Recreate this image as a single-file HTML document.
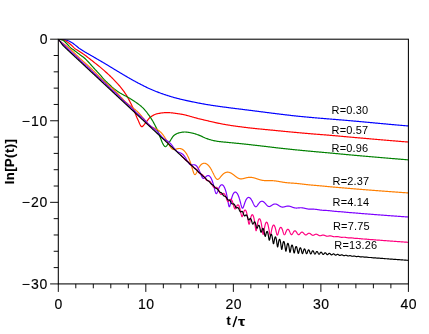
<!DOCTYPE html><html><head><meta charset="utf-8"><title>ln P(t)</title><style>
html,body{margin:0;padding:0;background:#fff;}
body{width:429px;height:334px;position:relative;overflow:hidden;font-family:"Liberation Sans",sans-serif;color:#000;}
#txt{position:absolute;left:0;top:0;width:429px;height:334px;filter:grayscale(1);will-change:transform;}
.t{position:absolute;font-size:14px;line-height:1;white-space:nowrap;-webkit-text-stroke:0.15px #000;}
.l{position:absolute;font-size:11px;line-height:1;white-space:nowrap;}
.b{font-weight:bold;}
</style></head><body>
<svg width="429" height="334" viewBox="0 0 429 334" style="position:absolute;left:0;top:0">
<defs><clipPath id="c"><rect x="58.3" y="39.2" width="350.10" height="244.71"/></clipPath></defs>
<g clip-path="url(#c)" fill="none" stroke-linejoin="round" stroke-linecap="round">
<path d="M58.30,39.20 L58.89,39.21 L59.47,39.22 L60.06,39.25 L60.64,39.29 L61.23,39.34 L61.81,39.39 L62.40,39.44 L62.98,39.50 L63.57,39.57 L64.15,39.66 L64.74,39.77 L65.33,39.90 L65.91,40.04 L66.50,40.20 L67.08,40.37 L67.67,40.55 L68.25,40.77 L68.84,41.01 L69.42,41.29 L70.01,41.58 L70.59,41.90 L71.18,42.22 L71.77,42.56 L72.35,42.92 L72.94,43.31 L73.52,43.74 L74.11,44.20 L74.69,44.66 L75.28,45.13 L75.86,45.59 L76.45,46.07 L77.04,46.57 L77.62,47.07 L78.21,47.54 L78.79,47.99 L79.38,48.42 L79.96,48.82 L80.55,49.22 L81.13,49.60 L81.72,49.98 L82.30,50.35 L82.89,50.71 L83.48,51.08 L84.06,51.44 L84.65,51.80 L85.23,52.15 L85.82,52.49 L86.40,52.84 L86.99,53.18 L87.57,53.51 L88.16,53.85 L88.74,54.18 L89.33,54.51 L89.92,54.84 L90.50,55.17 L91.09,55.50 L91.67,55.84 L92.26,56.17 L92.84,56.51 L93.43,56.85 L94.01,57.19 L94.60,57.53 L95.18,57.87 L95.77,58.21 L96.36,58.55 L96.94,58.89 L97.53,59.24 L98.11,59.58 L98.70,59.92 L99.28,60.26 L99.87,60.60 L100.45,60.95 L101.04,61.29 L101.63,61.63 L102.21,61.98 L102.80,62.32 L103.38,62.67 L103.97,63.01 L104.55,63.36 L105.14,63.71 L105.72,64.06 L106.31,64.41 L106.89,64.76 L107.48,65.11 L108.07,65.46 L108.65,65.81 L109.24,66.17 L109.82,66.52 L110.41,66.88 L110.99,67.24 L111.58,67.60 L112.16,67.95 L112.75,68.31 L113.33,68.67 L113.92,69.03 L114.51,69.39 L115.09,69.74 L115.68,70.10 L116.26,70.45 L116.85,70.81 L117.43,71.16 L118.02,71.51 L118.60,71.86 L119.19,72.21 L119.77,72.56 L120.36,72.91 L120.95,73.26 L121.53,73.61 L122.12,73.96 L122.70,74.30 L123.29,74.65 L123.87,75.00 L124.46,75.35 L125.04,75.69 L125.63,76.04 L126.22,76.38 L126.80,76.72 L127.39,77.06 L127.97,77.40 L128.56,77.74 L129.14,78.08 L129.73,78.42 L130.31,78.75 L130.90,79.08 L131.48,79.41 L132.07,79.74 L132.66,80.06 L133.24,80.39 L133.83,80.71 L134.41,81.03 L135.00,81.35 L135.58,81.67 L136.17,81.99 L136.75,82.30 L137.34,82.61 L137.92,82.92 L138.51,83.23 L139.10,83.53 L139.68,83.84 L140.27,84.14 L140.85,84.44 L141.44,84.74 L142.02,85.04 L142.61,85.34 L143.19,85.63 L143.78,85.93 L144.36,86.23 L144.95,86.52 L145.54,86.81 L146.12,87.10 L146.71,87.39 L147.29,87.67 L147.88,87.95 L148.46,88.23 L149.05,88.50 L149.63,88.77 L150.22,89.03 L150.81,89.29 L151.39,89.54 L151.98,89.79 L152.56,90.03 L153.15,90.28 L153.73,90.52 L154.32,90.76 L154.90,90.99 L155.49,91.23 L156.07,91.46 L156.66,91.69 L157.25,91.91 L157.83,92.14 L158.42,92.36 L159.00,92.58 L159.59,92.80 L160.17,93.01 L160.76,93.22 L161.34,93.43 L161.93,93.64 L162.51,93.85 L163.10,94.05 L163.69,94.25 L164.27,94.45 L164.86,94.65 L165.44,94.85 L166.03,95.04 L166.61,95.23 L167.20,95.42 L167.78,95.61 L168.37,95.80 L168.95,95.99 L169.54,96.17 L170.13,96.35 L170.71,96.53 L171.30,96.71 L171.88,96.88 L172.47,97.05 L173.05,97.22 L173.64,97.39 L174.22,97.56 L174.81,97.72 L175.40,97.88 L175.98,98.03 L176.57,98.19 L177.15,98.34 L177.74,98.49 L178.32,98.63 L178.91,98.78 L179.49,98.93 L180.08,99.07 L180.66,99.21 L181.25,99.35 L181.84,99.49 L182.42,99.63 L183.01,99.76 L183.59,99.90 L184.18,100.03 L184.76,100.17 L185.35,100.30 L185.93,100.43 L186.52,100.56 L187.10,100.69 L187.69,100.81 L188.28,100.94 L188.86,101.06 L189.45,101.19 L190.03,101.31 L190.62,101.43 L191.20,101.56 L191.79,101.68 L192.37,101.80 L192.96,101.92 L193.54,102.04 L194.13,102.15 L194.72,102.27 L195.30,102.39 L195.89,102.50 L196.47,102.62 L197.06,102.73 L197.64,102.85 L198.23,102.96 L198.81,103.07 L199.40,103.19 L199.99,103.30 L200.57,103.41 L201.16,103.52 L201.74,103.63 L202.33,103.74 L202.91,103.85 L203.50,103.95 L204.08,104.06 L204.67,104.16 L205.25,104.27 L205.84,104.37 L206.43,104.47 L207.01,104.57 L207.60,104.67 L208.18,104.76 L208.77,104.86 L209.35,104.95 L209.94,105.04 L210.52,105.13 L211.11,105.22 L211.69,105.31 L212.28,105.40 L212.87,105.49 L213.45,105.58 L214.04,105.66 L214.62,105.75 L215.21,105.84 L215.79,105.92 L216.38,106.01 L216.96,106.09 L217.55,106.17 L218.13,106.26 L218.72,106.34 L219.31,106.42 L219.89,106.50 L220.48,106.58 L221.06,106.66 L221.65,106.74 L222.23,106.82 L222.82,106.90 L223.40,106.98 L223.99,107.06 L224.58,107.14 L225.16,107.21 L225.75,107.29 L226.33,107.37 L226.92,107.44 L227.50,107.52 L228.09,107.60 L228.67,107.67 L229.26,107.75 L229.84,107.82 L230.43,107.90 L231.02,107.97 L231.60,108.05 L232.19,108.12 L232.77,108.19 L233.36,108.27 L233.94,108.34 L234.53,108.41 L235.11,108.49 L235.70,108.56 L236.28,108.63 L236.87,108.71 L237.46,108.78 L238.04,108.85 L238.63,108.92 L239.21,109.00 L239.80,109.07 L240.38,109.14 L240.97,109.21 L241.55,109.29 L242.14,109.36 L242.72,109.43 L243.31,109.50 L243.90,109.58 L244.48,109.65 L245.07,109.72 L245.65,109.79 L246.24,109.87 L246.82,109.94 L247.41,110.01 L247.99,110.09 L248.58,110.16 L249.17,110.23 L249.75,110.30 L250.34,110.38 L250.92,110.45 L251.51,110.53 L252.09,110.60 L252.68,110.67 L253.26,110.75 L253.85,110.82 L254.43,110.90 L255.02,110.97 L255.61,111.05 L256.19,111.12 L256.78,111.20 L257.36,111.27 L257.95,111.35 L258.53,111.42 L259.12,111.50 L259.70,111.57 L260.29,111.65 L260.87,111.72 L261.46,111.80 L262.05,111.87 L262.63,111.95 L263.22,112.02 L263.80,112.10 L264.39,112.17 L264.97,112.25 L265.56,112.33 L266.14,112.40 L266.73,112.48 L267.31,112.55 L267.90,112.63 L268.49,112.70 L269.07,112.78 L269.66,112.85 L270.24,112.92 L270.83,113.00 L271.41,113.07 L272.00,113.15 L272.58,113.22 L273.17,113.30 L273.76,113.37 L274.34,113.44 L274.93,113.52 L275.51,113.59 L276.10,113.66 L276.68,113.74 L277.27,113.81 L277.85,113.88 L278.44,113.95 L279.02,114.03 L279.61,114.10 L280.20,114.17 L280.78,114.24 L281.37,114.31 L281.95,114.38 L282.54,114.45 L283.12,114.52 L283.71,114.59 L284.29,114.66 L284.88,114.73 L285.46,114.80 L286.05,114.87 L286.64,114.94 L287.22,115.01 L287.81,115.08 L288.39,115.14 L288.98,115.21 L289.56,115.28 L290.15,115.34 L290.73,115.41 L291.32,115.48 L291.90,115.54 L292.49,115.61 L293.08,115.67 L293.66,115.73 L294.25,115.80 L294.83,115.86 L295.42,115.92 L296.00,115.99 L296.59,116.05 L297.17,116.11 L297.76,116.17 L298.35,116.23 L298.93,116.29 L299.52,116.35 L300.10,116.41 L300.69,116.47 L301.27,116.53 L301.86,116.58 L302.44,116.64 L303.03,116.70 L303.61,116.76 L304.20,116.81 L304.79,116.87 L305.37,116.92 L305.96,116.98 L306.54,117.03 L307.13,117.09 L307.71,117.14 L308.30,117.20 L308.88,117.25 L309.47,117.30 L310.05,117.36 L310.64,117.41 L311.23,117.46 L311.81,117.51 L312.40,117.56 L312.98,117.62 L313.57,117.67 L314.15,117.72 L314.74,117.77 L315.32,117.82 L315.91,117.87 L316.49,117.92 L317.08,117.97 L317.67,118.02 L318.25,118.07 L318.84,118.12 L319.42,118.17 L320.01,118.22 L320.59,118.26 L321.18,118.31 L321.76,118.36 L322.35,118.41 L322.94,118.46 L323.52,118.51 L324.11,118.55 L324.69,118.60 L325.28,118.65 L325.86,118.70 L326.45,118.75 L327.03,118.79 L327.62,118.84 L328.20,118.89 L328.79,118.94 L329.38,118.98 L329.96,119.03 L330.55,119.08 L331.13,119.12 L331.72,119.17 L332.30,119.22 L332.89,119.27 L333.47,119.31 L334.06,119.36 L334.64,119.41 L335.23,119.46 L335.82,119.50 L336.40,119.55 L336.99,119.60 L337.57,119.65 L338.16,119.69 L338.74,119.74 L339.33,119.79 L339.91,119.84 L340.50,119.89 L341.08,119.93 L341.67,119.98 L342.26,120.03 L342.84,120.08 L343.43,120.13 L344.01,120.18 L344.60,120.23 L345.18,120.27 L345.77,120.32 L346.35,120.37 L346.94,120.42 L347.53,120.47 L348.11,120.52 L348.70,120.57 L349.28,120.62 L349.87,120.67 L350.45,120.73 L351.04,120.78 L351.62,120.83 L352.21,120.88 L352.79,120.93 L353.38,120.98 L353.97,121.04 L354.55,121.09 L355.14,121.14 L355.72,121.19 L356.31,121.25 L356.89,121.30 L357.48,121.35 L358.06,121.41 L358.65,121.46 L359.23,121.51 L359.82,121.57 L360.41,121.62 L360.99,121.67 L361.58,121.73 L362.16,121.78 L362.75,121.83 L363.33,121.89 L363.92,121.94 L364.50,122.00 L365.09,122.05 L365.67,122.11 L366.26,122.16 L366.85,122.22 L367.43,122.27 L368.02,122.32 L368.60,122.38 L369.19,122.43 L369.77,122.49 L370.36,122.54 L370.94,122.60 L371.53,122.65 L372.12,122.71 L372.70,122.76 L373.29,122.82 L373.87,122.87 L374.46,122.93 L375.04,122.98 L375.63,123.04 L376.21,123.09 L376.80,123.15 L377.38,123.20 L377.97,123.26 L378.56,123.31 L379.14,123.37 L379.73,123.42 L380.31,123.47 L380.90,123.53 L381.48,123.58 L382.07,123.64 L382.65,123.69 L383.24,123.75 L383.82,123.80 L384.41,123.86 L385.00,123.91 L385.58,123.96 L386.17,124.02 L386.75,124.07 L387.34,124.13 L387.92,124.18 L388.51,124.23 L389.09,124.29 L389.68,124.34 L390.26,124.39 L390.85,124.45 L391.44,124.50 L392.02,124.55 L392.61,124.60 L393.19,124.66 L393.78,124.71 L394.36,124.76 L394.95,124.81 L395.53,124.87 L396.12,124.92 L396.71,124.97 L397.29,125.02 L397.88,125.07 L398.46,125.12 L399.05,125.17 L399.63,125.22 L400.22,125.27 L400.80,125.32 L401.39,125.37 L401.97,125.42 L402.56,125.47 L403.15,125.52 L403.73,125.57 L404.32,125.62 L404.90,125.67 L405.49,125.72 L406.07,125.77 L406.66,125.82 L407.24,125.86 L407.83,125.91 L408.41,125.96 L409.00,126.00" stroke="#0000ff" stroke-width="1.18"/>
<path d="M58.30,39.20 L58.89,39.21 L59.47,39.25 L60.06,39.31 L60.64,39.39 L61.23,39.47 L61.81,39.57 L62.40,39.68 L62.98,39.84 L63.57,40.04 L64.15,40.28 L64.74,40.54 L65.33,40.82 L65.91,41.11 L66.50,41.44 L67.08,41.81 L67.67,42.22 L68.25,42.64 L68.84,43.08 L69.42,43.52 L70.01,43.98 L70.59,44.46 L71.18,44.96 L71.77,45.48 L72.35,46.05 L72.94,46.69 L73.52,47.34 L74.11,47.92 L74.69,48.40 L75.28,48.83 L75.86,49.23 L76.45,49.61 L77.04,49.97 L77.62,50.33 L78.21,50.69 L78.79,51.06 L79.38,51.45 L79.96,51.83 L80.55,52.21 L81.13,52.59 L81.72,52.97 L82.30,53.35 L82.89,53.74 L83.48,54.13 L84.06,54.54 L84.65,54.96 L85.23,55.40 L85.82,55.84 L86.40,56.29 L86.99,56.74 L87.57,57.19 L88.16,57.65 L88.74,58.10 L89.33,58.55 L89.92,59.01 L90.50,59.46 L91.09,59.92 L91.67,60.38 L92.26,60.83 L92.84,61.29 L93.43,61.75 L94.01,62.22 L94.60,62.68 L95.18,63.14 L95.77,63.60 L96.36,64.06 L96.94,64.52 L97.53,64.98 L98.11,65.45 L98.70,65.92 L99.28,66.40 L99.87,66.89 L100.45,67.39 L101.04,67.88 L101.63,68.38 L102.21,68.89 L102.80,69.39 L103.38,69.90 L103.97,70.41 L104.55,70.92 L105.14,71.44 L105.72,71.96 L106.31,72.48 L106.89,73.01 L107.48,73.54 L108.07,74.08 L108.65,74.63 L109.24,75.18 L109.82,75.73 L110.41,76.29 L110.99,76.86 L111.58,77.44 L112.16,78.02 L112.75,78.61 L113.33,79.21 L113.92,79.81 L114.51,80.42 L115.09,81.04 L115.68,81.66 L116.26,82.28 L116.85,82.90 L117.43,83.54 L118.02,84.18 L118.60,84.84 L119.19,85.50 L119.77,86.18 L120.36,86.87 L120.95,87.57 L121.53,88.30 L122.12,89.04 L122.70,89.80 L123.29,90.58 L123.87,91.39 L124.46,92.21 L125.04,93.07 L125.63,93.96 L126.22,94.89 L126.80,95.86 L127.39,96.88 L127.97,97.93 L128.56,99.01 L129.14,100.12 L129.73,101.26 L130.31,102.43 L130.90,103.61 L131.48,104.82 L132.07,106.04 L132.66,107.27 L133.24,108.52 L133.83,109.87 L134.41,111.30 L135.00,112.78 L135.58,114.28 L136.17,115.77 L136.75,117.21 L137.34,118.58 L137.92,119.85 L138.51,121.10 L139.10,122.47 L139.68,123.83 L140.27,125.05 L140.85,126.02 L141.44,126.59 L142.02,126.67 L142.61,126.36 L143.19,125.78 L143.78,125.05 L144.36,124.27 L144.95,123.55 L145.54,122.88 L146.12,122.15 L146.71,121.37 L147.29,120.57 L147.88,119.79 L148.46,119.05 L149.05,118.38 L149.63,117.80 L150.22,117.34 L150.81,116.91 L151.39,116.50 L151.98,116.10 L152.56,115.73 L153.15,115.38 L153.73,115.05 L154.32,114.75 L154.90,114.48 L155.49,114.24 L156.07,114.04 L156.66,113.88 L157.25,113.75 L157.83,113.63 L158.42,113.52 L159.00,113.41 L159.59,113.30 L160.17,113.20 L160.76,113.11 L161.34,113.02 L161.93,112.94 L162.51,112.86 L163.10,112.80 L163.69,112.74 L164.27,112.69 L164.86,112.65 L165.44,112.63 L166.03,112.61 L166.61,112.60 L167.20,112.60 L167.78,112.61 L168.37,112.63 L168.95,112.66 L169.54,112.70 L170.13,112.74 L170.71,112.78 L171.30,112.84 L171.88,112.89 L172.47,112.96 L173.05,113.02 L173.64,113.10 L174.22,113.17 L174.81,113.25 L175.40,113.33 L175.98,113.41 L176.57,113.50 L177.15,113.58 L177.74,113.67 L178.32,113.75 L178.91,113.84 L179.49,113.93 L180.08,114.01 L180.66,114.10 L181.25,114.20 L181.84,114.30 L182.42,114.41 L183.01,114.53 L183.59,114.65 L184.18,114.78 L184.76,114.91 L185.35,115.05 L185.93,115.19 L186.52,115.34 L187.10,115.49 L187.69,115.64 L188.28,115.80 L188.86,115.96 L189.45,116.12 L190.03,116.28 L190.62,116.45 L191.20,116.62 L191.79,116.78 L192.37,116.95 L192.96,117.12 L193.54,117.28 L194.13,117.45 L194.72,117.62 L195.30,117.78 L195.89,117.94 L196.47,118.10 L197.06,118.26 L197.64,118.41 L198.23,118.57 L198.81,118.71 L199.40,118.86 L199.99,119.00 L200.57,119.13 L201.16,119.27 L201.74,119.41 L202.33,119.55 L202.91,119.69 L203.50,119.83 L204.08,119.97 L204.67,120.10 L205.25,120.24 L205.84,120.38 L206.43,120.52 L207.01,120.66 L207.60,120.80 L208.18,120.94 L208.77,121.08 L209.35,121.21 L209.94,121.35 L210.52,121.49 L211.11,121.62 L211.69,121.76 L212.28,121.89 L212.87,122.03 L213.45,122.16 L214.04,122.29 L214.62,122.42 L215.21,122.55 L215.79,122.68 L216.38,122.81 L216.96,122.93 L217.55,123.06 L218.13,123.18 L218.72,123.30 L219.31,123.42 L219.89,123.54 L220.48,123.66 L221.06,123.77 L221.65,123.89 L222.23,124.00 L222.82,124.11 L223.40,124.22 L223.99,124.32 L224.58,124.42 L225.16,124.53 L225.75,124.62 L226.33,124.72 L226.92,124.82 L227.50,124.91 L228.09,125.01 L228.67,125.10 L229.26,125.19 L229.84,125.28 L230.43,125.38 L231.02,125.46 L231.60,125.55 L232.19,125.64 L232.77,125.73 L233.36,125.81 L233.94,125.90 L234.53,125.98 L235.11,126.06 L235.70,126.15 L236.28,126.23 L236.87,126.31 L237.46,126.39 L238.04,126.47 L238.63,126.55 L239.21,126.62 L239.80,126.70 L240.38,126.78 L240.97,126.85 L241.55,126.93 L242.14,127.00 L242.72,127.08 L243.31,127.15 L243.90,127.22 L244.48,127.29 L245.07,127.37 L245.65,127.44 L246.24,127.51 L246.82,127.58 L247.41,127.65 L247.99,127.72 L248.58,127.79 L249.17,127.85 L249.75,127.92 L250.34,127.99 L250.92,128.06 L251.51,128.12 L252.09,128.19 L252.68,128.25 L253.26,128.32 L253.85,128.38 L254.43,128.44 L255.02,128.51 L255.61,128.57 L256.19,128.63 L256.78,128.69 L257.36,128.75 L257.95,128.80 L258.53,128.86 L259.12,128.92 L259.70,128.98 L260.29,129.03 L260.87,129.09 L261.46,129.15 L262.05,129.20 L262.63,129.26 L263.22,129.31 L263.80,129.37 L264.39,129.42 L264.97,129.48 L265.56,129.54 L266.14,129.59 L266.73,129.65 L267.31,129.70 L267.90,129.76 L268.49,129.81 L269.07,129.87 L269.66,129.93 L270.24,129.98 L270.83,130.04 L271.41,130.10 L272.00,130.16 L272.58,130.21 L273.17,130.27 L273.76,130.33 L274.34,130.39 L274.93,130.44 L275.51,130.50 L276.10,130.56 L276.68,130.62 L277.27,130.68 L277.85,130.73 L278.44,130.79 L279.02,130.85 L279.61,130.90 L280.20,130.96 L280.78,131.02 L281.37,131.08 L281.95,131.13 L282.54,131.19 L283.12,131.25 L283.71,131.30 L284.29,131.36 L284.88,131.41 L285.46,131.47 L286.05,131.53 L286.64,131.58 L287.22,131.64 L287.81,131.69 L288.39,131.75 L288.98,131.80 L289.56,131.86 L290.15,131.91 L290.73,131.97 L291.32,132.02 L291.90,132.08 L292.49,132.13 L293.08,132.19 L293.66,132.24 L294.25,132.29 L294.83,132.35 L295.42,132.40 L296.00,132.46 L296.59,132.51 L297.17,132.56 L297.76,132.62 L298.35,132.67 L298.93,132.72 L299.52,132.78 L300.10,132.83 L300.69,132.88 L301.27,132.94 L301.86,132.99 L302.44,133.04 L303.03,133.09 L303.61,133.15 L304.20,133.20 L304.79,133.25 L305.37,133.30 L305.96,133.35 L306.54,133.40 L307.13,133.45 L307.71,133.50 L308.30,133.55 L308.88,133.60 L309.47,133.65 L310.05,133.70 L310.64,133.75 L311.23,133.80 L311.81,133.85 L312.40,133.90 L312.98,133.95 L313.57,133.99 L314.15,134.04 L314.74,134.09 L315.32,134.13 L315.91,134.18 L316.49,134.23 L317.08,134.27 L317.67,134.32 L318.25,134.36 L318.84,134.41 L319.42,134.46 L320.01,134.50 L320.59,134.55 L321.18,134.59 L321.76,134.64 L322.35,134.68 L322.94,134.73 L323.52,134.78 L324.11,134.82 L324.69,134.87 L325.28,134.91 L325.86,134.96 L326.45,135.01 L327.03,135.06 L327.62,135.10 L328.20,135.15 L328.79,135.20 L329.38,135.25 L329.96,135.30 L330.55,135.35 L331.13,135.40 L331.72,135.45 L332.30,135.50 L332.89,135.55 L333.47,135.60 L334.06,135.65 L334.64,135.70 L335.23,135.75 L335.82,135.81 L336.40,135.86 L336.99,135.91 L337.57,135.96 L338.16,136.02 L338.74,136.07 L339.33,136.12 L339.91,136.17 L340.50,136.23 L341.08,136.28 L341.67,136.33 L342.26,136.39 L342.84,136.44 L343.43,136.49 L344.01,136.55 L344.60,136.60 L345.18,136.65 L345.77,136.71 L346.35,136.76 L346.94,136.81 L347.53,136.87 L348.11,136.92 L348.70,136.97 L349.28,137.02 L349.87,137.07 L350.45,137.13 L351.04,137.18 L351.62,137.23 L352.21,137.28 L352.79,137.33 L353.38,137.38 L353.97,137.43 L354.55,137.48 L355.14,137.54 L355.72,137.59 L356.31,137.64 L356.89,137.69 L357.48,137.74 L358.06,137.79 L358.65,137.84 L359.23,137.89 L359.82,137.95 L360.41,138.00 L360.99,138.05 L361.58,138.10 L362.16,138.15 L362.75,138.20 L363.33,138.25 L363.92,138.30 L364.50,138.35 L365.09,138.41 L365.67,138.46 L366.26,138.51 L366.85,138.56 L367.43,138.61 L368.02,138.66 L368.60,138.71 L369.19,138.76 L369.77,138.81 L370.36,138.87 L370.94,138.92 L371.53,138.97 L372.12,139.02 L372.70,139.07 L373.29,139.12 L373.87,139.17 L374.46,139.22 L375.04,139.27 L375.63,139.32 L376.21,139.37 L376.80,139.42 L377.38,139.47 L377.97,139.52 L378.56,139.57 L379.14,139.62 L379.73,139.68 L380.31,139.73 L380.90,139.78 L381.48,139.83 L382.07,139.88 L382.65,139.93 L383.24,139.98 L383.82,140.03 L384.41,140.08 L385.00,140.13 L385.58,140.18 L386.17,140.22 L386.75,140.27 L387.34,140.32 L387.92,140.37 L388.51,140.42 L389.09,140.47 L389.68,140.52 L390.26,140.57 L390.85,140.62 L391.44,140.67 L392.02,140.72 L392.61,140.77 L393.19,140.82 L393.78,140.87 L394.36,140.91 L394.95,140.96 L395.53,141.01 L396.12,141.06 L396.71,141.11 L397.29,141.16 L397.88,141.20 L398.46,141.25 L399.05,141.30 L399.63,141.35 L400.22,141.40 L400.80,141.44 L401.39,141.49 L401.97,141.54 L402.56,141.59 L403.15,141.63 L403.73,141.68 L404.32,141.73 L404.90,141.78 L405.49,141.82 L406.07,141.87 L406.66,141.92 L407.24,141.96 L407.83,142.01 L408.41,142.06 L409.00,142.10" stroke="#ff0000" stroke-width="1.18"/>
<path d="M58.30,39.20 L58.89,39.23 L59.47,39.30 L60.06,39.40 L60.64,39.52 L61.23,39.65 L61.81,39.83 L62.40,40.06 L62.98,40.34 L63.57,40.69 L64.15,41.15 L64.74,41.68 L65.33,42.24 L65.91,42.79 L66.50,43.40 L67.08,44.02 L67.67,44.65 L68.25,45.27 L68.84,45.90 L69.42,46.54 L70.01,47.16 L70.59,47.73 L71.18,48.23 L71.77,48.66 L72.35,49.05 L72.94,49.44 L73.52,49.84 L74.11,50.27 L74.69,50.71 L75.28,51.16 L75.86,51.60 L76.45,52.05 L77.04,52.50 L77.62,52.94 L78.21,53.39 L78.79,53.83 L79.38,54.28 L79.96,54.72 L80.55,55.16 L81.13,55.60 L81.72,56.02 L82.30,56.43 L82.89,56.85 L83.48,57.28 L84.06,57.75 L84.65,58.26 L85.23,58.80 L85.82,59.37 L86.40,59.95 L86.99,60.55 L87.57,61.16 L88.16,61.77 L88.74,62.39 L89.33,63.02 L89.92,63.67 L90.50,64.33 L91.09,65.00 L91.67,65.66 L92.26,66.33 L92.84,66.98 L93.43,67.63 L94.01,68.27 L94.60,68.90 L95.18,69.53 L95.77,70.16 L96.36,70.78 L96.94,71.40 L97.53,72.03 L98.11,72.65 L98.70,73.29 L99.28,73.92 L99.87,74.57 L100.45,75.22 L101.04,75.89 L101.63,76.59 L102.21,77.30 L102.80,78.01 L103.38,78.70 L103.97,79.36 L104.55,79.97 L105.14,80.57 L105.72,81.15 L106.31,81.71 L106.89,82.26 L107.48,82.81 L108.07,83.35 L108.65,83.89 L109.24,84.43 L109.82,84.97 L110.41,85.51 L110.99,86.06 L111.58,86.59 L112.16,87.12 L112.75,87.63 L113.33,88.13 L113.92,88.62 L114.51,89.09 L115.09,89.55 L115.68,89.99 L116.26,90.43 L116.85,90.86 L117.43,91.27 L118.02,91.68 L118.60,92.07 L119.19,92.45 L119.77,92.82 L120.36,93.17 L120.95,93.52 L121.53,93.86 L122.12,94.19 L122.70,94.51 L123.29,94.81 L123.87,95.12 L124.46,95.41 L125.04,95.72 L125.63,96.02 L126.22,96.34 L126.80,96.67 L127.39,97.00 L127.97,97.34 L128.56,97.67 L129.14,98.01 L129.73,98.36 L130.31,98.70 L130.90,99.06 L131.48,99.41 L132.07,99.78 L132.66,100.15 L133.24,100.53 L133.83,100.91 L134.41,101.30 L135.00,101.70 L135.58,102.11 L136.17,102.52 L136.75,102.93 L137.34,103.35 L137.92,103.77 L138.51,104.21 L139.10,104.65 L139.68,105.11 L140.27,105.58 L140.85,106.07 L141.44,106.57 L142.02,107.09 L142.61,107.63 L143.19,108.19 L143.78,108.78 L144.36,109.42 L144.95,110.08 L145.54,110.78 L146.12,111.50 L146.71,112.24 L147.29,113.00 L147.88,113.77 L148.46,114.56 L149.05,115.37 L149.63,116.21 L150.22,117.07 L150.81,117.96 L151.39,118.87 L151.98,119.82 L152.56,120.79 L153.15,121.80 L153.73,122.84 L154.32,123.92 L154.90,125.03 L155.49,126.18 L156.07,127.37 L156.66,128.59 L157.25,129.86 L157.83,131.17 L158.42,132.59 L159.00,134.13 L159.59,135.73 L160.17,137.31 L160.76,138.82 L161.34,140.22 L161.93,141.65 L162.51,143.01 L163.10,144.18 L163.69,145.05 L164.27,145.85 L164.86,146.47 L165.44,146.70 L166.03,146.44 L166.61,145.84 L167.20,145.06 L167.78,144.26 L168.37,143.55 L168.95,142.74 L169.54,141.85 L170.13,140.92 L170.71,139.95 L171.30,139.00 L171.88,138.07 L172.47,137.20 L173.05,136.42 L173.64,135.75 L174.22,135.23 L174.81,134.83 L175.40,134.47 L175.98,134.13 L176.57,133.82 L177.15,133.54 L177.74,133.29 L178.32,133.07 L178.91,132.87 L179.49,132.71 L180.08,132.58 L180.66,132.47 L181.25,132.36 L181.84,132.26 L182.42,132.17 L183.01,132.09 L183.59,132.04 L184.18,132.01 L184.76,132.00 L185.35,132.02 L185.93,132.05 L186.52,132.10 L187.10,132.16 L187.69,132.23 L188.28,132.32 L188.86,132.42 L189.45,132.52 L190.03,132.62 L190.62,132.73 L191.20,132.85 L191.79,132.96 L192.37,133.07 L192.96,133.21 L193.54,133.35 L194.13,133.51 L194.72,133.69 L195.30,133.87 L195.89,134.07 L196.47,134.27 L197.06,134.49 L197.64,134.70 L198.23,134.92 L198.81,135.15 L199.40,135.37 L199.99,135.59 L200.57,135.83 L201.16,136.08 L201.74,136.35 L202.33,136.63 L202.91,136.92 L203.50,137.20 L204.08,137.48 L204.67,137.75 L205.25,138.01 L205.84,138.24 L206.43,138.46 L207.01,138.66 L207.60,138.87 L208.18,139.07 L208.77,139.26 L209.35,139.45 L209.94,139.63 L210.52,139.80 L211.11,139.97 L211.69,140.13 L212.28,140.27 L212.87,140.42 L213.45,140.55 L214.04,140.68 L214.62,140.81 L215.21,140.92 L215.79,141.04 L216.38,141.14 L216.96,141.24 L217.55,141.34 L218.13,141.42 L218.72,141.50 L219.31,141.57 L219.89,141.64 L220.48,141.70 L221.06,141.76 L221.65,141.82 L222.23,141.88 L222.82,141.93 L223.40,141.99 L223.99,142.04 L224.58,142.10 L225.16,142.16 L225.75,142.21 L226.33,142.27 L226.92,142.33 L227.50,142.39 L228.09,142.45 L228.67,142.50 L229.26,142.56 L229.84,142.62 L230.43,142.67 L231.02,142.73 L231.60,142.78 L232.19,142.84 L232.77,142.89 L233.36,142.95 L233.94,143.01 L234.53,143.06 L235.11,143.12 L235.70,143.17 L236.28,143.23 L236.87,143.29 L237.46,143.34 L238.04,143.40 L238.63,143.46 L239.21,143.52 L239.80,143.58 L240.38,143.64 L240.97,143.70 L241.55,143.76 L242.14,143.82 L242.72,143.88 L243.31,143.95 L243.90,144.01 L244.48,144.07 L245.07,144.13 L245.65,144.20 L246.24,144.26 L246.82,144.32 L247.41,144.39 L247.99,144.45 L248.58,144.52 L249.17,144.58 L249.75,144.64 L250.34,144.71 L250.92,144.77 L251.51,144.84 L252.09,144.91 L252.68,144.97 L253.26,145.04 L253.85,145.10 L254.43,145.17 L255.02,145.23 L255.61,145.30 L256.19,145.37 L256.78,145.43 L257.36,145.50 L257.95,145.57 L258.53,145.63 L259.12,145.70 L259.70,145.77 L260.29,145.83 L260.87,145.90 L261.46,145.97 L262.05,146.04 L262.63,146.10 L263.22,146.17 L263.80,146.24 L264.39,146.31 L264.97,146.38 L265.56,146.45 L266.14,146.52 L266.73,146.59 L267.31,146.67 L267.90,146.74 L268.49,146.81 L269.07,146.88 L269.66,146.95 L270.24,147.02 L270.83,147.09 L271.41,147.16 L272.00,147.24 L272.58,147.31 L273.17,147.38 L273.76,147.45 L274.34,147.52 L274.93,147.59 L275.51,147.66 L276.10,147.73 L276.68,147.80 L277.27,147.86 L277.85,147.93 L278.44,148.00 L279.02,148.07 L279.61,148.13 L280.20,148.20 L280.78,148.27 L281.37,148.33 L281.95,148.39 L282.54,148.46 L283.12,148.52 L283.71,148.58 L284.29,148.65 L284.88,148.71 L285.46,148.77 L286.05,148.83 L286.64,148.90 L287.22,148.96 L287.81,149.02 L288.39,149.08 L288.98,149.14 L289.56,149.20 L290.15,149.26 L290.73,149.32 L291.32,149.38 L291.90,149.44 L292.49,149.50 L293.08,149.56 L293.66,149.62 L294.25,149.68 L294.83,149.73 L295.42,149.79 L296.00,149.85 L296.59,149.91 L297.17,149.97 L297.76,150.02 L298.35,150.08 L298.93,150.14 L299.52,150.20 L300.10,150.25 L300.69,150.31 L301.27,150.37 L301.86,150.42 L302.44,150.48 L303.03,150.54 L303.61,150.59 L304.20,150.65 L304.79,150.70 L305.37,150.76 L305.96,150.82 L306.54,150.87 L307.13,150.93 L307.71,150.98 L308.30,151.04 L308.88,151.09 L309.47,151.15 L310.05,151.21 L310.64,151.26 L311.23,151.31 L311.81,151.37 L312.40,151.42 L312.98,151.48 L313.57,151.53 L314.15,151.58 L314.74,151.64 L315.32,151.69 L315.91,151.74 L316.49,151.80 L317.08,151.85 L317.67,151.90 L318.25,151.95 L318.84,152.00 L319.42,152.06 L320.01,152.11 L320.59,152.16 L321.18,152.21 L321.76,152.26 L322.35,152.31 L322.94,152.37 L323.52,152.42 L324.11,152.47 L324.69,152.52 L325.28,152.57 L325.86,152.63 L326.45,152.68 L327.03,152.73 L327.62,152.78 L328.20,152.84 L328.79,152.89 L329.38,152.94 L329.96,153.00 L330.55,153.05 L331.13,153.10 L331.72,153.16 L332.30,153.21 L332.89,153.27 L333.47,153.32 L334.06,153.38 L334.64,153.43 L335.23,153.49 L335.82,153.54 L336.40,153.60 L336.99,153.65 L337.57,153.71 L338.16,153.77 L338.74,153.82 L339.33,153.88 L339.91,153.93 L340.50,153.99 L341.08,154.04 L341.67,154.10 L342.26,154.16 L342.84,154.21 L343.43,154.27 L344.01,154.32 L344.60,154.38 L345.18,154.43 L345.77,154.49 L346.35,154.54 L346.94,154.60 L347.53,154.65 L348.11,154.71 L348.70,154.76 L349.28,154.82 L349.87,154.87 L350.45,154.92 L351.04,154.98 L351.62,155.03 L352.21,155.08 L352.79,155.13 L353.38,155.19 L353.97,155.24 L354.55,155.29 L355.14,155.34 L355.72,155.40 L356.31,155.45 L356.89,155.50 L357.48,155.55 L358.06,155.61 L358.65,155.66 L359.23,155.71 L359.82,155.76 L360.41,155.81 L360.99,155.86 L361.58,155.91 L362.16,155.97 L362.75,156.02 L363.33,156.07 L363.92,156.12 L364.50,156.17 L365.09,156.22 L365.67,156.27 L366.26,156.32 L366.85,156.37 L367.43,156.42 L368.02,156.47 L368.60,156.53 L369.19,156.58 L369.77,156.63 L370.36,156.68 L370.94,156.73 L371.53,156.78 L372.12,156.83 L372.70,156.88 L373.29,156.93 L373.87,156.98 L374.46,157.03 L375.04,157.08 L375.63,157.13 L376.21,157.18 L376.80,157.23 L377.38,157.28 L377.97,157.33 L378.56,157.38 L379.14,157.43 L379.73,157.48 L380.31,157.53 L380.90,157.58 L381.48,157.63 L382.07,157.68 L382.65,157.73 L383.24,157.78 L383.82,157.83 L384.41,157.87 L385.00,157.92 L385.58,157.97 L386.17,158.02 L386.75,158.07 L387.34,158.12 L387.92,158.17 L388.51,158.22 L389.09,158.27 L389.68,158.32 L390.26,158.37 L390.85,158.42 L391.44,158.47 L392.02,158.52 L392.61,158.57 L393.19,158.62 L393.78,158.66 L394.36,158.71 L394.95,158.76 L395.53,158.81 L396.12,158.86 L396.71,158.91 L397.29,158.96 L397.88,159.01 L398.46,159.05 L399.05,159.10 L399.63,159.15 L400.22,159.20 L400.80,159.25 L401.39,159.29 L401.97,159.34 L402.56,159.39 L403.15,159.44 L403.73,159.48 L404.32,159.53 L404.90,159.58 L405.49,159.62 L406.07,159.67 L406.66,159.72 L407.24,159.76 L407.83,159.81 L408.41,159.86 L409.00,159.90" stroke="#008000" stroke-width="1.18"/>
<path d="M58.30,39.20 L58.74,40.19 L58.86,40.33 L58.99,40.47 L59.11,40.59 L59.24,40.71 L59.36,40.82 L59.49,40.93 L59.61,41.03 L59.74,41.13 L59.86,41.23 L59.99,41.32 L60.11,41.42 L60.24,41.51 L60.36,41.60 L60.49,41.69 L60.61,41.78 L60.74,41.87 L60.86,41.96 L60.99,42.05 L61.11,42.13 L61.24,42.22 L61.36,42.31 L61.48,42.39 L61.61,42.48 L61.73,42.56 L61.86,42.65 L61.98,42.74 L62.11,42.82 L62.23,42.91 L62.36,42.99 L62.48,43.08 L62.61,43.16 L62.73,43.25 L62.86,43.33 L62.98,43.42 L63.11,43.50 L63.23,43.59 L63.36,43.68 L63.48,43.76 L63.61,43.85 L63.73,43.94 L63.86,44.02 L63.98,44.11 L64.11,44.20 L64.23,44.29 L64.36,44.38 L64.48,44.47 L64.61,44.56 L64.73,44.65 L64.86,44.74 L64.98,44.83 L65.11,44.92 L65.23,45.01 L65.36,45.10 L65.48,45.19 L65.61,45.29 L65.73,45.38 L65.86,45.47 L65.98,45.57 L66.11,45.66 L66.23,45.76 L66.36,45.85 L66.48,45.95 L66.61,46.05 L66.73,46.14 L66.85,46.24 L66.98,46.34 L67.10,46.44 L67.23,46.54 L67.35,46.64 L67.48,46.74 L67.60,46.84 L67.73,46.94 L67.85,47.04 L67.98,47.14 L68.10,47.25 L68.23,47.35 L68.35,47.46 L68.48,47.56 L68.60,47.66 L68.73,47.77 L68.85,47.88 L68.98,47.98 L69.10,48.09 L69.23,48.20 L69.35,48.31 L69.48,48.41 L69.60,48.52 L69.73,48.63 L69.85,48.74 L69.98,48.85 L70.10,48.96 L70.23,49.08 L70.35,49.19 L70.48,49.30 L70.60,49.41 L70.73,49.53 L70.85,49.64 L70.98,49.75 L71.10,49.87 L71.23,49.98 L71.35,50.10 L71.48,50.21 L71.60,50.33 L71.73,50.44 L71.85,50.56 L71.97,50.68 L72.10,50.79 L72.22,50.91 L72.35,51.03 L72.47,51.15 L72.60,51.27 L72.72,51.38 L72.85,51.50 L72.97,51.62 L73.10,51.74 L73.22,51.86 L73.35,51.98 L73.47,52.10 L73.60,52.22 L73.72,52.34 L73.85,52.46 L73.97,52.58 L74.10,52.70 L74.22,52.82 L74.35,52.95 L74.47,53.07 L74.60,53.19 L74.72,53.31 L74.85,53.43 L74.97,53.55 L75.10,53.67 L75.22,53.79 L75.35,53.92 L75.47,54.04 L75.60,54.16 L75.72,54.28 L75.85,54.40 L75.97,54.52 L76.10,54.64 L76.22,54.77 L76.35,54.89 L76.47,55.01 L76.60,55.13 L76.72,55.25 L76.85,55.37 L76.97,55.49 L77.09,55.61 L77.22,55.73 L77.34,55.85 L77.47,55.97 L77.59,56.09 L77.72,56.21 L77.84,56.33 L77.97,56.45 L78.09,56.57 L78.22,56.69 L78.34,56.81 L78.47,56.93 L78.59,57.05 L78.72,57.17 L78.84,57.29 L78.97,57.41 L79.09,57.52 L79.22,57.64 L79.34,57.76 L79.47,57.88 L79.59,57.99 L79.72,58.11 L79.84,58.23 L79.97,58.34 L80.09,58.46 L80.22,58.58 L80.34,58.69 L80.47,58.81 L80.59,58.92 L80.72,59.04 L80.84,59.15 L80.97,59.27 L81.09,59.38 L81.22,59.50 L81.34,59.61 L81.47,59.72 L81.59,59.84 L81.72,59.95 L81.84,60.06 L81.97,60.18 L82.09,60.29 L82.21,60.40 L82.34,60.52 L82.46,60.63 L82.59,60.74 L82.71,60.85 L82.84,60.96 L82.96,61.08 L83.09,61.19 L83.21,61.30 L83.34,61.41 L83.46,61.52 L83.59,61.63 L83.71,61.74 L83.84,61.86 L83.96,61.97 L84.09,62.08 L84.21,62.19 L84.34,62.30 L84.46,62.41 L84.59,62.52 L84.71,62.63 L84.84,62.74 L84.96,62.85 L85.09,62.96 L85.21,63.07 L85.34,63.18 L85.46,63.29 L85.59,63.40 L85.71,63.51 L85.84,63.63 L85.96,63.74 L86.09,63.85 L86.21,63.96 L86.34,64.07 L86.46,64.18 L86.59,64.29 L86.71,64.40 L86.84,64.51 L86.96,64.62 L87.09,64.73 L87.21,64.85 L87.34,64.96 L87.46,65.07 L87.58,65.18 L87.71,65.29 L87.83,65.40 L87.96,65.52 L88.08,65.63 L88.21,65.74 L88.33,65.85 L88.46,65.97 L88.58,66.08 L88.71,66.19 L88.83,66.31 L88.96,66.42 L89.08,66.54 L89.21,66.65 L89.33,66.76 L89.46,66.88 L89.58,66.99 L89.71,67.11 L89.83,67.22 L89.96,67.34 L90.08,67.46 L90.21,67.57 L90.33,67.69 L90.46,67.80 L90.58,67.92 L90.71,68.04 L90.83,68.16 L90.96,68.27 L91.08,68.39 L91.21,68.51 L91.33,68.63 L91.46,68.75 L91.58,68.87 L91.71,68.99 L91.83,69.10 L91.96,69.22 L92.08,69.34 L92.21,69.46 L92.33,69.59 L92.46,69.71 L92.58,69.83 L92.70,69.95 L92.83,70.07 L92.95,70.19 L93.08,70.31 L93.20,70.44 L93.33,70.56 L93.45,70.68 L93.58,70.80 L93.70,70.93 L93.83,71.05 L93.95,71.18 L94.08,71.30 L94.20,71.42 L94.33,71.55 L94.45,71.67 L94.58,71.80 L94.70,71.92 L94.83,72.05 L94.95,72.17 L95.08,72.30 L95.20,72.42 L95.33,72.55 L95.45,72.67 L95.58,72.80 L95.70,72.93 L95.83,73.05 L95.95,73.18 L96.08,73.31 L96.20,73.43 L96.33,73.56 L96.45,73.69 L96.58,73.81 L96.70,73.94 L96.83,74.07 L96.95,74.19 L97.08,74.32 L97.20,74.45 L97.33,74.57 L97.45,74.70 L97.58,74.83 L97.70,74.95 L97.82,75.08 L97.95,75.21 L98.07,75.33 L98.20,75.46 L98.32,75.59 L98.45,75.71 L98.57,75.84 L98.70,75.97 L98.82,76.09 L98.95,76.22 L99.07,76.34 L99.20,76.47 L99.32,76.60 L99.45,76.72 L99.57,76.85 L99.70,76.97 L99.82,77.10 L99.95,77.22 L100.07,77.35 L100.20,77.47 L100.32,77.59 L100.45,77.72 L100.57,77.84 L100.70,77.96 L100.82,78.09 L100.95,78.21 L101.07,78.33 L101.20,78.45 L101.32,78.58 L101.45,78.70 L101.57,78.82 L101.70,78.94 L101.82,79.06 L101.95,79.18 L102.07,79.30 L102.20,79.42 L102.32,79.54 L102.45,79.66 L102.57,79.78 L102.70,79.89 L102.82,80.01 L102.94,80.13 L103.07,80.25 L103.19,80.36 L103.32,80.48 L103.44,80.60 L103.57,80.71 L103.69,80.83 L103.82,80.94 L103.94,81.06 L104.07,81.17 L104.19,81.29 L104.32,81.40 L104.44,81.51 L104.57,81.63 L104.69,81.74 L104.82,81.85 L104.94,81.96 L105.07,82.08 L105.19,82.19 L105.32,82.30 L105.44,82.41 L105.57,82.52 L105.69,82.63 L105.82,82.74 L105.94,82.85 L106.07,82.96 L106.19,83.07 L106.32,83.18 L106.44,83.29 L106.57,83.40 L106.69,83.51 L106.82,83.61 L106.94,83.72 L107.07,83.83 L107.19,83.94 L107.32,84.05 L107.44,84.15 L107.57,84.26 L107.69,84.37 L107.82,84.48 L107.94,84.58 L108.06,84.69 L108.19,84.80 L108.31,84.91 L108.44,85.01 L108.56,85.12 L108.69,85.23 L108.81,85.33 L108.94,85.44 L109.06,85.55 L109.19,85.65 L109.31,85.76 L109.44,85.87 L109.56,85.98 L109.69,86.08 L109.81,86.19 L109.94,86.30 L110.06,86.41 L110.19,86.52 L110.31,86.62 L110.44,86.73 L110.56,86.84 L110.69,86.95 L110.81,87.06 L110.94,87.17 L111.06,87.28 L111.19,87.39 L111.31,87.50 L111.44,87.61 L111.56,87.72 L111.69,87.83 L111.81,87.94 L111.94,88.05 L112.06,88.16 L112.19,88.27 L112.31,88.39 L112.44,88.50 L112.56,88.61 L112.69,88.73 L112.81,88.84 L112.94,88.95 L113.06,89.07 L113.19,89.18 L113.31,89.30 L113.43,89.41 L113.56,89.53 L113.68,89.65 L113.81,89.76 L113.93,89.88 L114.06,90.00 L114.18,90.12 L114.31,90.24 L114.43,90.36 L114.56,90.48 L114.68,90.60 L114.81,90.72 L114.93,90.84 L115.06,90.96 L115.18,91.08 L115.31,91.20 L115.43,91.32 L115.56,91.45 L115.68,91.57 L115.81,91.70 L115.93,91.82 L116.06,91.95 L116.18,92.07 L116.31,92.20 L116.43,92.32 L116.56,92.45 L116.68,92.58 L116.81,92.70 L116.93,92.83 L117.06,92.96 L117.18,93.09 L117.31,93.22 L117.43,93.35 L117.56,93.48 L117.68,93.61 L117.81,93.74 L117.93,93.87 L118.06,94.00 L118.18,94.13 L118.31,94.26 L118.43,94.39 L118.55,94.53 L118.68,94.66 L118.80,94.79 L118.93,94.93 L119.05,95.06 L119.18,95.19 L119.30,95.33 L119.43,95.46 L119.55,95.59 L119.68,95.73 L119.80,95.86 L119.93,96.00 L120.05,96.13 L120.18,96.27 L120.30,96.40 L120.43,96.53 L120.55,96.67 L120.68,96.80 L120.80,96.94 L120.93,97.07 L121.05,97.21 L121.18,97.34 L121.30,97.48 L121.43,97.61 L121.55,97.75 L121.68,97.88 L121.80,98.01 L121.93,98.15 L122.05,98.28 L122.18,98.41 L122.30,98.55 L122.43,98.68 L122.55,98.81 L122.68,98.94 L122.80,99.07 L122.93,99.20 L123.05,99.34 L123.18,99.47 L123.30,99.60 L123.43,99.73 L123.55,99.85 L123.67,99.98 L123.80,100.11 L123.92,100.24 L124.05,100.36 L124.17,100.49 L124.30,100.62 L124.42,100.74 L124.55,100.87 L124.67,100.99 L124.80,101.11 L124.92,101.24 L125.05,101.36 L125.17,101.48 L125.30,101.60 L125.42,101.72 L125.55,101.84 L125.67,101.96 L125.80,102.07 L125.92,102.19 L126.05,102.31 L126.17,102.42 L126.30,102.54 L126.42,102.65 L126.55,102.76 L126.67,102.88 L126.80,102.99 L126.92,103.10 L127.05,103.21 L127.17,103.32 L127.30,103.43 L127.42,103.54 L127.55,103.64 L127.67,103.75 L127.80,103.86 L127.92,103.96 L128.05,104.07 L128.17,104.17 L128.30,104.27 L128.42,104.38 L128.55,104.48 L128.67,104.58 L128.79,104.68 L128.92,104.78 L129.04,104.88 L129.17,104.98 L129.29,105.08 L129.42,105.18 L129.54,105.28 L129.67,105.37 L129.79,105.47 L129.92,105.57 L130.04,105.66 L130.17,105.76 L130.29,105.85 L130.42,105.95 L130.54,106.04 L130.67,106.14 L130.79,106.23 L130.92,106.33 L131.04,106.42 L131.17,106.52 L131.29,106.61 L131.42,106.70 L131.54,106.80 L131.67,106.89 L131.79,106.99 L131.92,107.08 L132.04,107.17 L132.17,107.27 L132.29,107.36 L132.42,107.46 L132.54,107.55 L132.67,107.65 L132.79,107.74 L132.92,107.84 L133.04,107.93 L133.17,108.03 L133.29,108.12 L133.42,108.22 L133.54,108.32 L133.67,108.41 L133.79,108.51 L133.92,108.61 L134.04,108.71 L134.16,108.81 L134.29,108.90 L134.41,109.00 L134.54,109.11 L134.66,109.21 L134.79,109.31 L134.91,109.41 L135.04,109.51 L135.16,109.62 L135.29,109.72 L135.41,109.83 L135.54,109.93 L135.66,110.04 L135.79,110.15 L135.91,110.25 L136.04,110.36 L136.16,110.47 L136.29,110.58 L136.41,110.69 L136.54,110.81 L136.66,110.92 L136.79,111.03 L136.91,111.15 L137.04,111.26 L137.16,111.38 L137.29,111.50 L137.41,111.62 L137.54,111.74 L137.66,111.86 L137.79,111.98 L137.91,112.10 L138.04,112.22 L138.16,112.35 L138.29,112.47 L138.41,112.60 L138.54,112.72 L138.66,112.85 L138.79,112.98 L138.91,113.11 L139.04,113.24 L139.16,113.37 L139.28,113.51 L139.41,113.64 L139.53,113.77 L139.66,113.91 L139.78,114.05 L139.91,114.18 L140.03,114.32 L140.16,114.46 L140.28,114.60 L140.41,114.74 L140.53,114.88 L140.66,115.03 L140.78,115.17 L140.91,115.32 L141.03,115.46 L141.16,115.61 L141.28,115.75 L141.41,115.90 L141.53,116.05 L141.66,116.20 L141.78,116.35 L141.91,116.50 L142.03,116.65 L142.16,116.80 L142.28,116.96 L142.41,117.11 L142.53,117.26 L142.66,117.42 L142.78,117.57 L142.91,117.73 L143.03,117.88 L143.16,118.04 L143.28,118.19 L143.41,118.35 L143.53,118.50 L143.66,118.66 L143.78,118.82 L143.91,118.98 L144.03,119.13 L144.16,119.29 L144.28,119.45 L144.40,119.60 L144.53,119.76 L144.65,119.92 L144.78,120.07 L144.90,120.23 L145.03,120.38 L145.15,120.54 L145.28,120.69 L145.40,120.85 L145.53,121.00 L145.65,121.15 L145.78,121.30 L145.90,121.46 L146.03,121.61 L146.15,121.76 L146.28,121.90 L146.40,122.05 L146.53,122.20 L146.65,122.34 L146.78,122.49 L146.90,122.63 L147.03,122.77 L147.15,122.91 L147.28,123.05 L147.40,123.19 L147.53,123.32 L147.65,123.45 L147.78,123.59 L147.90,123.72 L148.03,123.85 L148.15,123.97 L148.28,124.10 L148.40,124.22 L148.53,124.34 L148.65,124.46 L148.78,124.58 L148.90,124.70 L149.03,124.81 L149.15,124.92 L149.28,125.03 L149.40,125.14 L149.52,125.25 L149.65,125.35 L149.77,125.45 L149.90,125.55 L150.02,125.65 L150.15,125.75 L150.27,125.84 L150.40,125.94 L150.52,126.03 L150.65,126.11 L150.77,126.20 L150.90,126.29 L151.02,126.37 L151.15,126.45 L151.27,126.53 L151.40,126.61 L151.52,126.69 L151.65,126.76 L151.77,126.84 L151.90,126.91 L152.02,126.98 L152.15,127.05 L152.27,127.12 L152.40,127.18 L152.52,127.25 L152.65,127.32 L152.77,127.38 L152.90,127.44 L153.02,127.51 L153.15,127.57 L153.27,127.63 L153.40,127.69 L153.52,127.75 L153.65,127.81 L153.77,127.87 L153.90,127.93 L154.02,127.98 L154.15,128.04 L154.27,128.10 L154.40,128.16 L154.52,128.22 L154.65,128.28 L154.77,128.33 L154.89,128.39 L155.02,128.45 L155.14,128.51 L155.27,128.57 L155.39,128.63 L155.52,128.69 L155.64,128.75 L155.77,128.81 L155.89,128.87 L156.02,128.94 L156.14,129.00 L156.27,129.07 L156.39,129.13 L156.52,129.20 L156.64,129.27 L156.77,129.33 L156.89,129.40 L157.02,129.47 L157.14,129.55 L157.27,129.62 L157.39,129.69 L157.52,129.77 L157.64,129.85 L157.77,129.92 L157.89,130.00 L158.02,130.08 L158.14,130.17 L158.27,130.25 L158.39,130.34 L158.52,130.42 L158.64,130.51 L158.77,130.60 L158.89,130.70 L159.02,130.79 L159.14,130.88 L159.27,130.98 L159.39,131.08 L159.52,131.18 L159.64,131.28 L159.77,131.39 L159.89,131.50 L160.01,131.60 L160.14,131.71 L160.26,131.83 L160.39,131.94 L160.51,132.06 L160.64,132.18 L160.76,132.30 L160.89,132.42 L161.01,132.54 L161.14,132.67 L161.26,132.80 L161.39,132.93 L161.51,133.06 L161.64,133.20 L161.76,133.33 L161.89,133.47 L162.01,133.61 L162.14,133.76 L162.26,133.90 L162.39,134.05 L162.51,134.20 L162.64,134.35 L162.76,134.51 L162.89,134.67 L163.01,134.82 L163.14,134.99 L163.26,135.15 L163.39,135.32 L163.51,135.48 L163.64,135.65 L163.76,135.83 L163.89,136.00 L164.01,136.18 L164.14,136.36 L164.26,136.54 L164.39,136.72 L164.51,136.91 L164.64,137.10 L164.76,137.29 L164.89,137.48 L165.01,137.67 L165.13,137.87 L165.26,138.07 L165.38,138.27 L165.51,138.47 L165.63,138.67 L165.76,138.88 L165.88,139.09 L166.01,139.30 L166.13,139.51 L166.26,139.72 L166.38,139.94 L166.51,140.15 L166.63,140.37 L166.76,140.59 L166.88,140.81 L167.01,141.03 L167.13,141.25 L167.26,141.47 L167.38,141.70 L167.51,141.92 L167.63,142.15 L167.76,142.37 L167.88,142.60 L168.01,142.82 L168.13,143.05 L168.26,143.27 L168.38,143.50 L168.51,143.72 L168.63,143.95 L168.76,144.17 L168.88,144.39 L169.01,144.61 L169.13,144.83 L169.26,145.04 L169.38,145.26 L169.51,145.47 L169.63,145.67 L169.76,145.88 L169.88,146.08 L170.01,146.28 L170.13,146.47 L170.25,146.66 L170.38,146.85 L170.50,147.03 L170.63,147.20 L170.75,147.37 L170.88,147.54 L171.00,147.70 L171.13,147.85 L171.25,148.00 L171.38,148.14 L171.50,148.27 L171.63,148.40 L171.75,148.52 L171.88,148.63 L172.00,148.74 L172.13,148.84 L172.25,148.93 L172.38,149.02 L172.50,149.10 L172.63,149.17 L172.75,149.24 L172.88,149.30 L173.00,149.35 L173.13,149.39 L173.25,149.43 L173.38,149.46 L173.50,149.49 L173.63,149.51 L173.75,149.53 L173.88,149.54 L174.00,149.54 L174.13,149.54 L174.25,149.54 L174.38,149.53 L174.50,149.52 L174.63,149.50 L174.75,149.49 L174.88,149.46 L175.00,149.44 L175.13,149.41 L175.25,149.38 L175.38,149.35 L175.50,149.32 L175.62,149.28 L175.75,149.25 L175.87,149.21 L176.00,149.17 L176.12,149.13 L176.25,149.10 L176.37,149.06 L176.50,149.02 L176.62,148.98 L176.75,148.94 L176.87,148.91 L177.00,148.87 L177.12,148.84 L177.25,148.80 L177.37,148.77 L177.50,148.74 L177.62,148.71 L177.75,148.68 L177.87,148.65 L178.00,148.63 L178.12,148.60 L178.25,148.58 L178.37,148.56 L178.50,148.55 L178.62,148.53 L178.75,148.52 L178.87,148.51 L179.00,148.50 L179.12,148.49 L179.25,148.49 L179.37,148.49 L179.50,148.49 L179.62,148.50 L179.75,148.51 L179.87,148.52 L180.00,148.53 L180.12,148.54 L180.25,148.56 L180.37,148.59 L180.50,148.61 L180.62,148.64 L180.74,148.67 L180.87,148.70 L180.99,148.74 L181.12,148.78 L181.24,148.82 L181.37,148.87 L181.49,148.92 L181.62,148.97 L181.74,149.02 L181.87,149.08 L181.99,149.14 L182.12,149.21 L182.24,149.28 L182.37,149.35 L182.49,149.42 L182.62,149.50 L182.74,149.58 L182.87,149.67 L182.99,149.76 L183.12,149.85 L183.24,149.95 L183.37,150.04 L183.49,150.15 L183.62,150.25 L183.74,150.36 L183.87,150.48 L183.99,150.59 L184.12,150.71 L184.24,150.84 L184.37,150.96 L184.49,151.10 L184.62,151.23 L184.74,151.37 L184.87,151.51 L184.99,151.66 L185.12,151.81 L185.24,151.97 L185.37,152.12 L185.49,152.29 L185.62,152.45 L185.74,152.62 L185.86,152.80 L185.99,152.98 L186.11,153.16 L186.24,153.35 L186.36,153.54 L186.49,153.74 L186.61,153.94 L186.74,154.14 L186.86,154.35 L186.99,154.57 L187.11,154.79 L187.24,155.01 L187.36,155.24 L187.49,155.47 L187.61,155.71 L187.74,155.95 L187.86,156.20 L187.99,156.45 L188.11,156.71 L188.24,156.98 L188.36,157.24 L188.49,157.52 L188.61,157.80 L188.74,158.08 L188.86,158.37 L188.99,158.67 L189.11,158.97 L189.24,159.28 L189.36,159.59 L189.49,159.91 L189.61,160.24 L189.74,160.57 L189.86,160.90 L189.99,161.25 L190.11,161.59 L190.24,161.95 L190.36,162.31 L190.49,162.68 L190.61,163.05 L190.74,163.43 L190.86,163.81 L190.98,164.20 L191.11,164.59 L191.23,164.99 L191.36,165.40 L191.48,165.81 L191.61,166.22 L191.73,166.64 L191.86,167.06 L191.98,167.48 L192.11,167.90 L192.23,168.33 L192.36,168.75 L192.48,169.18 L192.61,169.60 L192.73,170.02 L192.86,170.43 L192.98,170.83 L193.11,171.23 L193.23,171.61 L193.36,171.98 L193.48,172.34 L193.61,172.67 L193.73,172.99 L193.86,173.28 L193.98,173.55 L194.11,173.79 L194.23,174.00 L194.36,174.18 L194.48,174.33 L194.61,174.44 L194.73,174.52 L194.86,174.57 L194.98,174.58 L195.11,174.56 L195.23,174.50 L195.36,174.42 L195.48,174.31 L195.61,174.17 L195.73,174.01 L195.86,173.83 L195.98,173.62 L196.10,173.41 L196.23,173.17 L196.35,172.93 L196.48,172.68 L196.60,172.41 L196.73,172.15 L196.85,171.87 L196.98,171.60 L197.10,171.32 L197.23,171.04 L197.35,170.77 L197.48,170.49 L197.60,170.22 L197.73,169.95 L197.85,169.68 L197.98,169.42 L198.10,169.16 L198.23,168.90 L198.35,168.66 L198.48,168.41 L198.60,168.17 L198.73,167.94 L198.85,167.72 L198.98,167.50 L199.10,167.28 L199.23,167.07 L199.35,166.87 L199.48,166.67 L199.60,166.48 L199.73,166.30 L199.85,166.12 L199.98,165.95 L200.10,165.78 L200.23,165.62 L200.35,165.47 L200.48,165.32 L200.60,165.17 L200.73,165.04 L200.85,164.90 L200.98,164.78 L201.10,164.66 L201.23,164.54 L201.35,164.43 L201.47,164.33 L201.60,164.23 L201.72,164.13 L201.85,164.04 L201.97,163.96 L202.10,163.88 L202.22,163.80 L202.35,163.73 L202.47,163.67 L202.60,163.61 L202.72,163.55 L202.85,163.50 L202.97,163.46 L203.10,163.42 L203.22,163.38 L203.35,163.35 L203.47,163.32 L203.60,163.29 L203.72,163.27 L203.85,163.26 L203.97,163.25 L204.10,163.24 L204.22,163.24 L204.35,163.24 L204.47,163.25 L204.60,163.26 L204.72,163.27 L204.85,163.29 L204.97,163.31 L205.10,163.34 L205.22,163.37 L205.35,163.41 L205.47,163.44 L205.60,163.49 L205.72,163.53 L205.85,163.58 L205.97,163.64 L206.10,163.70 L206.22,163.76 L206.35,163.83 L206.47,163.90 L206.59,163.97 L206.72,164.05 L206.84,164.13 L206.97,164.21 L207.09,164.30 L207.22,164.40 L207.34,164.49 L207.47,164.59 L207.59,164.70 L207.72,164.81 L207.84,164.92 L207.97,165.03 L208.09,165.15 L208.22,165.28 L208.34,165.40 L208.47,165.54 L208.59,165.67 L208.72,165.81 L208.84,165.95 L208.97,166.10 L209.09,166.25 L209.22,166.40 L209.34,166.56 L209.47,166.72 L209.59,166.89 L209.72,167.05 L209.84,167.23 L209.97,167.40 L210.09,167.58 L210.22,167.77 L210.34,167.95 L210.47,168.14 L210.59,168.34 L210.72,168.54 L210.84,168.74 L210.97,168.95 L211.09,169.15 L211.22,169.37 L211.34,169.58 L211.47,169.80 L211.59,170.02 L211.71,170.25 L211.84,170.48 L211.96,170.71 L212.09,170.94 L212.21,171.18 L212.34,171.42 L212.46,171.66 L212.59,171.91 L212.71,172.16 L212.84,172.41 L212.96,172.66 L213.09,172.91 L213.21,173.16 L213.34,173.42 L213.46,173.67 L213.59,173.93 L213.71,174.19 L213.84,174.44 L213.96,174.70 L214.09,174.95 L214.21,175.21 L214.34,175.46 L214.46,175.71 L214.59,175.95 L214.71,176.19 L214.84,176.43 L214.96,176.66 L215.09,176.89 L215.21,177.11 L215.34,177.33 L215.46,177.53 L215.59,177.73 L215.71,177.92 L215.84,178.10 L215.96,178.27 L216.09,178.44 L216.21,178.58 L216.34,178.72 L216.46,178.85 L216.59,178.96 L216.71,179.06 L216.83,179.15 L216.96,179.22 L217.08,179.28 L217.21,179.32 L217.33,179.35 L217.46,179.37 L217.58,179.38 L217.71,179.37 L217.83,179.35 L217.96,179.32 L218.08,179.27 L218.21,179.22 L218.33,179.15 L218.46,179.08 L218.58,178.99 L218.71,178.90 L218.83,178.80 L218.96,178.69 L219.08,178.57 L219.21,178.45 L219.33,178.32 L219.46,178.19 L219.58,178.05 L219.71,177.91 L219.83,177.77 L219.96,177.62 L220.08,177.47 L220.21,177.32 L220.33,177.17 L220.46,177.02 L220.58,176.87 L220.71,176.71 L220.83,176.56 L220.96,176.41 L221.08,176.26 L221.21,176.11 L221.33,175.96 L221.46,175.82 L221.58,175.67 L221.71,175.53 L221.83,175.39 L221.96,175.25 L222.08,175.11 L222.20,174.98 L222.33,174.85 L222.45,174.72 L222.58,174.60 L222.70,174.48 L222.83,174.36 L222.95,174.24 L223.08,174.13 L223.20,174.02 L223.33,173.91 L223.45,173.81 L223.58,173.71 L223.70,173.61 L223.83,173.52 L223.95,173.42 L224.08,173.34 L224.20,173.25 L224.33,173.17 L224.45,173.09 L224.58,173.02 L224.70,172.95 L224.83,172.88 L224.95,172.81 L225.08,172.75 L225.20,172.69 L225.33,172.64 L225.45,172.59 L225.58,172.54 L225.70,172.49 L225.83,172.45 L225.95,172.41 L226.08,172.37 L226.20,172.34 L226.33,172.31 L226.45,172.28 L226.58,172.25 L226.70,172.23 L226.83,172.21 L226.95,172.20 L227.08,172.18 L227.20,172.17 L227.32,172.17 L227.45,172.16 L227.57,172.16 L227.70,172.16 L227.82,172.17 L227.95,172.17 L228.07,172.18 L228.20,172.19 L228.32,172.21 L228.45,172.23 L228.57,172.25 L228.70,172.27 L228.82,172.29 L228.95,172.32 L229.07,172.35 L229.20,172.38 L229.32,172.42 L229.45,172.46 L229.57,172.50 L229.70,172.54 L229.82,172.58 L229.95,172.63 L230.07,172.68 L230.20,172.73 L230.32,172.78 L230.45,172.84 L230.57,172.89 L230.70,172.95 L230.82,173.02 L230.95,173.08 L231.07,173.14 L231.20,173.21 L231.32,173.28 L231.45,173.35 L231.57,173.43 L231.70,173.50 L231.82,173.58 L231.95,173.66 L232.07,173.73 L232.20,173.82 L232.32,173.90 L232.44,173.98 L232.57,174.07 L232.69,174.16 L232.82,174.24 L232.94,174.33 L233.07,174.42 L233.19,174.52 L233.32,174.61 L233.44,174.70 L233.57,174.80 L233.69,174.89 L233.82,174.99 L233.94,175.09 L234.07,175.18 L234.19,175.28 L234.32,175.38 L234.44,175.48 L234.57,175.58 L234.69,175.68 L234.82,175.78 L234.94,175.88 L235.07,175.98 L235.19,176.07 L235.32,176.17 L235.44,176.27 L235.57,176.37 L235.69,176.47 L235.82,176.56 L235.94,176.66 L236.07,176.75 L236.19,176.85 L236.32,176.94 L236.44,177.03 L236.57,177.12 L236.69,177.21 L236.82,177.30 L236.94,177.39 L237.07,177.47 L237.19,177.55 L237.32,177.64 L237.44,177.71 L237.56,177.79 L237.69,177.87 L237.81,177.94 L237.94,178.01 L238.06,178.08 L238.19,178.14 L238.31,178.20 L238.44,178.26 L238.56,178.32 L238.69,178.38 L238.81,178.43 L238.94,178.48 L239.06,178.53 L239.19,178.57 L239.31,178.61 L239.44,178.65 L239.56,178.68 L239.69,178.72 L239.81,178.75 L239.94,178.77 L240.06,178.80 L240.19,178.82 L240.31,178.84 L240.44,178.85 L240.56,178.86 L240.69,178.87 L240.81,178.88 L240.94,178.89 L241.06,178.89 L241.19,178.89 L241.31,178.89 L241.44,178.88 L241.56,178.88 L241.69,178.87 L241.81,178.86 L241.94,178.84 L242.06,178.83 L242.19,178.81 L242.31,178.79 L242.44,178.77 L242.56,178.75 L242.69,178.73 L242.81,178.70 L242.93,178.68 L243.06,178.65 L243.18,178.62 L243.31,178.59 L243.43,178.56 L243.56,178.53 L243.68,178.50 L243.81,178.47 L243.93,178.43 L244.06,178.40 L244.18,178.36 L244.31,178.33 L244.43,178.30 L244.56,178.26 L244.68,178.23 L244.81,178.19 L244.93,178.16 L245.06,178.12 L245.18,178.09 L245.31,178.05 L245.43,178.02 L245.56,177.98 L245.68,177.95 L245.81,177.92 L245.93,177.89 L246.06,177.85 L246.18,177.82 L246.31,177.79 L246.43,177.76 L246.56,177.73 L246.68,177.70 L246.81,177.68 L246.93,177.65 L247.06,177.62 L247.18,177.60 L247.31,177.57 L247.43,177.55 L247.56,177.53 L247.68,177.51 L247.81,177.49 L247.93,177.47 L248.05,177.45 L248.18,177.43 L248.30,177.41 L248.43,177.40 L248.55,177.39 L248.68,177.37 L248.80,177.36 L248.93,177.35 L249.05,177.34 L249.18,177.33 L249.30,177.33 L249.43,177.32 L249.55,177.31 L249.68,177.31 L249.80,177.31 L249.93,177.31 L250.05,177.31 L250.18,177.31 L250.30,177.31 L250.43,177.31 L250.55,177.32 L250.68,177.32 L250.80,177.33 L250.93,177.34 L251.05,177.35 L251.18,177.36 L251.30,177.37 L251.43,177.38 L251.55,177.40 L251.68,177.41 L251.80,177.43 L251.93,177.45 L252.05,177.46 L252.18,177.48 L252.30,177.50 L252.43,177.52 L252.55,177.55 L252.68,177.57 L252.80,177.59 L252.93,177.62 L253.05,177.64 L253.17,177.67 L253.30,177.70 L253.42,177.73 L253.55,177.76 L253.67,177.79 L253.80,177.82 L253.92,177.85 L254.05,177.88 L254.17,177.92 L254.30,177.95 L254.42,177.98 L254.55,178.02 L254.67,178.06 L254.80,178.09 L254.92,178.13 L255.05,178.17 L255.17,178.20 L255.30,178.24 L255.42,178.28 L255.55,178.32 L255.67,178.36 L255.80,178.40 L255.92,178.44 L256.05,178.48 L256.17,178.53 L256.30,178.57 L256.42,178.61 L256.55,178.65 L256.67,178.69 L256.80,178.74 L256.92,178.78 L257.05,178.82 L257.17,178.86 L257.30,178.91 L257.42,178.95 L257.55,178.99 L257.67,179.03 L257.80,179.08 L257.92,179.12 L258.05,179.16 L258.17,179.20 L258.29,179.24 L258.42,179.28 L258.54,179.33 L258.67,179.37 L258.79,179.41 L258.92,179.45 L259.04,179.49 L259.17,179.53 L259.29,179.56 L259.42,179.60 L259.54,179.64 L259.67,179.68 L259.79,179.71 L259.92,179.75 L260.04,179.79 L260.17,179.82 L260.29,179.85 L260.42,179.89 L260.54,179.92 L260.67,179.95 L260.79,179.98 L260.92,180.02 L261.04,180.05 L261.17,180.07 L261.29,180.10 L261.42,180.13 L261.54,180.16 L261.67,180.18 L261.79,180.21 L261.92,180.23 L262.04,180.26 L262.17,180.28 L262.29,180.30 L262.42,180.32 L262.54,180.35 L262.67,180.37 L262.79,180.38 L262.92,180.40 L263.04,180.42 L263.17,180.44 L263.29,180.45 L263.41,180.47 L263.54,180.48 L263.66,180.50 L263.79,180.51 L263.91,180.52 L264.04,180.53 L264.16,180.54 L264.29,180.55 L264.41,180.56 L264.54,180.57 L264.66,180.58 L264.79,180.59 L264.91,180.60 L265.04,180.60 L265.16,180.61 L265.29,180.61 L265.41,180.62 L265.54,180.62 L265.66,180.63 L265.79,180.63 L265.91,180.63 L266.04,180.63 L266.16,180.64 L266.29,180.64 L266.41,180.64 L266.54,180.64 L266.66,180.64 L266.79,180.64 L266.91,180.64 L267.04,180.64 L267.16,180.64 L267.29,180.64 L267.41,180.64 L267.54,180.64 L267.66,180.64 L267.79,180.64 L267.91,180.64 L268.04,180.64 L268.16,180.63 L268.29,180.63 L268.41,180.63 L268.54,180.63 L268.66,180.63 L268.78,180.63 L268.91,180.63 L269.03,180.63 L269.16,180.63 L269.28,180.62 L269.41,180.62 L269.53,180.62 L269.66,180.62 L269.78,180.62 L269.91,180.62 L270.03,180.62 L270.16,180.62 L270.28,180.62 L270.41,180.62 L270.53,180.63 L270.66,180.63 L270.78,180.63 L270.91,180.63 L271.03,180.63 L271.16,180.64 L271.28,180.64 L271.41,180.64 L271.53,180.64 L271.66,180.65 L271.78,180.65 L271.91,180.66 L272.03,180.66 L272.16,180.67 L272.28,180.67 L272.41,180.68 L272.53,180.69 L272.66,180.69 L272.78,180.70 L272.91,180.71 L273.03,180.72 L273.16,180.72 L273.28,180.73 L273.41,180.74 L273.53,180.75 L273.66,180.76 L273.78,180.77 L273.90,180.78 L274.03,180.79 L274.15,180.81 L274.28,180.82 L274.40,180.83 L274.53,180.84 L274.65,180.86 L274.78,180.87 L274.90,180.88 L275.03,180.90 L275.15,180.91 L275.28,180.93 L275.40,180.94 L275.53,180.96 L275.65,180.97 L275.78,180.99 L275.90,181.01 L276.03,181.02 L276.15,181.04 L276.28,181.06 L276.40,181.07 L276.53,181.09 L276.65,181.11 L276.78,181.13 L276.90,181.15 L277.03,181.17 L277.15,181.19 L277.28,181.21 L277.40,181.23 L277.53,181.25 L277.65,181.27 L277.78,181.29 L277.90,181.31 L278.03,181.33 L278.15,181.35 L278.28,181.37 L278.40,181.39 L278.53,181.42 L278.65,181.44 L278.78,181.46 L278.90,181.48 L279.02,181.50 L279.15,181.52 L279.27,181.55 L279.40,181.57 L279.52,181.59 L279.65,181.61 L279.77,181.64 L279.90,181.66 L280.02,181.68 L280.15,181.70 L280.27,181.73 L280.40,181.75 L280.52,181.77 L280.65,181.79 L280.77,181.82 L280.90,181.84 L281.02,181.86 L281.15,181.88 L281.27,181.90 L281.40,181.93 L281.52,181.95 L281.65,181.97 L281.77,181.99 L281.90,182.01 L282.02,182.03 L282.15,182.05 L282.27,182.08 L282.40,182.10 L282.52,182.12 L282.65,182.14 L282.77,182.16 L282.90,182.18 L283.02,182.20 L283.15,182.22 L283.27,182.24 L283.40,182.26 L283.52,182.28 L283.65,182.30 L283.77,182.31 L283.90,182.33 L284.02,182.35 L284.14,182.37 L284.27,182.39 L284.39,182.40 L284.52,182.42 L284.64,182.44 L284.77,182.46 L284.89,182.47 L285.02,182.49 L285.14,182.51 L285.27,182.52 L285.39,182.54 L285.52,182.55 L285.64,182.57 L285.77,182.58 L285.89,182.60 L286.02,182.61 L286.14,182.63 L286.27,182.64 L286.39,182.65 L286.52,182.67 L286.64,182.68 L286.77,182.69 L286.89,182.71 L287.02,182.72 L287.14,182.73 L287.27,182.74 L287.39,182.76 L287.52,182.77 L287.64,182.78 L287.77,182.79 L287.89,182.80 L288.02,182.81 L288.14,182.82 L288.27,182.83 L288.39,182.85 L288.52,182.86 L288.64,182.87 L288.77,182.88 L288.89,182.89 L289.02,182.90 L289.14,182.91 L289.27,182.91 L289.39,182.92 L289.51,182.93 L289.64,182.94 L289.76,182.95 L289.89,182.96 L290.01,182.97 L290.14,182.98 L290.26,182.99 L290.39,183.00 L290.51,183.00 L290.64,183.01 L290.76,183.02 L290.89,183.03 L291.01,183.04 L291.14,183.05 L291.26,183.05 L291.39,183.06 L291.51,183.07 L291.64,183.08 L291.76,183.09 L291.89,183.09 L292.01,183.10 L292.14,183.11 L292.26,183.12 L292.39,183.13 L292.51,183.14 L292.64,183.14 L292.76,183.15 L292.89,183.16 L293.01,183.17 L293.14,183.18 L293.26,183.19 L293.39,183.19 L293.51,183.20 L293.64,183.21 L293.76,183.22 L293.89,183.23 L294.01,183.24 L294.14,183.25 L294.26,183.26 L294.39,183.27 L294.51,183.28 L294.63,183.29 L294.76,183.29 L294.88,183.30 L295.01,183.31 L295.13,183.32 L295.26,183.33 L295.38,183.34 L295.51,183.35 L295.63,183.36 L295.76,183.37 L295.88,183.39 L296.01,183.40 L296.13,183.41 L296.26,183.42 L296.38,183.43 L296.51,183.44 L296.63,183.45 L296.76,183.46 L296.88,183.47 L297.01,183.49 L297.13,183.50 L297.26,183.51 L297.38,183.52 L297.51,183.53 L297.63,183.55 L297.76,183.56 L297.88,183.57 L298.01,183.58 L298.13,183.60 L298.26,183.61 L298.38,183.62 L298.51,183.63 L298.63,183.65 L298.76,183.66 L298.88,183.67 L299.01,183.69 L299.13,183.70 L299.26,183.71 L299.38,183.73 L299.51,183.74 L299.63,183.76 L299.75,183.77 L299.88,183.78 L300.00,183.80 L300.13,183.81 L300.25,183.83 L300.38,183.84 L300.50,183.85 L300.63,183.87 L300.75,183.88 L300.88,183.90 L301.00,183.91 L301.13,183.93 L301.25,183.94 L301.38,183.96 L301.50,183.97 L301.63,183.99 L301.75,184.00 L301.88,184.02 L302.00,184.03 L302.13,184.05 L302.25,184.06 L302.38,184.08 L302.50,184.09 L302.63,184.11 L302.75,184.12 L302.88,184.14 L303.00,184.15 L303.13,184.17 L303.25,184.18 L303.38,184.20 L303.50,184.21 L303.63,184.23 L303.75,184.24 L303.88,184.26 L304.00,184.27 L304.13,184.29 L304.25,184.30 L304.38,184.32 L304.50,184.33 L304.63,184.35 L304.75,184.36 L304.87,184.38 L305.00,184.39 L305.12,184.41 L305.25,184.42 L305.37,184.44 L305.50,184.45 L305.62,184.47 L305.75,184.48 L305.87,184.50 L306.00,184.51 L306.12,184.52 L306.25,184.54 L306.37,184.55 L306.50,184.57 L306.62,184.58 L306.75,184.60 L306.87,184.61 L307.00,184.62 L307.12,184.64 L307.25,184.65 L307.37,184.66 L307.50,184.68 L307.62,184.69 L307.75,184.70 L307.87,184.72 L308.00,184.73 L308.12,184.74 L308.25,184.76 L308.37,184.77 L308.50,184.78 L308.62,184.80 L308.75,184.81 L308.87,184.82 L309.00,184.83 L309.12,184.85 L309.25,184.86 L309.37,184.87 L309.50,184.88 L309.62,184.90 L309.75,184.91 L309.87,184.92 L310.00,184.93 L310.12,184.94 L310.24,184.96 L310.37,184.97 L310.49,184.98 L310.62,184.99 L310.74,185.00 L310.87,185.01 L310.99,185.03 L311.12,185.04 L311.24,185.05 L311.37,185.06 L311.49,185.07 L311.62,185.08 L311.74,185.09 L311.87,185.10 L311.99,185.12 L312.12,185.13 L312.24,185.14 L312.37,185.15 L312.49,185.16 L312.62,185.17 L312.74,185.18 L312.87,185.19 L312.99,185.20 L313.12,185.21 L313.24,185.22 L313.37,185.23 L313.49,185.24 L313.62,185.26 L313.74,185.27 L313.87,185.28 L313.99,185.29 L314.12,185.30 L314.24,185.31 L314.37,185.32 L314.49,185.33 L314.62,185.34 L314.74,185.35 L314.87,185.36 L314.99,185.37 L315.12,185.38 L315.24,185.39 L315.36,185.40 L315.49,185.41 L315.61,185.42 L315.74,185.43 L315.86,185.44 L315.99,185.45 L316.11,185.46 L316.24,185.47 L316.36,185.48 L316.49,185.50 L316.61,185.51 L316.74,185.52 L316.86,185.53 L316.99,185.54 L317.11,185.55 L317.24,185.56 L317.36,185.57 L317.49,185.58 L317.61,185.59 L317.74,185.60 L317.86,185.61 L317.99,185.62 L318.11,185.63 L318.24,185.64 L318.36,185.65 L318.49,185.67 L318.61,185.68 L318.74,185.69 L318.86,185.70 L318.99,185.71 L319.11,185.72 L319.24,185.73 L319.36,185.74 L319.49,185.75 L319.61,185.76 L319.74,185.78 L319.86,185.79 L319.99,185.80 L320.11,185.81 L320.24,185.82 L320.36,185.83 L320.48,185.84 L320.61,185.85 L320.73,185.87 L320.86,185.88 L320.98,185.89 L321.11,185.90 L321.23,185.91 L321.36,185.92 L321.48,185.94 L321.61,185.95 L321.73,185.96 L321.86,185.97 L321.98,185.98 L322.11,185.99 L322.23,186.01 L322.36,186.02 L322.48,186.03 L322.61,186.04 L322.73,186.05 L322.86,186.07 L322.98,186.08 L323.11,186.09 L323.23,186.10 L323.36,186.11 L323.48,186.13 L323.61,186.14 L323.73,186.15 L323.86,186.16 L323.98,186.17 L324.11,186.19 L324.23,186.20 L324.36,186.21 L324.48,186.22 L324.61,186.23 L324.73,186.25 L324.86,186.26 L324.98,186.27 L325.11,186.28 L325.23,186.30 L325.36,186.31 L325.48,186.32 L325.60,186.33 L325.73,186.34 L325.85,186.36 L325.98,186.37 L326.10,186.38 L326.23,186.39 L326.35,186.41 L326.48,186.42 L326.60,186.43 L326.73,186.44 L326.85,186.45 L326.98,186.47 L327.10,186.48 L327.23,186.49 L327.35,186.50 L327.48,186.51 L327.60,186.53 L327.73,186.54 L327.85,186.55 L327.98,186.56 L328.10,186.58 L328.23,186.59 L328.35,186.60 L328.48,186.61 L328.60,186.62 L328.73,186.64 L328.85,186.65 L328.98,186.66 L329.10,186.67 L329.23,186.68 L329.35,186.69 L329.48,186.71 L329.60,186.72 L329.73,186.73 L329.85,186.74 L329.98,186.75 L330.10,186.77 L330.23,186.78 L330.35,186.79 L330.48,186.80 L330.60,186.81 L330.73,186.82 L330.85,186.84 L330.97,186.85 L331.10,186.86 L331.22,186.87 L331.35,186.88 L331.47,186.89 L331.60,186.90 L331.72,186.92 L331.85,186.93 L331.97,186.94 L332.10,186.95 L332.22,186.96 L332.35,186.97 L332.47,186.98 L332.60,186.99 L332.72,187.01 L332.85,187.02 L332.97,187.03 L333.10,187.04 L333.22,187.05 L333.35,187.06 L333.47,187.07 L333.60,187.08 L333.72,187.09 L333.85,187.10 L333.97,187.12 L334.10,187.13 L334.22,187.14 L334.35,187.15 L334.47,187.16 L334.60,187.17 L334.72,187.18 L334.85,187.19 L334.97,187.20 L335.10,187.21 L335.22,187.22 L335.35,187.23 L335.47,187.25 L335.60,187.26 L335.72,187.27 L335.85,187.28 L335.97,187.29 L336.09,187.30 L336.22,187.31 L336.34,187.32 L336.47,187.33 L336.59,187.34 L336.72,187.35 L336.84,187.36 L336.97,187.37 L337.09,187.38 L337.22,187.39 L337.34,187.40 L337.47,187.41 L337.59,187.42 L337.72,187.44 L337.84,187.45 L337.97,187.46 L338.09,187.47 L338.22,187.48 L338.34,187.49 L338.47,187.50 L338.59,187.51 L338.72,187.52 L338.84,187.53 L338.97,187.54 L339.09,187.55 L339.22,187.56 L339.34,187.57 L339.47,187.58 L339.59,187.59 L339.72,187.60 L339.84,187.61 L339.97,187.62 L340.09,187.63 L340.22,187.64 L340.34,187.65 L340.47,187.66 L340.59,187.68 L340.72,187.69 L340.84,187.70 L340.97,187.71 L341.09,187.72 L341.21,187.73 L341.34,187.74 L341.46,187.75 L341.59,187.76 L341.71,187.77 L341.84,187.78 L341.96,187.79 L342.09,187.80 L342.21,187.81 L342.34,187.82 L342.46,187.83 L342.59,187.84 L342.71,187.85 L342.84,187.86 L342.96,187.88 L343.09,187.89 L343.21,187.90 L343.34,187.91 L343.46,187.92 L343.59,187.93 L343.71,187.94 L343.84,187.95 L343.96,187.96 L344.09,187.97 L344.21,187.98 L344.34,187.99 L344.46,188.00 L344.59,188.01 L344.71,188.02 L344.84,188.03 L344.96,188.05 L345.09,188.06 L345.21,188.07 L345.34,188.08 L345.46,188.09 L345.59,188.10 L345.71,188.11 L345.84,188.12 L345.96,188.13 L346.09,188.14 L346.21,188.15 L346.33,188.16 L346.46,188.17 L346.58,188.18 L346.71,188.20 L346.83,188.21 L346.96,188.22 L347.08,188.23 L347.21,188.24 L347.33,188.25 L347.46,188.26 L347.58,188.27 L347.71,188.28 L347.83,188.29 L347.96,188.30 L348.08,188.31 L348.21,188.32 L348.33,188.34 L348.46,188.35 L348.58,188.36 L348.71,188.37 L348.83,188.38 L348.96,188.39 L349.08,188.40 L349.21,188.41 L349.33,188.42 L349.46,188.43 L349.58,188.44 L349.71,188.45 L349.83,188.46 L349.96,188.47 L350.08,188.49 L350.21,188.50 L350.33,188.51 L350.46,188.52 L350.58,188.53 L350.71,188.54 L350.83,188.55 L350.96,188.56 L351.08,188.57 L351.21,188.58 L351.33,188.59 L351.45,188.60 L351.58,188.61 L351.70,188.62 L351.83,188.63 L351.95,188.65 L352.08,188.66 L352.20,188.67 L352.33,188.68 L352.45,188.69 L352.58,188.70 L352.70,188.71 L352.83,188.72 L352.95,188.73 L353.08,188.74 L353.20,188.75 L353.33,188.76 L353.45,188.77 L353.58,188.78 L353.70,188.79 L353.83,188.80 L353.95,188.81 L354.08,188.82 L354.20,188.83 L354.33,188.84 L354.45,188.86 L354.58,188.87 L354.70,188.88 L354.83,188.89 L354.95,188.90 L355.08,188.91 L355.20,188.92 L355.33,188.93 L355.45,188.94 L355.58,188.95 L355.70,188.96 L355.83,188.97 L355.95,188.98 L356.08,188.99 L356.20,189.00 L356.33,189.01 L356.45,189.02 L356.58,189.03 L356.70,189.04 L356.82,189.05 L356.95,189.06 L357.07,189.07 L357.20,189.08 L357.32,189.09 L357.45,189.10 L357.57,189.11 L357.70,189.12 L357.82,189.13 L357.95,189.14 L358.07,189.15 L358.20,189.16 L358.32,189.17 L358.45,189.18 L358.57,189.19 L358.70,189.20 L358.82,189.21 L358.95,189.22 L359.07,189.23 L359.20,189.24 L359.32,189.25 L359.45,189.26 L359.57,189.27 L359.70,189.28 L359.82,189.29 L359.95,189.30 L360.07,189.31 L360.20,189.32 L360.32,189.33 L360.45,189.34 L360.57,189.35 L360.70,189.36 L360.82,189.37 L360.95,189.38 L361.07,189.39 L361.20,189.40 L361.32,189.41 L361.45,189.42 L361.57,189.43 L361.70,189.44 L361.82,189.45 L361.94,189.46 L362.07,189.47 L362.19,189.48 L362.32,189.49 L362.44,189.50 L362.57,189.51 L362.69,189.52 L362.82,189.53 L362.94,189.54 L363.07,189.55 L363.19,189.56 L363.32,189.57 L363.44,189.58 L363.57,189.59 L363.69,189.60 L363.82,189.61 L363.94,189.62 L364.07,189.63 L364.19,189.64 L364.32,189.65 L364.44,189.66 L364.57,189.67 L364.69,189.68 L364.82,189.69 L364.94,189.70 L365.07,189.71 L365.19,189.72 L365.32,189.73 L365.44,189.74 L365.57,189.75 L365.69,189.76 L365.82,189.77 L365.94,189.78 L366.07,189.79 L366.19,189.80 L366.32,189.81 L366.44,189.82 L366.57,189.83 L366.69,189.84 L366.82,189.85 L366.94,189.86 L367.06,189.87 L367.19,189.88 L367.31,189.89 L367.44,189.90 L367.56,189.91 L367.69,189.92 L367.81,189.93 L367.94,189.94 L368.06,189.95 L368.19,189.96 L368.31,189.97 L368.44,189.98 L368.56,189.99 L368.69,190.00 L368.81,190.01 L368.94,190.02 L369.06,190.03 L369.19,190.03 L369.31,190.04 L369.44,190.05 L369.56,190.06 L369.69,190.07 L369.81,190.08 L369.94,190.09 L370.06,190.10 L370.19,190.11 L370.31,190.12 L370.44,190.13 L370.56,190.14 L370.69,190.15 L370.81,190.16 L370.94,190.17 L371.06,190.18 L371.19,190.19 L371.31,190.20 L371.44,190.21 L371.56,190.22 L371.69,190.23 L371.81,190.24 L371.94,190.25 L372.06,190.26 L372.18,190.27 L372.31,190.28 L372.43,190.29 L372.56,190.30 L372.68,190.31 L372.81,190.32 L372.93,190.33 L373.06,190.34 L373.18,190.35 L373.31,190.36 L373.43,190.37 L373.56,190.38 L373.68,190.39 L373.81,190.40 L373.93,190.41 L374.06,190.42 L374.18,190.43 L374.31,190.44 L374.43,190.45 L374.56,190.46 L374.68,190.47 L374.81,190.48 L374.93,190.49 L375.06,190.50 L375.18,190.50 L375.31,190.51 L375.43,190.52 L375.56,190.53 L375.68,190.54 L375.81,190.55 L375.93,190.56 L376.06,190.57 L376.18,190.58 L376.31,190.59 L376.43,190.60 L376.56,190.61 L376.68,190.62 L376.81,190.63 L376.93,190.64 L377.06,190.65 L377.18,190.66 L377.31,190.67 L377.43,190.68 L377.55,190.69 L377.68,190.70 L377.80,190.71 L377.93,190.72 L378.05,190.73 L378.18,190.74 L378.30,190.75 L378.43,190.75 L378.55,190.76 L378.68,190.77 L378.80,190.78 L378.93,190.79 L379.05,190.80 L379.18,190.81 L379.30,190.82 L379.43,190.83 L379.55,190.84 L379.68,190.85 L379.80,190.86 L379.93,190.87 L380.05,190.88 L380.18,190.89 L380.30,190.90 L380.43,190.91 L380.55,190.92 L380.68,190.93 L380.80,190.94 L380.93,190.94 L381.05,190.95 L381.18,190.96 L381.30,190.97 L381.43,190.98 L381.55,190.99 L381.68,191.00 L381.80,191.01 L381.93,191.02 L382.05,191.03 L382.18,191.04 L382.30,191.05 L382.43,191.06 L382.55,191.07 L382.67,191.08 L382.80,191.09 L382.92,191.10 L383.05,191.10 L383.17,191.11 L383.30,191.12 L383.42,191.13 L383.55,191.14 L383.67,191.15 L383.80,191.16 L383.92,191.17 L384.05,191.18 L384.17,191.19 L384.30,191.20 L384.42,191.21 L384.55,191.22 L384.67,191.23 L384.80,191.24 L384.92,191.24 L385.05,191.25 L385.17,191.26 L385.30,191.27 L385.42,191.28 L385.55,191.29 L385.67,191.30 L385.80,191.31 L385.92,191.32 L386.05,191.33 L386.17,191.34 L386.30,191.35 L386.42,191.36 L386.55,191.37 L386.67,191.37 L386.80,191.38 L386.92,191.39 L387.05,191.40 L387.17,191.41 L387.30,191.42 L387.42,191.43 L387.55,191.44 L387.67,191.45 L387.79,191.46 L387.92,191.47 L388.04,191.48 L388.17,191.49 L388.29,191.49 L388.42,191.50 L388.54,191.51 L388.67,191.52 L388.79,191.53 L388.92,191.54 L389.04,191.55 L389.17,191.56 L389.29,191.57 L389.42,191.58 L389.54,191.59 L389.67,191.60 L389.79,191.61 L389.92,191.61 L390.04,191.62 L390.17,191.63 L390.29,191.64 L390.42,191.65 L390.54,191.66 L390.67,191.67 L390.79,191.68 L390.92,191.69 L391.04,191.70 L391.17,191.71 L391.29,191.72 L391.42,191.72 L391.54,191.73 L391.67,191.74 L391.79,191.75 L391.92,191.76 L392.04,191.77 L392.17,191.78 L392.29,191.79 L392.42,191.80 L392.54,191.81 L392.67,191.82 L392.79,191.83 L392.91,191.83 L393.04,191.84 L393.16,191.85 L393.29,191.86 L393.41,191.87 L393.54,191.88 L393.66,191.89 L393.79,191.90 L393.91,191.91 L394.04,191.92 L394.16,191.93 L394.29,191.94 L394.41,191.94 L394.54,191.95 L394.66,191.96 L394.79,191.97 L394.91,191.98 L395.04,191.99 L395.16,192.00 L395.29,192.01 L395.41,192.02 L395.54,192.03 L395.66,192.04 L395.79,192.04 L395.91,192.05 L396.04,192.06 L396.16,192.07 L396.29,192.08 L396.41,192.09 L396.54,192.10 L396.66,192.11 L396.79,192.12 L396.91,192.13 L397.04,192.13 L397.16,192.14 L397.29,192.15 L397.41,192.16 L397.54,192.17 L397.66,192.18 L397.79,192.19 L397.91,192.20 L398.04,192.21 L398.16,192.22 L398.28,192.22 L398.41,192.23 L398.53,192.24 L398.66,192.25 L398.78,192.26 L398.91,192.27 L399.03,192.28 L399.16,192.29 L399.28,192.30 L399.41,192.31 L399.53,192.31 L399.66,192.32 L399.78,192.33 L399.91,192.34 L400.03,192.35 L400.16,192.36 L400.28,192.37 L400.41,192.38 L400.53,192.39 L400.66,192.40 L400.78,192.40 L400.91,192.41 L401.03,192.42 L401.16,192.43 L401.28,192.44 L401.41,192.45 L401.53,192.46 L401.66,192.47 L401.78,192.48 L401.91,192.48 L402.03,192.49 L402.16,192.50 L402.28,192.51 L402.41,192.52 L402.53,192.53 L402.66,192.54 L402.78,192.55 L402.91,192.56 L403.03,192.56 L403.16,192.57 L403.28,192.58 L403.40,192.59 L403.53,192.60 L403.65,192.61 L403.78,192.62 L403.90,192.63 L404.03,192.63 L404.15,192.64 L404.28,192.65 L404.40,192.66 L404.53,192.67 L404.65,192.68 L404.78,192.69 L404.90,192.70 L405.03,192.71 L405.15,192.71 L405.28,192.72 L405.40,192.73 L405.53,192.74 L405.65,192.75 L405.78,192.76 L405.90,192.77 L406.03,192.78 L406.15,192.78 L406.28,192.79 L406.40,192.80 L406.53,192.81 L406.65,192.82 L406.78,192.83 L406.90,192.84 L407.03,192.85 L407.15,192.85 L407.28,192.86 L407.40,192.87 L407.53,192.88 L407.65,192.89 L407.78,192.90 L407.90,192.91 L408.03,192.92 L408.15,192.92 L408.28,192.93 L408.40,192.94" stroke="#ff7f00" stroke-width="1.18"/>
<path d="M58.30,39.20 L58.74,39.96 L58.86,40.09 L58.99,40.21 L59.11,40.33 L59.24,40.44 L59.36,40.56 L59.49,40.67 L59.61,40.79 L59.74,40.90 L59.86,41.02 L59.99,41.13 L60.11,41.25 L60.24,41.36 L60.36,41.48 L60.49,41.60 L60.61,41.72 L60.74,41.84 L60.86,41.96 L60.99,42.07 L61.11,42.19 L61.24,42.31 L61.36,42.43 L61.48,42.55 L61.61,42.67 L61.73,42.79 L61.86,42.91 L61.98,43.02 L62.11,43.14 L62.23,43.26 L62.36,43.38 L62.48,43.50 L62.61,43.62 L62.73,43.73 L62.86,43.85 L62.98,43.97 L63.11,44.09 L63.23,44.20 L63.36,44.32 L63.48,44.44 L63.61,44.56 L63.73,44.67 L63.86,44.79 L63.98,44.91 L64.11,45.03 L64.23,45.15 L64.36,45.27 L64.48,45.39 L64.61,45.51 L64.73,45.62 L64.86,45.74 L64.98,45.86 L65.11,45.98 L65.23,46.10 L65.36,46.22 L65.48,46.35 L65.61,46.47 L65.73,46.59 L65.86,46.71 L65.98,46.83 L66.11,46.95 L66.23,47.07 L66.36,47.19 L66.48,47.32 L66.61,47.44 L66.73,47.56 L66.85,47.68 L66.98,47.80 L67.10,47.93 L67.23,48.05 L67.35,48.17 L67.48,48.29 L67.60,48.41 L67.73,48.53 L67.85,48.66 L67.98,48.78 L68.10,48.90 L68.23,49.02 L68.35,49.14 L68.48,49.26 L68.60,49.38 L68.73,49.50 L68.85,49.62 L68.98,49.74 L69.10,49.86 L69.23,49.98 L69.35,50.10 L69.48,50.22 L69.60,50.33 L69.73,50.45 L69.85,50.57 L69.98,50.69 L70.10,50.81 L70.23,50.92 L70.35,51.04 L70.48,51.16 L70.60,51.27 L70.73,51.39 L70.85,51.50 L70.98,51.62 L71.10,51.74 L71.23,51.85 L71.35,51.97 L71.48,52.08 L71.60,52.19 L71.73,52.31 L71.85,52.42 L71.97,52.54 L72.10,52.65 L72.22,52.76 L72.35,52.88 L72.47,52.99 L72.60,53.10 L72.72,53.22 L72.85,53.33 L72.97,53.44 L73.10,53.56 L73.22,53.67 L73.35,53.78 L73.47,53.89 L73.60,54.01 L73.72,54.12 L73.85,54.23 L73.97,54.35 L74.10,54.46 L74.22,54.57 L74.35,54.68 L74.47,54.80 L74.60,54.91 L74.72,55.02 L74.85,55.14 L74.97,55.25 L75.10,55.36 L75.22,55.48 L75.35,55.59 L75.47,55.70 L75.60,55.82 L75.72,55.93 L75.85,56.05 L75.97,56.16 L76.10,56.28 L76.22,56.39 L76.35,56.51 L76.47,56.62 L76.60,56.74 L76.72,56.85 L76.85,56.97 L76.97,57.09 L77.09,57.20 L77.22,57.32 L77.34,57.44 L77.47,57.55 L77.59,57.67 L77.72,57.79 L77.84,57.91 L77.97,58.02 L78.09,58.14 L78.22,58.26 L78.34,58.38 L78.47,58.50 L78.59,58.61 L78.72,58.73 L78.84,58.85 L78.97,58.97 L79.09,59.09 L79.22,59.21 L79.34,59.33 L79.47,59.45 L79.59,59.57 L79.72,59.69 L79.84,59.81 L79.97,59.93 L80.09,60.04 L80.22,60.16 L80.34,60.28 L80.47,60.40 L80.59,60.52 L80.72,60.64 L80.84,60.76 L80.97,60.88 L81.09,61.00 L81.22,61.12 L81.34,61.24 L81.47,61.36 L81.59,61.48 L81.72,61.60 L81.84,61.72 L81.97,61.83 L82.09,61.95 L82.21,62.07 L82.34,62.19 L82.46,62.31 L82.59,62.42 L82.71,62.54 L82.84,62.66 L82.96,62.78 L83.09,62.89 L83.21,63.01 L83.34,63.13 L83.46,63.25 L83.59,63.36 L83.71,63.48 L83.84,63.59 L83.96,63.71 L84.09,63.83 L84.21,63.94 L84.34,64.06 L84.46,64.17 L84.59,64.29 L84.71,64.40 L84.84,64.52 L84.96,64.63 L85.09,64.75 L85.21,64.86 L85.34,64.97 L85.46,65.09 L85.59,65.20 L85.71,65.32 L85.84,65.43 L85.96,65.54 L86.09,65.66 L86.21,65.77 L86.34,65.88 L86.46,66.00 L86.59,66.11 L86.71,66.22 L86.84,66.34 L86.96,66.45 L87.09,66.56 L87.21,66.68 L87.34,66.79 L87.46,66.90 L87.58,67.02 L87.71,67.13 L87.83,67.24 L87.96,67.36 L88.08,67.47 L88.21,67.58 L88.33,67.70 L88.46,67.81 L88.58,67.93 L88.71,68.04 L88.83,68.15 L88.96,68.27 L89.08,68.38 L89.21,68.50 L89.33,68.61 L89.46,68.73 L89.58,68.84 L89.71,68.96 L89.83,69.07 L89.96,69.19 L90.08,69.31 L90.21,69.42 L90.33,69.54 L90.46,69.66 L90.58,69.77 L90.71,69.89 L90.83,70.01 L90.96,70.13 L91.08,70.24 L91.21,70.36 L91.33,70.48 L91.46,70.60 L91.58,70.72 L91.71,70.83 L91.83,70.95 L91.96,71.07 L92.08,71.19 L92.21,71.31 L92.33,71.43 L92.46,71.55 L92.58,71.67 L92.70,71.79 L92.83,71.91 L92.95,72.03 L93.08,72.15 L93.20,72.27 L93.33,72.39 L93.45,72.50 L93.58,72.62 L93.70,72.74 L93.83,72.86 L93.95,72.98 L94.08,73.10 L94.20,73.22 L94.33,73.34 L94.45,73.46 L94.58,73.58 L94.70,73.70 L94.83,73.82 L94.95,73.94 L95.08,74.06 L95.20,74.18 L95.33,74.30 L95.45,74.41 L95.58,74.53 L95.70,74.65 L95.83,74.77 L95.95,74.89 L96.08,75.00 L96.20,75.12 L96.33,75.24 L96.45,75.36 L96.58,75.47 L96.70,75.59 L96.83,75.71 L96.95,75.82 L97.08,75.94 L97.20,76.05 L97.33,76.17 L97.45,76.29 L97.58,76.40 L97.70,76.52 L97.82,76.63 L97.95,76.74 L98.07,76.86 L98.20,76.97 L98.32,77.09 L98.45,77.20 L98.57,77.31 L98.70,77.43 L98.82,77.54 L98.95,77.65 L99.07,77.77 L99.20,77.88 L99.32,77.99 L99.45,78.11 L99.57,78.22 L99.70,78.33 L99.82,78.44 L99.95,78.56 L100.07,78.67 L100.20,78.78 L100.32,78.89 L100.45,79.01 L100.57,79.12 L100.70,79.23 L100.82,79.34 L100.95,79.46 L101.07,79.57 L101.20,79.68 L101.32,79.80 L101.45,79.91 L101.57,80.02 L101.70,80.14 L101.82,80.25 L101.95,80.36 L102.07,80.48 L102.20,80.59 L102.32,80.71 L102.45,80.82 L102.57,80.94 L102.70,81.05 L102.82,81.17 L102.94,81.28 L103.07,81.40 L103.19,81.51 L103.32,81.63 L103.44,81.74 L103.57,81.86 L103.69,81.98 L103.82,82.10 L103.94,82.21 L104.07,82.33 L104.19,82.45 L104.32,82.57 L104.44,82.68 L104.57,82.80 L104.69,82.92 L104.82,83.04 L104.94,83.16 L105.07,83.28 L105.19,83.40 L105.32,83.52 L105.44,83.64 L105.57,83.76 L105.69,83.88 L105.82,84.00 L105.94,84.12 L106.07,84.24 L106.19,84.36 L106.32,84.48 L106.44,84.60 L106.57,84.72 L106.69,84.84 L106.82,84.96 L106.94,85.09 L107.07,85.21 L107.19,85.33 L107.32,85.45 L107.44,85.57 L107.57,85.69 L107.69,85.81 L107.82,85.93 L107.94,86.05 L108.06,86.17 L108.19,86.29 L108.31,86.41 L108.44,86.53 L108.56,86.65 L108.69,86.77 L108.81,86.89 L108.94,87.01 L109.06,87.13 L109.19,87.24 L109.31,87.36 L109.44,87.48 L109.56,87.60 L109.69,87.72 L109.81,87.83 L109.94,87.95 L110.06,88.07 L110.19,88.18 L110.31,88.30 L110.44,88.41 L110.56,88.53 L110.69,88.64 L110.81,88.76 L110.94,88.87 L111.06,88.99 L111.19,89.10 L111.31,89.21 L111.44,89.33 L111.56,89.44 L111.69,89.55 L111.81,89.67 L111.94,89.78 L112.06,89.89 L112.19,90.00 L112.31,90.11 L112.44,90.23 L112.56,90.34 L112.69,90.45 L112.81,90.56 L112.94,90.67 L113.06,90.78 L113.19,90.89 L113.31,91.00 L113.43,91.11 L113.56,91.23 L113.68,91.34 L113.81,91.45 L113.93,91.56 L114.06,91.67 L114.18,91.78 L114.31,91.89 L114.43,92.00 L114.56,92.12 L114.68,92.23 L114.81,92.34 L114.93,92.45 L115.06,92.56 L115.18,92.68 L115.31,92.79 L115.43,92.90 L115.56,93.02 L115.68,93.13 L115.81,93.24 L115.93,93.36 L116.06,93.47 L116.18,93.59 L116.31,93.70 L116.43,93.82 L116.56,93.93 L116.68,94.05 L116.81,94.17 L116.93,94.28 L117.06,94.40 L117.18,94.52 L117.31,94.64 L117.43,94.75 L117.56,94.87 L117.68,94.99 L117.81,95.11 L117.93,95.23 L118.06,95.35 L118.18,95.47 L118.31,95.59 L118.43,95.71 L118.55,95.84 L118.68,95.96 L118.80,96.08 L118.93,96.20 L119.05,96.32 L119.18,96.45 L119.30,96.57 L119.43,96.69 L119.55,96.81 L119.68,96.94 L119.80,97.06 L119.93,97.18 L120.05,97.31 L120.18,97.43 L120.30,97.55 L120.43,97.67 L120.55,97.80 L120.68,97.92 L120.80,98.04 L120.93,98.17 L121.05,98.29 L121.18,98.41 L121.30,98.53 L121.43,98.66 L121.55,98.78 L121.68,98.90 L121.80,99.02 L121.93,99.14 L122.05,99.26 L122.18,99.38 L122.30,99.50 L122.43,99.62 L122.55,99.74 L122.68,99.86 L122.80,99.98 L122.93,100.09 L123.05,100.21 L123.18,100.33 L123.30,100.45 L123.43,100.56 L123.55,100.68 L123.67,100.79 L123.80,100.91 L123.92,101.02 L124.05,101.14 L124.17,101.25 L124.30,101.36 L124.42,101.47 L124.55,101.59 L124.67,101.70 L124.80,101.81 L124.92,101.92 L125.05,102.03 L125.17,102.14 L125.30,102.25 L125.42,102.36 L125.55,102.47 L125.67,102.58 L125.80,102.69 L125.92,102.80 L126.05,102.90 L126.17,103.01 L126.30,103.12 L126.42,103.23 L126.55,103.34 L126.67,103.45 L126.80,103.55 L126.92,103.66 L127.05,103.77 L127.17,103.88 L127.30,103.99 L127.42,104.09 L127.55,104.20 L127.67,104.31 L127.80,104.42 L127.92,104.53 L128.05,104.64 L128.17,104.75 L128.30,104.86 L128.42,104.97 L128.55,105.08 L128.67,105.19 L128.79,105.30 L128.92,105.41 L129.04,105.53 L129.17,105.64 L129.29,105.75 L129.42,105.87 L129.54,105.98 L129.67,106.10 L129.79,106.21 L129.92,106.33 L130.04,106.44 L130.17,106.56 L130.29,106.68 L130.42,106.80 L130.54,106.92 L130.67,107.04 L130.79,107.16 L130.92,107.28 L131.04,107.40 L131.17,107.52 L131.29,107.64 L131.42,107.76 L131.54,107.89 L131.67,108.01 L131.79,108.14 L131.92,108.26 L132.04,108.38 L132.17,108.51 L132.29,108.63 L132.42,108.76 L132.54,108.89 L132.67,109.01 L132.79,109.14 L132.92,109.27 L133.04,109.39 L133.17,109.52 L133.29,109.65 L133.42,109.77 L133.54,109.90 L133.67,110.03 L133.79,110.16 L133.92,110.28 L134.04,110.41 L134.16,110.54 L134.29,110.66 L134.41,110.79 L134.54,110.91 L134.66,111.04 L134.79,111.17 L134.91,111.29 L135.04,111.41 L135.16,111.54 L135.29,111.66 L135.41,111.78 L135.54,111.91 L135.66,112.03 L135.79,112.15 L135.91,112.27 L136.04,112.39 L136.16,112.51 L136.29,112.63 L136.41,112.74 L136.54,112.86 L136.66,112.98 L136.79,113.09 L136.91,113.21 L137.04,113.32 L137.16,113.43 L137.29,113.55 L137.41,113.66 L137.54,113.77 L137.66,113.88 L137.79,113.99 L137.91,114.10 L138.04,114.21 L138.16,114.31 L138.29,114.42 L138.41,114.53 L138.54,114.63 L138.66,114.74 L138.79,114.84 L138.91,114.95 L139.04,115.05 L139.16,115.15 L139.28,115.26 L139.41,115.36 L139.53,115.46 L139.66,115.57 L139.78,115.67 L139.91,115.77 L140.03,115.87 L140.16,115.98 L140.28,116.08 L140.41,116.18 L140.53,116.29 L140.66,116.39 L140.78,116.49 L140.91,116.60 L141.03,116.70 L141.16,116.80 L141.28,116.91 L141.41,117.01 L141.53,117.12 L141.66,117.23 L141.78,117.33 L141.91,117.44 L142.03,117.55 L142.16,117.66 L142.28,117.77 L142.41,117.88 L142.53,117.99 L142.66,118.10 L142.78,118.22 L142.91,118.33 L143.03,118.45 L143.16,118.56 L143.28,118.68 L143.41,118.79 L143.53,118.91 L143.66,119.03 L143.78,119.15 L143.91,119.27 L144.03,119.40 L144.16,119.52 L144.28,119.64 L144.40,119.77 L144.53,119.89 L144.65,120.02 L144.78,120.15 L144.90,120.27 L145.03,120.40 L145.15,120.53 L145.28,120.66 L145.40,120.79 L145.53,120.92 L145.65,121.06 L145.78,121.19 L145.90,121.32 L146.03,121.46 L146.15,121.59 L146.28,121.72 L146.40,121.86 L146.53,121.99 L146.65,122.13 L146.78,122.26 L146.90,122.39 L147.03,122.53 L147.15,122.66 L147.28,122.80 L147.40,122.93 L147.53,123.06 L147.65,123.20 L147.78,123.33 L147.90,123.46 L148.03,123.59 L148.15,123.72 L148.28,123.85 L148.40,123.98 L148.53,124.11 L148.65,124.24 L148.78,124.37 L148.90,124.49 L149.03,124.62 L149.15,124.74 L149.28,124.86 L149.40,124.98 L149.52,125.10 L149.65,125.22 L149.77,125.34 L149.90,125.46 L150.02,125.57 L150.15,125.68 L150.27,125.80 L150.40,125.91 L150.52,126.02 L150.65,126.13 L150.77,126.23 L150.90,126.34 L151.02,126.44 L151.15,126.55 L151.27,126.65 L151.40,126.75 L151.52,126.85 L151.65,126.95 L151.77,127.05 L151.90,127.15 L152.02,127.24 L152.15,127.34 L152.27,127.44 L152.40,127.53 L152.52,127.63 L152.65,127.72 L152.77,127.81 L152.90,127.91 L153.02,128.00 L153.15,128.09 L153.27,128.18 L153.40,128.28 L153.52,128.37 L153.65,128.46 L153.77,128.56 L153.90,128.65 L154.02,128.75 L154.15,128.84 L154.27,128.94 L154.40,129.03 L154.52,129.13 L154.65,129.23 L154.77,129.32 L154.89,129.42 L155.02,129.52 L155.14,129.63 L155.27,129.73 L155.39,129.83 L155.52,129.94 L155.64,130.04 L155.77,130.15 L155.89,130.26 L156.02,130.37 L156.14,130.48 L156.27,130.60 L156.39,130.71 L156.52,130.83 L156.64,130.94 L156.77,131.06 L156.89,131.18 L157.02,131.31 L157.14,131.43 L157.27,131.56 L157.39,131.68 L157.52,131.81 L157.64,131.94 L157.77,132.07 L157.89,132.21 L158.02,132.34 L158.14,132.48 L158.27,132.61 L158.39,132.75 L158.52,132.89 L158.64,133.03 L158.77,133.17 L158.89,133.31 L159.02,133.46 L159.14,133.60 L159.27,133.75 L159.39,133.89 L159.52,134.04 L159.64,134.19 L159.77,134.33 L159.89,134.48 L160.01,134.63 L160.14,134.78 L160.26,134.92 L160.39,135.07 L160.51,135.22 L160.64,135.37 L160.76,135.51 L160.89,135.66 L161.01,135.80 L161.14,135.95 L161.26,136.09 L161.39,136.23 L161.51,136.37 L161.64,136.51 L161.76,136.65 L161.89,136.79 L162.01,136.92 L162.14,137.06 L162.26,137.19 L162.39,137.32 L162.51,137.45 L162.64,137.57 L162.76,137.69 L162.89,137.82 L163.01,137.93 L163.14,138.05 L163.26,138.17 L163.39,138.28 L163.51,138.39 L163.64,138.49 L163.76,138.60 L163.89,138.70 L164.01,138.80 L164.14,138.90 L164.26,139.00 L164.39,139.09 L164.51,139.18 L164.64,139.27 L164.76,139.36 L164.89,139.45 L165.01,139.53 L165.13,139.62 L165.26,139.70 L165.38,139.78 L165.51,139.86 L165.63,139.94 L165.76,140.02 L165.88,140.09 L166.01,140.17 L166.13,140.25 L166.26,140.32 L166.38,140.40 L166.51,140.47 L166.63,140.55 L166.76,140.62 L166.88,140.70 L167.01,140.77 L167.13,140.85 L167.26,140.93 L167.38,141.01 L167.51,141.09 L167.63,141.17 L167.76,141.25 L167.88,141.33 L168.01,141.42 L168.13,141.51 L168.26,141.59 L168.38,141.69 L168.51,141.78 L168.63,141.87 L168.76,141.97 L168.88,142.07 L169.01,142.17 L169.13,142.27 L169.26,142.38 L169.38,142.48 L169.51,142.59 L169.63,142.71 L169.76,142.82 L169.88,142.94 L170.01,143.06 L170.13,143.18 L170.25,143.31 L170.38,143.44 L170.50,143.57 L170.63,143.70 L170.75,143.84 L170.88,143.97 L171.00,144.12 L171.13,144.26 L171.25,144.41 L171.38,144.55 L171.50,144.70 L171.63,144.86 L171.75,145.01 L171.88,145.17 L172.00,145.33 L172.13,145.49 L172.25,145.65 L172.38,145.82 L172.50,145.98 L172.63,146.15 L172.75,146.32 L172.88,146.49 L173.00,146.66 L173.13,146.83 L173.25,147.01 L173.38,147.18 L173.50,147.35 L173.63,147.52 L173.75,147.70 L173.88,147.87 L174.00,148.04 L174.13,148.21 L174.25,148.38 L174.38,148.55 L174.50,148.71 L174.63,148.88 L174.75,149.04 L174.88,149.20 L175.00,149.36 L175.13,149.51 L175.25,149.66 L175.38,149.81 L175.50,149.96 L175.62,150.10 L175.75,150.24 L175.87,150.37 L176.00,150.50 L176.12,150.63 L176.25,150.75 L176.37,150.87 L176.50,150.98 L176.62,151.09 L176.75,151.20 L176.87,151.30 L177.00,151.39 L177.12,151.48 L177.25,151.57 L177.37,151.66 L177.50,151.74 L177.62,151.81 L177.75,151.88 L177.87,151.95 L178.00,152.02 L178.12,152.08 L178.25,152.14 L178.37,152.19 L178.50,152.25 L178.62,152.30 L178.75,152.35 L178.87,152.39 L179.00,152.44 L179.12,152.49 L179.25,152.53 L179.37,152.57 L179.50,152.62 L179.62,152.66 L179.75,152.70 L179.87,152.75 L180.00,152.79 L180.12,152.83 L180.25,152.88 L180.37,152.93 L180.50,152.98 L180.62,153.03 L180.74,153.08 L180.87,153.13 L180.99,153.19 L181.12,153.25 L181.24,153.31 L181.37,153.38 L181.49,153.44 L181.62,153.51 L181.74,153.59 L181.87,153.67 L181.99,153.75 L182.12,153.83 L182.24,153.92 L182.37,154.01 L182.49,154.11 L182.62,154.21 L182.74,154.31 L182.87,154.42 L182.99,154.53 L183.12,154.65 L183.24,154.77 L183.37,154.90 L183.49,155.03 L183.62,155.16 L183.74,155.30 L183.87,155.44 L183.99,155.59 L184.12,155.74 L184.24,155.90 L184.37,156.06 L184.49,156.23 L184.62,156.39 L184.74,156.57 L184.87,156.75 L184.99,156.93 L185.12,157.11 L185.24,157.30 L185.37,157.49 L185.49,157.69 L185.62,157.89 L185.74,158.09 L185.86,158.30 L185.99,158.51 L186.11,158.72 L186.24,158.93 L186.36,159.14 L186.49,159.36 L186.61,159.58 L186.74,159.80 L186.86,160.02 L186.99,160.24 L187.11,160.46 L187.24,160.68 L187.36,160.89 L187.49,161.11 L187.61,161.33 L187.74,161.54 L187.86,161.75 L187.99,161.95 L188.11,162.16 L188.24,162.36 L188.36,162.55 L188.49,162.74 L188.61,162.92 L188.74,163.09 L188.86,163.26 L188.99,163.42 L189.11,163.58 L189.24,163.73 L189.36,163.86 L189.49,163.99 L189.61,164.11 L189.74,164.23 L189.86,164.33 L189.99,164.42 L190.11,164.51 L190.24,164.59 L190.36,164.65 L190.49,164.71 L190.61,164.76 L190.74,164.81 L190.86,164.85 L190.98,164.87 L191.11,164.90 L191.23,164.91 L191.36,164.92 L191.48,164.93 L191.61,164.93 L191.73,164.93 L191.86,164.92 L191.98,164.91 L192.11,164.90 L192.23,164.89 L192.36,164.87 L192.48,164.85 L192.61,164.84 L192.73,164.82 L192.86,164.81 L192.98,164.79 L193.11,164.78 L193.23,164.76 L193.36,164.75 L193.48,164.75 L193.61,164.74 L193.73,164.74 L193.86,164.74 L193.98,164.75 L194.11,164.76 L194.23,164.77 L194.36,164.79 L194.48,164.82 L194.61,164.84 L194.73,164.88 L194.86,164.92 L194.98,164.96 L195.11,165.01 L195.23,165.07 L195.36,165.13 L195.48,165.20 L195.61,165.27 L195.73,165.35 L195.86,165.44 L195.98,165.53 L196.10,165.63 L196.23,165.74 L196.35,165.85 L196.48,165.97 L196.60,166.10 L196.73,166.24 L196.85,166.38 L196.98,166.53 L197.10,166.68 L197.23,166.84 L197.35,167.01 L197.48,167.19 L197.60,167.38 L197.73,167.57 L197.85,167.77 L197.98,167.97 L198.10,168.18 L198.23,168.40 L198.35,168.63 L198.48,168.86 L198.60,169.11 L198.73,169.35 L198.85,169.61 L198.98,169.87 L199.10,170.13 L199.23,170.41 L199.35,170.69 L199.48,170.97 L199.60,171.26 L199.73,171.55 L199.85,171.85 L199.98,172.16 L200.10,172.46 L200.23,172.77 L200.35,173.08 L200.48,173.39 L200.60,173.71 L200.73,174.02 L200.85,174.33 L200.98,174.64 L201.10,174.94 L201.23,175.25 L201.35,175.54 L201.47,175.83 L201.60,176.11 L201.72,176.38 L201.85,176.64 L201.97,176.89 L202.10,177.12 L202.22,177.34 L202.35,177.54 L202.47,177.73 L202.60,177.89 L202.72,178.04 L202.85,178.17 L202.97,178.28 L203.10,178.36 L203.22,178.43 L203.35,178.48 L203.47,178.51 L203.60,178.52 L203.72,178.51 L203.85,178.48 L203.97,178.44 L204.10,178.38 L204.22,178.32 L204.35,178.23 L204.47,178.14 L204.60,178.04 L204.72,177.93 L204.85,177.82 L204.97,177.70 L205.10,177.58 L205.22,177.45 L205.35,177.32 L205.47,177.19 L205.60,177.07 L205.72,176.94 L205.85,176.82 L205.97,176.69 L206.10,176.58 L206.22,176.46 L206.35,176.35 L206.47,176.25 L206.59,176.15 L206.72,176.06 L206.84,175.98 L206.97,175.90 L207.09,175.83 L207.22,175.76 L207.34,175.71 L207.47,175.66 L207.59,175.62 L207.72,175.59 L207.84,175.56 L207.97,175.55 L208.09,175.54 L208.22,175.54 L208.34,175.56 L208.47,175.58 L208.59,175.60 L208.72,175.64 L208.84,175.69 L208.97,175.75 L209.09,175.82 L209.22,175.89 L209.34,175.98 L209.47,176.07 L209.59,176.18 L209.72,176.29 L209.84,176.42 L209.97,176.55 L210.09,176.70 L210.22,176.85 L210.34,177.02 L210.47,177.20 L210.59,177.38 L210.72,177.58 L210.84,177.79 L210.97,178.01 L211.09,178.24 L211.22,178.48 L211.34,178.73 L211.47,179.00 L211.59,179.27 L211.71,179.56 L211.84,179.86 L211.96,180.17 L212.09,180.49 L212.21,180.82 L212.34,181.17 L212.46,181.53 L212.59,181.90 L212.71,182.28 L212.84,182.68 L212.96,183.08 L213.09,183.50 L213.21,183.93 L213.34,184.37 L213.46,184.82 L213.59,185.28 L213.71,185.75 L213.84,186.23 L213.96,186.72 L214.09,187.21 L214.21,187.71 L214.34,188.21 L214.46,188.71 L214.59,189.21 L214.71,189.70 L214.84,190.18 L214.96,190.65 L215.09,191.10 L215.21,191.53 L215.34,191.93 L215.46,192.29 L215.59,192.62 L215.71,192.91 L215.84,193.15 L215.96,193.34 L216.09,193.48 L216.21,193.56 L216.34,193.59 L216.46,193.57 L216.59,193.50 L216.71,193.37 L216.83,193.21 L216.96,193.01 L217.08,192.77 L217.21,192.51 L217.33,192.22 L217.46,191.91 L217.58,191.59 L217.71,191.26 L217.83,190.93 L217.96,190.59 L218.08,190.25 L218.21,189.92 L218.33,189.58 L218.46,189.26 L218.58,188.94 L218.71,188.63 L218.83,188.33 L218.96,188.04 L219.08,187.76 L219.21,187.49 L219.33,187.24 L219.46,186.99 L219.58,186.76 L219.71,186.54 L219.83,186.34 L219.96,186.15 L220.08,185.96 L220.21,185.80 L220.33,185.64 L220.46,185.50 L220.58,185.37 L220.71,185.25 L220.83,185.15 L220.96,185.06 L221.08,184.98 L221.21,184.91 L221.33,184.85 L221.46,184.81 L221.58,184.78 L221.71,184.76 L221.83,184.75 L221.96,184.76 L222.08,184.78 L222.20,184.80 L222.33,184.85 L222.45,184.90 L222.58,184.96 L222.70,185.04 L222.83,185.13 L222.95,185.23 L223.08,185.35 L223.20,185.47 L223.33,185.61 L223.45,185.76 L223.58,185.93 L223.70,186.10 L223.83,186.29 L223.95,186.49 L224.08,186.71 L224.20,186.94 L224.33,187.18 L224.45,187.44 L224.58,187.71 L224.70,187.99 L224.83,188.29 L224.95,188.61 L225.08,188.93 L225.20,189.28 L225.33,189.64 L225.45,190.02 L225.58,190.41 L225.70,190.82 L225.83,191.25 L225.95,191.70 L226.08,192.16 L226.20,192.64 L226.33,193.14 L226.45,193.66 L226.58,194.20 L226.70,194.76 L226.83,195.34 L226.95,195.94 L227.08,196.56 L227.20,197.20 L227.32,197.86 L227.45,198.53 L227.57,199.22 L227.70,199.92 L227.82,200.63 L227.95,201.34 L228.07,202.06 L228.20,202.76 L228.32,203.45 L228.45,204.10 L228.57,204.72 L228.70,205.28 L228.82,205.77 L228.95,206.18 L229.07,206.49 L229.20,206.69 L229.32,206.77 L229.45,206.74 L229.57,206.61 L229.70,206.37 L229.82,206.04 L229.95,205.63 L230.07,205.17 L230.20,204.66 L230.32,204.12 L230.45,203.55 L230.57,202.98 L230.70,202.40 L230.82,201.82 L230.95,201.25 L231.07,200.69 L231.20,200.15 L231.32,199.62 L231.45,199.11 L231.57,198.62 L231.70,198.15 L231.82,197.70 L231.95,197.27 L232.07,196.86 L232.20,196.47 L232.32,196.10 L232.44,195.74 L232.57,195.41 L232.69,195.09 L232.82,194.79 L232.94,194.51 L233.07,194.25 L233.19,194.00 L233.32,193.77 L233.44,193.56 L233.57,193.36 L233.69,193.17 L233.82,193.01 L233.94,192.85 L234.07,192.71 L234.19,192.59 L234.32,192.48 L234.44,192.38 L234.57,192.29 L234.69,192.22 L234.82,192.17 L234.94,192.12 L235.07,192.09 L235.19,192.07 L235.32,192.06 L235.44,192.07 L235.57,192.09 L235.69,192.12 L235.82,192.16 L235.94,192.22 L236.07,192.29 L236.19,192.36 L236.32,192.46 L236.44,192.56 L236.57,192.68 L236.69,192.80 L236.82,192.94 L236.94,193.10 L237.07,193.26 L237.19,193.44 L237.32,193.63 L237.44,193.83 L237.56,194.04 L237.69,194.27 L237.81,194.51 L237.94,194.76 L238.06,195.03 L238.19,195.31 L238.31,195.60 L238.44,195.90 L238.56,196.22 L238.69,196.55 L238.81,196.89 L238.94,197.25 L239.06,197.62 L239.19,198.00 L239.31,198.40 L239.44,198.80 L239.56,199.22 L239.69,199.66 L239.81,200.10 L239.94,200.56 L240.06,201.02 L240.19,201.49 L240.31,201.97 L240.44,202.46 L240.56,202.95 L240.69,203.44 L240.81,203.93 L240.94,204.42 L241.06,204.90 L241.19,205.36 L241.31,205.81 L241.44,206.24 L241.56,206.64 L241.69,207.00 L241.81,207.33 L241.94,207.62 L242.06,207.85 L242.19,208.03 L242.31,208.16 L242.44,208.22 L242.56,208.23 L242.69,208.18 L242.81,208.08 L242.93,207.93 L243.06,207.73 L243.18,207.49 L243.31,207.21 L243.43,206.91 L243.56,206.58 L243.68,206.23 L243.81,205.86 L243.93,205.49 L244.06,205.11 L244.18,204.72 L244.31,204.34 L244.43,203.96 L244.56,203.59 L244.68,203.22 L244.81,202.86 L244.93,202.51 L245.06,202.16 L245.18,201.83 L245.31,201.51 L245.43,201.21 L245.56,200.91 L245.68,200.63 L245.81,200.36 L245.93,200.10 L246.06,199.85 L246.18,199.62 L246.31,199.40 L246.43,199.19 L246.56,199.00 L246.68,198.81 L246.81,198.64 L246.93,198.48 L247.06,198.33 L247.18,198.20 L247.31,198.07 L247.43,197.96 L247.56,197.86 L247.68,197.77 L247.81,197.69 L247.93,197.63 L248.05,197.57 L248.18,197.52 L248.30,197.49 L248.43,197.46 L248.55,197.45 L248.68,197.44 L248.80,197.45 L248.93,197.47 L249.05,197.49 L249.18,197.53 L249.30,197.57 L249.43,197.63 L249.55,197.69 L249.68,197.77 L249.80,197.85 L249.93,197.95 L250.05,198.05 L250.18,198.16 L250.30,198.29 L250.43,198.42 L250.55,198.56 L250.68,198.70 L250.80,198.86 L250.93,199.03 L251.05,199.20 L251.18,199.38 L251.30,199.57 L251.43,199.77 L251.55,199.98 L251.68,200.19 L251.80,200.41 L251.93,200.64 L252.05,200.87 L252.18,201.11 L252.30,201.35 L252.43,201.60 L252.55,201.86 L252.68,202.11 L252.80,202.37 L252.93,202.64 L253.05,202.90 L253.17,203.17 L253.30,203.43 L253.42,203.70 L253.55,203.96 L253.67,204.22 L253.80,204.47 L253.92,204.72 L254.05,204.96 L254.17,205.19 L254.30,205.41 L254.42,205.62 L254.55,205.81 L254.67,205.99 L254.80,206.15 L254.92,206.30 L255.05,206.43 L255.17,206.54 L255.30,206.63 L255.42,206.70 L255.55,206.75 L255.67,206.78 L255.80,206.79 L255.92,206.77 L256.05,206.74 L256.17,206.69 L256.30,206.62 L256.42,206.54 L256.55,206.44 L256.67,206.32 L256.80,206.19 L256.92,206.05 L257.05,205.91 L257.17,205.75 L257.30,205.58 L257.42,205.41 L257.55,205.24 L257.67,205.06 L257.80,204.87 L257.92,204.69 L258.05,204.51 L258.17,204.33 L258.29,204.15 L258.42,203.97 L258.54,203.79 L258.67,203.62 L258.79,203.45 L258.92,203.28 L259.04,203.12 L259.17,202.97 L259.29,202.82 L259.42,202.68 L259.54,202.54 L259.67,202.41 L259.79,202.29 L259.92,202.17 L260.04,202.06 L260.17,201.95 L260.29,201.86 L260.42,201.77 L260.54,201.69 L260.67,201.61 L260.79,201.54 L260.92,201.48 L261.04,201.43 L261.17,201.38 L261.29,201.34 L261.42,201.31 L261.54,201.29 L261.67,201.27 L261.79,201.26 L261.92,201.25 L262.04,201.26 L262.17,201.27 L262.29,201.28 L262.42,201.31 L262.54,201.34 L262.67,201.37 L262.79,201.42 L262.92,201.47 L263.04,201.52 L263.17,201.59 L263.29,201.65 L263.41,201.73 L263.54,201.81 L263.66,201.89 L263.79,201.98 L263.91,202.08 L264.04,202.18 L264.16,202.29 L264.29,202.40 L264.41,202.51 L264.54,202.63 L264.66,202.76 L264.79,202.88 L264.91,203.01 L265.04,203.15 L265.16,203.28 L265.29,203.42 L265.41,203.56 L265.54,203.71 L265.66,203.85 L265.79,204.00 L265.91,204.14 L266.04,204.29 L266.16,204.43 L266.29,204.57 L266.41,204.72 L266.54,204.86 L266.66,205.00 L266.79,205.13 L266.91,205.26 L267.04,205.39 L267.16,205.51 L267.29,205.63 L267.41,205.74 L267.54,205.85 L267.66,205.95 L267.79,206.04 L267.91,206.13 L268.04,206.21 L268.16,206.28 L268.29,206.34 L268.41,206.40 L268.54,206.44 L268.66,206.48 L268.78,206.51 L268.91,206.53 L269.03,206.54 L269.16,206.54 L269.28,206.54 L269.41,206.53 L269.53,206.50 L269.66,206.48 L269.78,206.44 L269.91,206.40 L270.03,206.35 L270.16,206.30 L270.28,206.24 L270.41,206.18 L270.53,206.11 L270.66,206.04 L270.78,205.96 L270.91,205.89 L271.03,205.81 L271.16,205.73 L271.28,205.64 L271.41,205.56 L271.53,205.47 L271.66,205.39 L271.78,205.30 L271.91,205.22 L272.03,205.14 L272.16,205.06 L272.28,204.98 L272.41,204.90 L272.53,204.82 L272.66,204.75 L272.78,204.67 L272.91,204.61 L273.03,204.54 L273.16,204.48 L273.28,204.42 L273.41,204.36 L273.53,204.31 L273.66,204.26 L273.78,204.22 L273.90,204.18 L274.03,204.14 L274.15,204.11 L274.28,204.08 L274.40,204.05 L274.53,204.03 L274.65,204.02 L274.78,204.01 L274.90,204.00 L275.03,203.99 L275.15,204.00 L275.28,204.00 L275.40,204.01 L275.53,204.02 L275.65,204.04 L275.78,204.06 L275.90,204.09 L276.03,204.11 L276.15,204.15 L276.28,204.18 L276.40,204.22 L276.53,204.27 L276.65,204.31 L276.78,204.36 L276.90,204.42 L277.03,204.47 L277.15,204.53 L277.28,204.59 L277.40,204.66 L277.53,204.73 L277.65,204.80 L277.78,204.87 L277.90,204.94 L278.03,205.02 L278.15,205.09 L278.28,205.17 L278.40,205.25 L278.53,205.33 L278.65,205.41 L278.78,205.49 L278.90,205.58 L279.02,205.66 L279.15,205.74 L279.27,205.82 L279.40,205.90 L279.52,205.98 L279.65,206.06 L279.77,206.13 L279.90,206.21 L280.02,206.28 L280.15,206.35 L280.27,206.42 L280.40,206.49 L280.52,206.55 L280.65,206.61 L280.77,206.67 L280.90,206.73 L281.02,206.78 L281.15,206.83 L281.27,206.87 L281.40,206.91 L281.52,206.95 L281.65,206.98 L281.77,207.01 L281.90,207.03 L282.02,207.05 L282.15,207.07 L282.27,207.08 L282.40,207.09 L282.52,207.10 L282.65,207.10 L282.77,207.10 L282.90,207.09 L283.02,207.08 L283.15,207.07 L283.27,207.06 L283.40,207.04 L283.52,207.02 L283.65,207.00 L283.77,206.97 L283.90,206.94 L284.02,206.91 L284.14,206.88 L284.27,206.85 L284.39,206.82 L284.52,206.78 L284.64,206.75 L284.77,206.71 L284.89,206.68 L285.02,206.64 L285.14,206.60 L285.27,206.57 L285.39,206.53 L285.52,206.50 L285.64,206.46 L285.77,206.43 L285.89,206.39 L286.02,206.36 L286.14,206.33 L286.27,206.30 L286.39,206.27 L286.52,206.24 L286.64,206.22 L286.77,206.20 L286.89,206.18 L287.02,206.16 L287.14,206.14 L287.27,206.12 L287.39,206.11 L287.52,206.10 L287.64,206.09 L287.77,206.08 L287.89,206.08 L288.02,206.08 L288.14,206.08 L288.27,206.08 L288.39,206.08 L288.52,206.09 L288.64,206.10 L288.77,206.11 L288.89,206.13 L289.02,206.14 L289.14,206.16 L289.27,206.18 L289.39,206.20 L289.51,206.23 L289.64,206.25 L289.76,206.28 L289.89,206.31 L290.01,206.35 L290.14,206.38 L290.26,206.42 L290.39,206.45 L290.51,206.49 L290.64,206.53 L290.76,206.57 L290.89,206.61 L291.01,206.66 L291.14,206.70 L291.26,206.75 L291.39,206.79 L291.51,206.84 L291.64,206.89 L291.76,206.94 L291.89,206.98 L292.01,207.03 L292.14,207.08 L292.26,207.13 L292.39,207.18 L292.51,207.22 L292.64,207.27 L292.76,207.32 L292.89,207.36 L293.01,207.41 L293.14,207.45 L293.26,207.49 L293.39,207.54 L293.51,207.58 L293.64,207.62 L293.76,207.65 L293.89,207.69 L294.01,207.72 L294.14,207.76 L294.26,207.79 L294.39,207.82 L294.51,207.85 L294.63,207.87 L294.76,207.90 L294.88,207.92 L295.01,207.94 L295.13,207.96 L295.26,207.98 L295.38,207.99 L295.51,208.00 L295.63,208.02 L295.76,208.02 L295.88,208.03 L296.01,208.04 L296.13,208.04 L296.26,208.04 L296.38,208.05 L296.51,208.04 L296.63,208.04 L296.76,208.04 L296.88,208.03 L297.01,208.03 L297.13,208.02 L297.26,208.01 L297.38,208.01 L297.51,208.00 L297.63,207.99 L297.76,207.97 L297.88,207.96 L298.01,207.95 L298.13,207.94 L298.26,207.93 L298.38,207.91 L298.51,207.90 L298.63,207.89 L298.76,207.88 L298.88,207.86 L299.01,207.85 L299.13,207.84 L299.26,207.83 L299.38,207.82 L299.51,207.81 L299.63,207.80 L299.75,207.79 L299.88,207.78 L300.00,207.78 L300.13,207.77 L300.25,207.77 L300.38,207.76 L300.50,207.76 L300.63,207.76 L300.75,207.76 L300.88,207.76 L301.00,207.76 L301.13,207.76 L301.25,207.76 L301.38,207.77 L301.50,207.78 L301.63,207.78 L301.75,207.79 L301.88,207.80 L302.00,207.81 L302.13,207.83 L302.25,207.84 L302.38,207.85 L302.50,207.87 L302.63,207.89 L302.75,207.91 L302.88,207.92 L303.00,207.94 L303.13,207.97 L303.25,207.99 L303.38,208.01 L303.50,208.04 L303.63,208.06 L303.75,208.09 L303.88,208.11 L304.00,208.14 L304.13,208.17 L304.25,208.19 L304.38,208.22 L304.50,208.25 L304.63,208.28 L304.75,208.31 L304.87,208.34 L305.00,208.37 L305.12,208.40 L305.25,208.43 L305.37,208.46 L305.50,208.49 L305.62,208.52 L305.75,208.55 L305.87,208.58 L306.00,208.61 L306.12,208.64 L306.25,208.67 L306.37,208.70 L306.50,208.72 L306.62,208.75 L306.75,208.78 L306.87,208.80 L307.00,208.83 L307.12,208.85 L307.25,208.87 L307.37,208.90 L307.50,208.92 L307.62,208.94 L307.75,208.96 L307.87,208.98 L308.00,209.00 L308.12,209.01 L308.25,209.03 L308.37,209.05 L308.50,209.06 L308.62,209.07 L308.75,209.09 L308.87,209.10 L309.00,209.11 L309.12,209.12 L309.25,209.13 L309.37,209.14 L309.50,209.14 L309.62,209.15 L309.75,209.15 L309.87,209.16 L310.00,209.16 L310.12,209.17 L310.24,209.17 L310.37,209.17 L310.49,209.18 L310.62,209.18 L310.74,209.18 L310.87,209.18 L310.99,209.18 L311.12,209.18 L311.24,209.18 L311.37,209.18 L311.49,209.18 L311.62,209.18 L311.74,209.18 L311.87,209.17 L311.99,209.17 L312.12,209.17 L312.24,209.17 L312.37,209.17 L312.49,209.17 L312.62,209.17 L312.74,209.17 L312.87,209.17 L312.99,209.17 L313.12,209.18 L313.24,209.18 L313.37,209.18 L313.49,209.18 L313.62,209.19 L313.74,209.19 L313.87,209.19 L313.99,209.20 L314.12,209.20 L314.24,209.21 L314.37,209.22 L314.49,209.22 L314.62,209.23 L314.74,209.24 L314.87,209.25 L314.99,209.26 L315.12,209.27 L315.24,209.28 L315.36,209.29 L315.49,209.30 L315.61,209.32 L315.74,209.33 L315.86,209.34 L315.99,209.36 L316.11,209.37 L316.24,209.39 L316.36,209.41 L316.49,209.42 L316.61,209.44 L316.74,209.46 L316.86,209.48 L316.99,209.49 L317.11,209.51 L317.24,209.53 L317.36,209.55 L317.49,209.57 L317.61,209.59 L317.74,209.61 L317.86,209.63 L317.99,209.65 L318.11,209.67 L318.24,209.69 L318.36,209.71 L318.49,209.73 L318.61,209.76 L318.74,209.78 L318.86,209.80 L318.99,209.82 L319.11,209.84 L319.24,209.86 L319.36,209.88 L319.49,209.90 L319.61,209.92 L319.74,209.94 L319.86,209.96 L319.99,209.98 L320.11,209.99 L320.24,210.01 L320.36,210.03 L320.48,210.05 L320.61,210.06 L320.73,210.08 L320.86,210.10 L320.98,210.11 L321.11,210.13 L321.23,210.14 L321.36,210.16 L321.48,210.17 L321.61,210.18 L321.73,210.20 L321.86,210.21 L321.98,210.22 L322.11,210.23 L322.23,210.24 L322.36,210.25 L322.48,210.26 L322.61,210.27 L322.73,210.28 L322.86,210.29 L322.98,210.30 L323.11,210.31 L323.23,210.32 L323.36,210.32 L323.48,210.33 L323.61,210.34 L323.73,210.34 L323.86,210.35 L323.98,210.36 L324.11,210.36 L324.23,210.37 L324.36,210.37 L324.48,210.38 L324.61,210.38 L324.73,210.39 L324.86,210.39 L324.98,210.40 L325.11,210.40 L325.23,210.41 L325.36,210.41 L325.48,210.42 L325.60,210.42 L325.73,210.43 L325.85,210.43 L325.98,210.44 L326.10,210.44 L326.23,210.45 L326.35,210.46 L326.48,210.46 L326.60,210.47 L326.73,210.48 L326.85,210.48 L326.98,210.49 L327.10,210.50 L327.23,210.50 L327.35,210.51 L327.48,210.52 L327.60,210.53 L327.73,210.54 L327.85,210.55 L327.98,210.56 L328.10,210.57 L328.23,210.58 L328.35,210.59 L328.48,210.60 L328.60,210.61 L328.73,210.62 L328.85,210.63 L328.98,210.64 L329.10,210.66 L329.23,210.67 L329.35,210.68 L329.48,210.69 L329.60,210.71 L329.73,210.72 L329.85,210.74 L329.98,210.75 L330.10,210.76 L330.23,210.78 L330.35,210.79 L330.48,210.81 L330.60,210.82 L330.73,210.84 L330.85,210.85 L330.97,210.87 L331.10,210.88 L331.22,210.90 L331.35,210.92 L331.47,210.93 L331.60,210.95 L331.72,210.96 L331.85,210.98 L331.97,210.99 L332.10,211.01 L332.22,211.03 L332.35,211.04 L332.47,211.06 L332.60,211.07 L332.72,211.09 L332.85,211.10 L332.97,211.12 L333.10,211.13 L333.22,211.15 L333.35,211.16 L333.47,211.18 L333.60,211.19 L333.72,211.20 L333.85,211.22 L333.97,211.23 L334.10,211.25 L334.22,211.26 L334.35,211.27 L334.47,211.28 L334.60,211.30 L334.72,211.31 L334.85,211.32 L334.97,211.33 L335.10,211.34 L335.22,211.36 L335.35,211.37 L335.47,211.38 L335.60,211.39 L335.72,211.40 L335.85,211.41 L335.97,211.42 L336.09,211.43 L336.22,211.44 L336.34,211.45 L336.47,211.46 L336.59,211.46 L336.72,211.47 L336.84,211.48 L336.97,211.49 L337.09,211.50 L337.22,211.51 L337.34,211.52 L337.47,211.52 L337.59,211.53 L337.72,211.54 L337.84,211.55 L337.97,211.55 L338.09,211.56 L338.22,211.57 L338.34,211.58 L338.47,211.59 L338.59,211.59 L338.72,211.60 L338.84,211.61 L338.97,211.62 L339.09,211.62 L339.22,211.63 L339.34,211.64 L339.47,211.65 L339.59,211.66 L339.72,211.66 L339.84,211.67 L339.97,211.68 L340.09,211.69 L340.22,211.70 L340.34,211.71 L340.47,211.72 L340.59,211.72 L340.72,211.73 L340.84,211.74 L340.97,211.75 L341.09,211.76 L341.21,211.77 L341.34,211.78 L341.46,211.79 L341.59,211.80 L341.71,211.81 L341.84,211.82 L341.96,211.83 L342.09,211.84 L342.21,211.86 L342.34,211.87 L342.46,211.88 L342.59,211.89 L342.71,211.90 L342.84,211.91 L342.96,211.93 L343.09,211.94 L343.21,211.95 L343.34,211.96 L343.46,211.97 L343.59,211.99 L343.71,212.00 L343.84,212.01 L343.96,212.02 L344.09,212.04 L344.21,212.05 L344.34,212.06 L344.46,212.08 L344.59,212.09 L344.71,212.10 L344.84,212.11 L344.96,212.13 L345.09,212.14 L345.21,212.15 L345.34,212.17 L345.46,212.18 L345.59,212.19 L345.71,212.20 L345.84,212.22 L345.96,212.23 L346.09,212.24 L346.21,212.26 L346.33,212.27 L346.46,212.28 L346.58,212.29 L346.71,212.30 L346.83,212.32 L346.96,212.33 L347.08,212.34 L347.21,212.35 L347.33,212.36 L347.46,212.38 L347.58,212.39 L347.71,212.40 L347.83,212.41 L347.96,212.42 L348.08,212.43 L348.21,212.44 L348.33,212.45 L348.46,212.47 L348.58,212.48 L348.71,212.49 L348.83,212.50 L348.96,212.51 L349.08,212.52 L349.21,212.53 L349.33,212.54 L349.46,212.55 L349.58,212.56 L349.71,212.57 L349.83,212.58 L349.96,212.58 L350.08,212.59 L350.21,212.60 L350.33,212.61 L350.46,212.62 L350.58,212.63 L350.71,212.64 L350.83,212.65 L350.96,212.66 L351.08,212.67 L351.21,212.68 L351.33,212.68 L351.45,212.69 L351.58,212.70 L351.70,212.71 L351.83,212.72 L351.95,212.73 L352.08,212.74 L352.20,212.75 L352.33,212.75 L352.45,212.76 L352.58,212.77 L352.70,212.78 L352.83,212.79 L352.95,212.80 L353.08,212.81 L353.20,212.82 L353.33,212.83 L353.45,212.84 L353.58,212.84 L353.70,212.85 L353.83,212.86 L353.95,212.87 L354.08,212.88 L354.20,212.89 L354.33,212.90 L354.45,212.91 L354.58,212.92 L354.70,212.93 L354.83,212.94 L354.95,212.95 L355.08,212.96 L355.20,212.97 L355.33,212.98 L355.45,212.99 L355.58,213.00 L355.70,213.01 L355.83,213.02 L355.95,213.04 L356.08,213.05 L356.20,213.06 L356.33,213.07 L356.45,213.08 L356.58,213.09 L356.70,213.10 L356.82,213.11 L356.95,213.12 L357.07,213.13 L357.20,213.15 L357.32,213.16 L357.45,213.17 L357.57,213.18 L357.70,213.19 L357.82,213.20 L357.95,213.21 L358.07,213.22 L358.20,213.24 L358.32,213.25 L358.45,213.26 L358.57,213.27 L358.70,213.28 L358.82,213.29 L358.95,213.30 L359.07,213.31 L359.20,213.33 L359.32,213.34 L359.45,213.35 L359.57,213.36 L359.70,213.37 L359.82,213.38 L359.95,213.39 L360.07,213.40 L360.20,213.41 L360.32,213.42 L360.45,213.44 L360.57,213.45 L360.70,213.46 L360.82,213.47 L360.95,213.48 L361.07,213.49 L361.20,213.50 L361.32,213.51 L361.45,213.52 L361.57,213.53 L361.70,213.54 L361.82,213.55 L361.94,213.56 L362.07,213.57 L362.19,213.58 L362.32,213.59 L362.44,213.60 L362.57,213.61 L362.69,213.62 L362.82,213.63 L362.94,213.64 L363.07,213.65 L363.19,213.66 L363.32,213.67 L363.44,213.68 L363.57,213.69 L363.69,213.70 L363.82,213.70 L363.94,213.71 L364.07,213.72 L364.19,213.73 L364.32,213.74 L364.44,213.75 L364.57,213.76 L364.69,213.77 L364.82,213.78 L364.94,213.79 L365.07,213.80 L365.19,213.81 L365.32,213.81 L365.44,213.82 L365.57,213.83 L365.69,213.84 L365.82,213.85 L365.94,213.86 L366.07,213.87 L366.19,213.88 L366.32,213.89 L366.44,213.90 L366.57,213.91 L366.69,213.92 L366.82,213.93 L366.94,213.94 L367.06,213.94 L367.19,213.95 L367.31,213.96 L367.44,213.97 L367.56,213.98 L367.69,213.99 L367.81,214.00 L367.94,214.01 L368.06,214.02 L368.19,214.03 L368.31,214.04 L368.44,214.05 L368.56,214.06 L368.69,214.07 L368.81,214.08 L368.94,214.09 L369.06,214.10 L369.19,214.11 L369.31,214.12 L369.44,214.13 L369.56,214.14 L369.69,214.15 L369.81,214.16 L369.94,214.17 L370.06,214.18 L370.19,214.19 L370.31,214.20 L370.44,214.21 L370.56,214.22 L370.69,214.23 L370.81,214.24 L370.94,214.25 L371.06,214.26 L371.19,214.27 L371.31,214.28 L371.44,214.29 L371.56,214.30 L371.69,214.31 L371.81,214.33 L371.94,214.34 L372.06,214.35 L372.18,214.36 L372.31,214.37 L372.43,214.38 L372.56,214.39 L372.68,214.40 L372.81,214.41 L372.93,214.42 L373.06,214.43 L373.18,214.44 L373.31,214.45 L373.43,214.46 L373.56,214.47 L373.68,214.48 L373.81,214.49 L373.93,214.50 L374.06,214.51 L374.18,214.52 L374.31,214.53 L374.43,214.54 L374.56,214.55 L374.68,214.56 L374.81,214.57 L374.93,214.58 L375.06,214.59 L375.18,214.60 L375.31,214.61 L375.43,214.62 L375.56,214.62 L375.68,214.63 L375.81,214.64 L375.93,214.65 L376.06,214.66 L376.18,214.67 L376.31,214.68 L376.43,214.69 L376.56,214.70 L376.68,214.71 L376.81,214.72 L376.93,214.73 L377.06,214.74 L377.18,214.75 L377.31,214.76 L377.43,214.76 L377.55,214.77 L377.68,214.78 L377.80,214.79 L377.93,214.80 L378.05,214.81 L378.18,214.82 L378.30,214.83 L378.43,214.84 L378.55,214.85 L378.68,214.86 L378.80,214.87 L378.93,214.87 L379.05,214.88 L379.18,214.89 L379.30,214.90 L379.43,214.91 L379.55,214.92 L379.68,214.93 L379.80,214.94 L379.93,214.95 L380.05,214.96 L380.18,214.97 L380.30,214.98 L380.43,214.99 L380.55,214.99 L380.68,215.00 L380.80,215.01 L380.93,215.02 L381.05,215.03 L381.18,215.04 L381.30,215.05 L381.43,215.06 L381.55,215.07 L381.68,215.08 L381.80,215.09 L381.93,215.10 L382.05,215.11 L382.18,215.12 L382.30,215.13 L382.43,215.14 L382.55,215.14 L382.67,215.15 L382.80,215.16 L382.92,215.17 L383.05,215.18 L383.17,215.19 L383.30,215.20 L383.42,215.21 L383.55,215.22 L383.67,215.23 L383.80,215.24 L383.92,215.25 L384.05,215.26 L384.17,215.27 L384.30,215.28 L384.42,215.29 L384.55,215.30 L384.67,215.31 L384.80,215.32 L384.92,215.33 L385.05,215.34 L385.17,215.35 L385.30,215.36 L385.42,215.37 L385.55,215.38 L385.67,215.39 L385.80,215.40 L385.92,215.40 L386.05,215.41 L386.17,215.42 L386.30,215.43 L386.42,215.44 L386.55,215.45 L386.67,215.46 L386.80,215.47 L386.92,215.48 L387.05,215.49 L387.17,215.50 L387.30,215.51 L387.42,215.52 L387.55,215.53 L387.67,215.54 L387.79,215.55 L387.92,215.56 L388.04,215.57 L388.17,215.57 L388.29,215.58 L388.42,215.59 L388.54,215.60 L388.67,215.61 L388.79,215.62 L388.92,215.63 L389.04,215.64 L389.17,215.65 L389.29,215.66 L389.42,215.67 L389.54,215.68 L389.67,215.68 L389.79,215.69 L389.92,215.70 L390.04,215.71 L390.17,215.72 L390.29,215.73 L390.42,215.74 L390.54,215.75 L390.67,215.76 L390.79,215.77 L390.92,215.78 L391.04,215.78 L391.17,215.79 L391.29,215.80 L391.42,215.81 L391.54,215.82 L391.67,215.83 L391.79,215.84 L391.92,215.85 L392.04,215.86 L392.17,215.86 L392.29,215.87 L392.42,215.88 L392.54,215.89 L392.67,215.90 L392.79,215.91 L392.91,215.92 L393.04,215.93 L393.16,215.94 L393.29,215.95 L393.41,215.95 L393.54,215.96 L393.66,215.97 L393.79,215.98 L393.91,215.99 L394.04,216.00 L394.16,216.01 L394.29,216.02 L394.41,216.03 L394.54,216.04 L394.66,216.04 L394.79,216.05 L394.91,216.06 L395.04,216.07 L395.16,216.08 L395.29,216.09 L395.41,216.10 L395.54,216.11 L395.66,216.12 L395.79,216.13 L395.91,216.14 L396.04,216.14 L396.16,216.15 L396.29,216.16 L396.41,216.17 L396.54,216.18 L396.66,216.19 L396.79,216.20 L396.91,216.21 L397.04,216.22 L397.16,216.23 L397.29,216.24 L397.41,216.25 L397.54,216.25 L397.66,216.26 L397.79,216.27 L397.91,216.28 L398.04,216.29 L398.16,216.30 L398.28,216.31 L398.41,216.32 L398.53,216.33 L398.66,216.34 L398.78,216.35 L398.91,216.35 L399.03,216.36 L399.16,216.37 L399.28,216.38 L399.41,216.39 L399.53,216.40 L399.66,216.41 L399.78,216.42 L399.91,216.43 L400.03,216.44 L400.16,216.45 L400.28,216.45 L400.41,216.46 L400.53,216.47 L400.66,216.48 L400.78,216.49 L400.91,216.50 L401.03,216.51 L401.16,216.52 L401.28,216.53 L401.41,216.54 L401.53,216.54 L401.66,216.55 L401.78,216.56 L401.91,216.57 L402.03,216.58 L402.16,216.59 L402.28,216.60 L402.41,216.61 L402.53,216.61 L402.66,216.62 L402.78,216.63 L402.91,216.64 L403.03,216.65 L403.16,216.66 L403.28,216.67 L403.40,216.68 L403.53,216.69 L403.65,216.69 L403.78,216.70 L403.90,216.71 L404.03,216.72 L404.15,216.73 L404.28,216.74 L404.40,216.75 L404.53,216.76 L404.65,216.76 L404.78,216.77 L404.90,216.78 L405.03,216.79 L405.15,216.80 L405.28,216.81 L405.40,216.82 L405.53,216.82 L405.65,216.83 L405.78,216.84 L405.90,216.85 L406.03,216.86 L406.15,216.87 L406.28,216.88 L406.40,216.89 L406.53,216.89 L406.65,216.90 L406.78,216.91 L406.90,216.92 L407.03,216.93 L407.15,216.94 L407.28,216.95 L407.40,216.96 L407.53,216.96 L407.65,216.97 L407.78,216.98 L407.90,216.99 L408.03,217.00 L408.15,217.01 L408.28,217.02 L408.40,217.03" stroke="#7d00ff" stroke-width="1.18"/>
<path d="M180.87,155.16 L180.99,155.26 L181.12,155.36 L181.24,155.47 L181.37,155.58 L181.49,155.69 L181.62,155.80 L181.74,155.92 L181.87,156.04 L181.99,156.16 L182.12,156.29 L182.24,156.42 L182.37,156.55 L182.49,156.69 L182.62,156.83 L182.74,156.97 L182.87,157.11 L182.99,157.26 L183.12,157.41 L183.24,157.55 L183.37,157.70 L183.49,157.85 L183.62,158.00 L183.74,158.15 L183.87,158.30 L183.99,158.45 L184.12,158.59 L184.24,158.74 L184.37,158.88 L184.49,159.02 L184.62,159.15 L184.74,159.29 L184.87,159.41 L184.99,159.54 L185.12,159.66 L185.24,159.78 L185.37,159.89 L185.49,160.00 L185.62,160.10 L185.74,160.20 L185.86,160.30 L185.99,160.39 L186.11,160.48 L186.24,160.57 L186.36,160.65 L186.49,160.73 L186.61,160.81 L186.74,160.89 L186.86,160.97 L186.99,161.05 L187.11,161.13 L187.24,161.20 L187.36,161.28 L187.49,161.36 L187.61,161.45 L187.74,161.53 L187.86,161.62 L187.99,161.71 L188.11,161.80 L188.24,161.90 L188.36,162.00 L188.49,162.11 L188.61,162.22 L188.74,162.33 L188.86,162.45 L188.99,162.57 L189.11,162.70 L189.24,162.83 L189.36,162.97 L189.49,163.11 L189.61,163.25 L189.74,163.40 L189.86,163.55 L189.99,163.70 L190.11,163.86 L190.24,164.02 L190.36,164.18 L190.49,164.34 L190.61,164.50 L190.74,164.67 L190.86,164.83 L190.98,164.99 L191.11,165.15 L191.23,165.30 L191.36,165.46 L191.48,165.61 L191.61,165.76 L191.73,165.90 L191.86,166.04 L191.98,166.17 L192.11,166.30 L192.23,166.42 L192.36,166.53 L192.48,166.64 L192.61,166.75 L192.73,166.85 L192.86,166.94 L192.98,167.03 L193.11,167.11 L193.23,167.19 L193.36,167.26 L193.48,167.33 L193.61,167.40 L193.73,167.47 L193.86,167.53 L193.98,167.59 L194.11,167.66 L194.23,167.72 L194.36,167.78 L194.48,167.85 L194.61,167.92 L194.73,167.99 L194.86,168.06 L194.98,168.14 L195.11,168.22 L195.23,168.31 L195.36,168.40 L195.48,168.49 L195.61,168.60 L195.73,168.70 L195.86,168.82 L195.98,168.94 L196.10,169.06 L196.23,169.20 L196.35,169.34 L196.48,169.48 L196.60,169.63 L196.73,169.78 L196.85,169.94 L196.98,170.11 L197.10,170.28 L197.23,170.45 L197.35,170.63 L197.48,170.80 L197.60,170.98 L197.73,171.16 L197.85,171.34 L197.98,171.52 L198.10,171.70 L198.23,171.88 L198.35,172.05 L198.48,172.22 L198.60,172.38 L198.73,172.54 L198.85,172.69 L198.98,172.83 L199.10,172.97 L199.23,173.10 L199.35,173.22 L199.48,173.34 L199.60,173.44 L199.73,173.54 L199.85,173.63 L199.98,173.71 L200.10,173.79 L200.23,173.86 L200.35,173.92 L200.48,173.97 L200.60,174.02 L200.73,174.07 L200.85,174.12 L200.98,174.16 L201.10,174.20 L201.23,174.24 L201.35,174.29 L201.47,174.33 L201.60,174.38 L201.72,174.43 L201.85,174.48 L201.97,174.54 L202.10,174.60 L202.22,174.67 L202.35,174.75 L202.47,174.83 L202.60,174.93 L202.72,175.02 L202.85,175.13 L202.97,175.25 L203.10,175.37 L203.22,175.50 L203.35,175.64 L203.47,175.79 L203.60,175.94 L203.72,176.11 L203.85,176.28 L203.97,176.45 L204.10,176.64 L204.22,176.83 L204.35,177.02 L204.47,177.22 L204.60,177.42 L204.72,177.62 L204.85,177.83 L204.97,178.03 L205.10,178.24 L205.22,178.44 L205.35,178.64 L205.47,178.83 L205.60,179.02 L205.72,179.21 L205.85,179.38 L205.97,179.54 L206.10,179.70 L206.22,179.85 L206.35,179.98 L206.47,180.10 L206.59,180.21 L206.72,180.31 L206.84,180.40 L206.97,180.47 L207.09,180.54 L207.22,180.59 L207.34,180.64 L207.47,180.68 L207.59,180.71 L207.72,180.73 L207.84,180.75 L207.97,180.76 L208.09,180.78 L208.22,180.79 L208.34,180.80 L208.47,180.82 L208.59,180.83 L208.72,180.86 L208.84,180.88 L208.97,180.91 L209.09,180.95 L209.22,181.00 L209.34,181.05 L209.47,181.12 L209.59,181.19 L209.72,181.28 L209.84,181.37 L209.97,181.48 L210.09,181.59 L210.22,181.72 L210.34,181.86 L210.47,182.01 L210.59,182.17 L210.72,182.34 L210.84,182.52 L210.97,182.71 L211.09,182.91 L211.22,183.12 L211.34,183.34 L211.47,183.56 L211.59,183.79 L211.71,184.03 L211.84,184.26 L211.96,184.51 L212.09,184.75 L212.21,184.99 L212.34,185.22 L212.46,185.46 L212.59,185.68 L212.71,185.90 L212.84,186.11 L212.96,186.31 L213.09,186.49 L213.21,186.66 L213.34,186.82 L213.46,186.95 L213.59,187.08 L213.71,187.18 L213.84,187.27 L213.96,187.34 L214.09,187.39 L214.21,187.43 L214.34,187.45 L214.46,187.47 L214.59,187.47 L214.71,187.46 L214.84,187.44 L214.96,187.42 L215.09,187.39 L215.21,187.36 L215.34,187.33 L215.46,187.31 L215.59,187.28 L215.71,187.26 L215.84,187.25 L215.96,187.25 L216.09,187.25 L216.21,187.26 L216.34,187.29 L216.46,187.32 L216.59,187.37 L216.71,187.43 L216.83,187.51 L216.96,187.60 L217.08,187.70 L217.21,187.82 L217.33,187.95 L217.46,188.10 L217.58,188.26 L217.71,188.44 L217.83,188.63 L217.96,188.84 L218.08,189.06 L218.21,189.29 L218.33,189.53 L218.46,189.79 L218.58,190.05 L218.71,190.33 L218.83,190.61 L218.96,190.90 L219.08,191.19 L219.21,191.48 L219.33,191.77 L219.46,192.05 L219.58,192.34 L219.71,192.61 L219.83,192.87 L219.96,193.12 L220.08,193.35 L220.21,193.56 L220.33,193.75 L220.46,193.92 L220.58,194.06 L220.71,194.18 L220.83,194.28 L220.96,194.34 L221.08,194.39 L221.21,194.41 L221.33,194.40 L221.46,194.38 L221.58,194.34 L221.71,194.29 L221.83,194.22 L221.96,194.14 L222.08,194.06 L222.20,193.98 L222.33,193.89 L222.45,193.81 L222.58,193.72 L222.70,193.65 L222.83,193.58 L222.95,193.53 L223.08,193.48 L223.20,193.45 L223.33,193.43 L223.45,193.42 L223.58,193.44 L223.70,193.47 L223.83,193.51 L223.95,193.58 L224.08,193.66 L224.20,193.76 L224.33,193.88 L224.45,194.03 L224.58,194.19 L224.70,194.37 L224.83,194.57 L224.95,194.78 L225.08,195.02 L225.20,195.28 L225.33,195.55 L225.45,195.84 L225.58,196.15 L225.70,196.47 L225.83,196.80 L225.95,197.14 L226.08,197.49 L226.20,197.85 L226.33,198.21 L226.45,198.58 L226.58,198.94 L226.70,199.29 L226.83,199.63 L226.95,199.96 L227.08,200.26 L227.20,200.55 L227.32,200.80 L227.45,201.02 L227.57,201.21 L227.70,201.36 L227.82,201.47 L227.95,201.54 L228.07,201.57 L228.20,201.57 L228.32,201.53 L228.45,201.46 L228.57,201.37 L228.70,201.25 L228.82,201.11 L228.95,200.96 L229.07,200.80 L229.20,200.64 L229.32,200.47 L229.45,200.30 L229.57,200.14 L229.70,199.99 L229.82,199.85 L229.95,199.72 L230.07,199.61 L230.20,199.51 L230.32,199.44 L230.45,199.38 L230.57,199.34 L230.70,199.33 L230.82,199.33 L230.95,199.36 L231.07,199.42 L231.20,199.49 L231.32,199.60 L231.45,199.72 L231.57,199.87 L231.70,200.05 L231.82,200.25 L231.95,200.48 L232.07,200.73 L232.20,201.00 L232.32,201.31 L232.44,201.63 L232.57,201.98 L232.69,202.34 L232.82,202.73 L232.94,203.14 L233.07,203.57 L233.19,204.01 L233.32,204.46 L233.44,204.92 L233.57,205.38 L233.69,205.85 L233.82,206.30 L233.94,206.75 L234.07,207.17 L234.19,207.56 L234.32,207.92 L234.44,208.24 L234.57,208.51 L234.69,208.72 L234.82,208.87 L234.94,208.97 L235.07,209.00 L235.19,208.97 L235.32,208.89 L235.44,208.76 L235.57,208.58 L235.69,208.37 L235.82,208.13 L235.94,207.87 L236.07,207.60 L236.19,207.32 L236.32,207.04 L236.44,206.77 L236.57,206.50 L236.69,206.24 L236.82,206.01 L236.94,205.79 L237.07,205.59 L237.19,205.41 L237.32,205.26 L237.44,205.13 L237.56,205.03 L237.69,204.96 L237.81,204.91 L237.94,204.90 L238.06,204.91 L238.19,204.95 L238.31,205.02 L238.44,205.12 L238.56,205.25 L238.69,205.42 L238.81,205.61 L238.94,205.84 L239.06,206.09 L239.19,206.38 L239.31,206.70 L239.44,207.05 L239.56,207.43 L239.69,207.84 L239.81,208.28 L239.94,208.75 L240.06,209.25 L240.19,209.78 L240.31,210.33 L240.44,210.90 L240.56,211.49 L240.69,212.09 L240.81,212.69 L240.94,213.29 L241.06,213.88 L241.19,214.44 L241.31,214.97 L241.44,215.45 L241.56,215.86 L241.69,216.19 L241.81,216.44 L241.94,216.59 L242.06,216.64 L242.19,216.60 L242.31,216.46 L242.44,216.24 L242.56,215.96 L242.69,215.62 L242.81,215.23 L242.93,214.82 L243.06,214.39 L243.18,213.96 L243.31,213.53 L243.43,213.11 L243.56,212.70 L243.68,212.32 L243.81,211.96 L243.93,211.62 L244.06,211.32 L244.18,211.04 L244.31,210.80 L244.43,210.59 L244.56,210.42 L244.68,210.27 L244.81,210.17 L244.93,210.09 L245.06,210.05 L245.18,210.05 L245.31,210.08 L245.43,210.15 L245.56,210.25 L245.68,210.38 L245.81,210.56 L245.93,210.77 L246.06,211.01 L246.18,211.30 L246.31,211.62 L246.43,211.98 L246.56,212.38 L246.68,212.81 L246.81,213.29 L246.93,213.81 L247.06,214.36 L247.18,214.95 L247.31,215.58 L247.43,216.25 L247.56,216.95 L247.68,217.68 L247.81,218.44 L247.93,219.21 L248.05,219.99 L248.18,220.77 L248.30,221.51 L248.43,222.22 L248.55,222.85 L248.68,223.39 L248.80,223.81 L248.93,224.09 L249.05,224.21 L249.18,224.18 L249.30,223.99 L249.43,223.67 L249.55,223.25 L249.68,222.73 L249.80,222.16 L249.93,221.56 L250.05,220.94 L250.18,220.31 L250.30,219.70 L250.43,219.11 L250.55,218.55 L250.68,218.02 L250.80,217.52 L250.93,217.07 L251.05,216.65 L251.18,216.27 L251.30,215.94 L251.43,215.64 L251.55,215.38 L251.68,215.17 L251.80,214.99 L251.93,214.86 L252.05,214.76 L252.18,214.71 L252.30,214.69 L252.43,214.71 L252.55,214.77 L252.68,214.87 L252.80,215.01 L252.93,215.19 L253.05,215.42 L253.17,215.68 L253.30,215.98 L253.42,216.33 L253.55,216.71 L253.67,217.15 L253.80,217.62 L253.92,218.14 L254.05,218.71 L254.17,219.33 L254.30,219.99 L254.42,220.70 L254.55,221.45 L254.67,222.25 L254.80,223.10 L254.92,223.98 L255.05,224.89 L255.17,225.81 L255.30,226.74 L255.42,227.65 L255.55,228.50 L255.67,229.26 L255.80,229.90 L255.92,230.37 L256.05,230.63 L256.17,230.68 L256.30,230.51 L256.42,230.14 L256.55,229.61 L256.67,228.96 L256.80,228.24 L256.92,227.46 L257.05,226.67 L257.17,225.89 L257.30,225.12 L257.42,224.39 L257.55,223.70 L257.67,223.05 L257.80,222.44 L257.92,221.88 L258.05,221.37 L258.17,220.91 L258.29,220.49 L258.42,220.12 L258.54,219.80 L258.67,219.52 L258.79,219.29 L258.92,219.09 L259.04,218.95 L259.17,218.84 L259.29,218.77 L259.42,218.75 L259.54,218.77 L259.67,218.82 L259.79,218.92 L259.92,219.06 L260.04,219.24 L260.17,219.47 L260.29,219.73 L260.42,220.04 L260.54,220.39 L260.67,220.78 L260.79,221.22 L260.92,221.70 L261.04,222.23 L261.17,222.81 L261.29,223.43 L261.42,224.11 L261.54,224.82 L261.67,225.59 L261.79,226.40 L261.92,227.25 L262.04,228.13 L262.17,229.04 L262.29,229.97 L262.42,230.88 L262.54,231.76 L262.67,232.58 L262.79,233.29 L262.92,233.85 L263.04,234.23 L263.17,234.40 L263.29,234.35 L263.41,234.09 L263.54,233.64 L263.66,233.06 L263.79,232.36 L263.91,231.60 L264.04,230.81 L264.16,230.01 L264.29,229.23 L264.41,228.47 L264.54,227.74 L264.66,227.06 L264.79,226.41 L264.91,225.82 L265.04,225.27 L265.16,224.77 L265.29,224.32 L265.41,223.91 L265.54,223.55 L265.66,223.23 L265.79,222.96 L265.91,222.73 L266.04,222.54 L266.16,222.39 L266.29,222.29 L266.41,222.22 L266.54,222.20 L266.66,222.21 L266.79,222.27 L266.91,222.36 L267.04,222.50 L267.16,222.67 L267.29,222.88 L267.41,223.13 L267.54,223.42 L267.66,223.75 L267.79,224.13 L267.91,224.54 L268.04,224.99 L268.16,225.48 L268.29,226.02 L268.41,226.59 L268.54,227.20 L268.66,227.85 L268.78,228.53 L268.91,229.24 L269.03,229.97 L269.16,230.72 L269.28,231.48 L269.41,232.22 L269.53,232.94 L269.66,233.60 L269.78,234.19 L269.91,234.69 L270.03,235.05 L270.16,235.28 L270.28,235.34 L270.41,235.25 L270.53,235.02 L270.66,234.65 L270.78,234.19 L270.91,233.64 L271.03,233.04 L271.16,232.41 L271.28,231.76 L271.41,231.12 L271.53,230.49 L271.66,229.88 L271.78,229.30 L271.91,228.75 L272.03,228.24 L272.16,227.76 L272.28,227.32 L272.41,226.92 L272.53,226.57 L272.66,226.25 L272.78,225.96 L272.91,225.72 L273.03,225.52 L273.16,225.35 L273.28,225.22 L273.41,225.13 L273.53,225.07 L273.66,225.05 L273.78,225.07 L273.90,225.12 L274.03,225.21 L274.15,225.33 L274.28,225.48 L274.40,225.68 L274.53,225.90 L274.65,226.16 L274.78,226.45 L274.90,226.78 L275.03,227.14 L275.15,227.53 L275.28,227.95 L275.40,228.40 L275.53,228.88 L275.65,229.39 L275.78,229.91 L275.90,230.45 L276.03,231.01 L276.15,231.57 L276.28,232.13 L276.40,232.67 L276.53,233.19 L276.65,233.68 L276.78,234.11 L276.90,234.48 L277.03,234.78 L277.15,234.98 L277.28,235.10 L277.40,235.11 L277.53,235.03 L277.65,234.86 L277.78,234.61 L277.90,234.30 L278.03,233.92 L278.15,233.51 L278.28,233.06 L278.40,232.60 L278.53,232.13 L278.65,231.67 L278.78,231.21 L278.90,230.77 L279.02,230.34 L279.15,229.94 L279.27,229.57 L279.40,229.22 L279.52,228.90 L279.65,228.61 L279.77,228.35 L279.90,228.12 L280.02,227.92 L280.15,227.75 L280.27,227.62 L280.40,227.51 L280.52,227.44 L280.65,227.40 L280.77,227.38 L280.90,227.40 L281.02,227.45 L281.15,227.52 L281.27,227.63 L281.40,227.77 L281.52,227.93 L281.65,228.12 L281.77,228.34 L281.90,228.58 L282.02,228.85 L282.15,229.15 L282.27,229.47 L282.40,229.80 L282.52,230.16 L282.65,230.53 L282.77,230.92 L282.90,231.32 L283.02,231.72 L283.15,232.12 L283.27,232.52 L283.40,232.91 L283.52,233.28 L283.65,233.62 L283.77,233.93 L283.90,234.20 L284.02,234.43 L284.14,234.60 L284.27,234.72 L284.39,234.78 L284.52,234.78 L284.64,234.72 L284.77,234.60 L284.89,234.44 L285.02,234.23 L285.14,233.99 L285.27,233.71 L285.39,233.41 L285.52,233.10 L285.64,232.78 L285.77,232.45 L285.89,232.13 L286.02,231.81 L286.14,231.50 L286.27,231.21 L286.39,230.93 L286.52,230.67 L286.64,230.42 L286.77,230.20 L286.89,230.01 L287.02,229.83 L287.14,229.68 L287.27,229.55 L287.39,229.45 L287.52,229.37 L287.64,229.31 L287.77,229.28 L287.89,229.28 L288.02,229.30 L288.14,229.34 L288.27,229.41 L288.39,229.50 L288.52,229.61 L288.64,229.74 L288.77,229.90 L288.89,230.08 L289.02,230.27 L289.14,230.49 L289.27,230.72 L289.39,230.96 L289.51,231.22 L289.64,231.49 L289.76,231.77 L289.89,232.05 L290.01,232.34 L290.14,232.63 L290.26,232.91 L290.39,233.19 L290.51,233.45 L290.64,233.70 L290.76,233.92 L290.89,234.12 L291.01,234.29 L291.14,234.43 L291.26,234.54 L291.39,234.61 L291.51,234.64 L291.64,234.63 L291.76,234.59 L291.89,234.52 L292.01,234.41 L292.14,234.27 L292.26,234.11 L292.39,233.93 L292.51,233.74 L292.64,233.53 L292.76,233.31 L292.89,233.09 L293.01,232.86 L293.14,232.64 L293.26,232.42 L293.39,232.22 L293.51,232.02 L293.64,231.83 L293.76,231.65 L293.89,231.49 L294.01,231.35 L294.14,231.22 L294.26,231.11 L294.39,231.02 L294.51,230.94 L294.63,230.89 L294.76,230.85 L294.88,230.83 L295.01,230.84 L295.13,230.86 L295.26,230.89 L295.38,230.95 L295.51,231.02 L295.63,231.11 L295.76,231.22 L295.88,231.34 L296.01,231.48 L296.13,231.63 L296.26,231.80 L296.38,231.97 L296.51,232.16 L296.63,232.35 L296.76,232.55 L296.88,232.75 L297.01,232.96 L297.13,233.16 L297.26,233.37 L297.38,233.56 L297.51,233.75 L297.63,233.93 L297.76,234.10 L297.88,234.25 L298.01,234.38 L298.13,234.49 L298.26,234.58 L298.38,234.65 L298.51,234.69 L298.63,234.71 L298.76,234.70 L298.88,234.68 L299.01,234.63 L299.13,234.56 L299.26,234.47 L299.38,234.36 L299.51,234.24 L299.63,234.11 L299.75,233.97 L299.88,233.83 L300.00,233.68 L300.13,233.53 L300.25,233.38 L300.38,233.23 L300.50,233.08 L300.63,232.94 L300.75,232.81 L300.88,232.69 L301.00,232.58 L301.13,232.48 L301.25,232.39 L301.38,232.31 L301.50,232.25 L301.63,232.20 L301.75,232.16 L301.88,232.14 L302.00,232.13 L302.13,232.14 L302.25,232.16 L302.38,232.19 L302.50,232.24 L302.63,232.30 L302.75,232.37 L302.88,232.45 L303.00,232.55 L303.13,232.65 L303.25,232.77 L303.38,232.89 L303.50,233.02 L303.63,233.16 L303.75,233.30 L303.88,233.45 L304.00,233.59 L304.13,233.74 L304.25,233.89 L304.38,234.03 L304.50,234.17 L304.63,234.30 L304.75,234.42 L304.87,234.53 L305.00,234.63 L305.12,234.72 L305.25,234.80 L305.37,234.86 L305.50,234.90 L305.62,234.93 L305.75,234.95 L305.87,234.94 L306.00,234.93 L306.12,234.89 L306.25,234.85 L306.37,234.79 L306.50,234.72 L306.62,234.64 L306.75,234.56 L306.87,234.47 L307.00,234.37 L307.12,234.27 L307.25,234.17 L307.37,234.07 L307.50,233.97 L307.62,233.87 L307.75,233.77 L307.87,233.68 L308.00,233.60 L308.12,233.53 L308.25,233.46 L308.37,233.40 L308.50,233.35 L308.62,233.30 L308.75,233.27 L308.87,233.25 L309.00,233.24 L309.12,233.24 L309.25,233.25 L309.37,233.26 L309.50,233.29 L309.62,233.33 L309.75,233.38 L309.87,233.44 L310.00,233.50 L310.12,233.58 L310.24,233.66 L310.37,233.74 L310.49,233.84 L310.62,233.93 L310.74,234.03 L310.87,234.14 L310.99,234.24 L311.12,234.35 L311.24,234.46 L311.37,234.56 L311.49,234.66 L311.62,234.76 L311.74,234.85 L311.87,234.93 L311.99,235.01 L312.12,235.08 L312.24,235.14 L312.37,235.20 L312.49,235.24 L312.62,235.27 L312.74,235.29 L312.87,235.30 L312.99,235.30 L313.12,235.29 L313.24,235.27 L313.37,235.24 L313.49,235.21 L313.62,235.16 L313.74,235.11 L313.87,235.06 L313.99,235.00 L314.12,234.93 L314.24,234.87 L314.37,234.80 L314.49,234.73 L314.62,234.67 L314.74,234.60 L314.87,234.54 L314.99,234.48 L315.12,234.43 L315.24,234.38 L315.36,234.33 L315.49,234.29 L315.61,234.26 L315.74,234.23 L315.86,234.22 L315.99,234.20 L316.11,234.20 L316.24,234.20 L316.36,234.21 L316.49,234.23 L316.61,234.26 L316.74,234.29 L316.86,234.33 L316.99,234.37 L317.11,234.42 L317.24,234.48 L317.36,234.54 L317.49,234.61 L317.61,234.68 L317.74,234.75 L317.86,234.82 L317.99,234.90 L318.11,234.98 L318.24,235.05 L318.36,235.13 L318.49,235.20 L318.61,235.28 L318.74,235.35 L318.86,235.41 L318.99,235.47 L319.11,235.53 L319.24,235.58 L319.36,235.62 L319.49,235.66 L319.61,235.69 L319.74,235.71 L319.86,235.73 L319.99,235.74 L320.11,235.74 L320.24,235.74 L320.36,235.73 L320.48,235.71 L320.61,235.69 L320.73,235.66 L320.86,235.63 L320.98,235.59 L321.11,235.56 L321.23,235.51 L321.36,235.47 L321.48,235.43 L321.61,235.39 L321.73,235.34 L321.86,235.30 L321.98,235.26 L322.11,235.22 L322.23,235.19 L322.36,235.16 L322.48,235.13 L322.61,235.11 L322.73,235.09 L322.86,235.07 L322.98,235.06 L323.11,235.06 L323.23,235.06 L323.36,235.07 L323.48,235.08 L323.61,235.09 L323.73,235.12 L323.86,235.14 L323.98,235.17 L324.11,235.21 L324.23,235.25 L324.36,235.29 L324.48,235.34 L324.61,235.39 L324.73,235.44 L324.86,235.50 L324.98,235.55 L325.11,235.61 L325.23,235.67 L325.36,235.72 L325.48,235.78 L325.60,235.83 L325.73,235.89 L325.85,235.94 L325.98,235.98 L326.10,236.03 L326.23,236.07 L326.35,236.11 L326.48,236.14 L326.60,236.17 L326.73,236.19 L326.85,236.21 L326.98,236.22 L327.10,236.23 L327.23,236.24 L327.35,236.24 L327.48,236.23 L327.60,236.22 L327.73,236.21 L327.85,236.19 L327.98,236.17 L328.10,236.15 L328.23,236.13 L328.35,236.10 L328.48,236.08 L328.60,236.05 L328.73,236.02 L328.85,236.00 L328.98,235.97 L329.10,235.95 L329.23,235.93 L329.35,235.90 L329.48,235.89 L329.60,235.87 L329.73,235.86 L329.85,235.85 L329.98,235.84 L330.10,235.84 L330.23,235.84 L330.35,235.84 L330.48,235.85 L330.60,235.86 L330.73,235.88 L330.85,235.90 L330.97,235.92 L331.10,235.95 L331.22,235.98 L331.35,236.01 L331.47,236.04 L331.60,236.08 L331.72,236.12 L331.85,236.16 L331.97,236.20 L332.10,236.24 L332.22,236.28 L332.35,236.32 L332.47,236.37 L332.60,236.41 L332.72,236.45 L332.85,236.49 L332.97,236.53 L333.10,236.56 L333.22,236.60 L333.35,236.63 L333.47,236.66 L333.60,236.68 L333.72,236.70 L333.85,236.72 L333.97,236.74 L334.10,236.75 L334.22,236.76 L334.35,236.76 L334.47,236.76 L334.60,236.76 L334.72,236.76 L334.85,236.75 L334.97,236.75 L335.10,236.74 L335.22,236.72 L335.35,236.71 L335.47,236.70 L335.60,236.68 L335.72,236.67 L335.85,236.65 L335.97,236.64 L336.09,236.62 L336.22,236.61 L336.34,236.60 L336.47,236.58 L336.59,236.58 L336.72,236.57 L336.84,236.56 L336.97,236.56 L337.09,236.56 L337.22,236.56 L337.34,236.56 L337.47,236.57 L337.59,236.58 L337.72,236.59 L337.84,236.61 L337.97,236.62 L338.09,236.64 L338.22,236.66 L338.34,236.69 L338.47,236.71 L338.59,236.74 L338.72,236.77 L338.84,236.80 L338.97,236.83 L339.09,236.86 L339.22,236.89 L339.34,236.93 L339.47,236.96 L339.59,236.99 L339.72,237.02 L339.84,237.06 L339.97,237.09 L340.09,237.11 L340.22,237.14 L340.34,237.17 L340.47,237.19 L340.59,237.21 L340.72,237.23 L340.84,237.25 L340.97,237.27 L341.09,237.28 L341.21,237.29 L341.34,237.30 L341.46,237.31 L341.59,237.31 L341.71,237.31 L341.84,237.31 L341.96,237.31 L342.09,237.31 L342.21,237.31 L342.34,237.30 L342.46,237.30 L342.59,237.29 L342.71,237.28 L342.84,237.27 L342.96,237.27 L343.09,237.26 L343.21,237.25 L343.34,237.25 L343.46,237.24 L343.59,237.24 L343.71,237.23 L343.84,237.23 L343.96,237.23 L344.09,237.23 L344.21,237.23 L344.34,237.24 L344.46,237.24 L344.59,237.25 L344.71,237.26 L344.84,237.27 L344.96,237.29 L345.09,237.30 L345.21,237.32 L345.34,237.34 L345.46,237.36 L345.59,237.38 L345.71,237.40 L345.84,237.42 L345.96,237.45 L346.09,237.47 L346.21,237.50 L346.33,237.52 L346.46,237.55 L346.58,237.57 L346.71,237.60 L346.83,237.63 L346.96,237.65 L347.08,237.67 L347.21,237.70 L347.33,237.72 L347.46,237.74 L347.58,237.76 L347.71,237.78 L347.83,237.79 L347.96,237.81 L348.08,237.82 L348.21,237.83 L348.33,237.84 L348.46,237.85 L348.58,237.86 L348.71,237.87 L348.83,237.87 L348.96,237.87 L349.08,237.88 L349.21,237.88 L349.33,237.88 L349.46,237.88 L349.58,237.88 L349.71,237.87 L349.83,237.87 L349.96,237.87 L350.08,237.87 L350.21,237.87 L350.33,237.86 L350.46,237.86 L350.58,237.86 L350.71,237.86 L350.83,237.86 L350.96,237.86 L351.08,237.87 L351.21,237.87 L351.33,237.88 L351.45,237.88 L351.58,237.89 L351.70,237.90 L351.83,237.91 L351.95,237.92 L352.08,237.93 L352.20,237.95 L352.33,237.96 L352.45,237.98 L352.58,237.99 L352.70,238.01 L352.83,238.03 L352.95,238.05 L353.08,238.07 L353.20,238.09 L353.33,238.11 L353.45,238.13 L353.58,238.15 L353.70,238.17 L353.83,238.19 L353.95,238.21 L354.08,238.23 L354.20,238.25 L354.33,238.27 L354.45,238.29 L354.58,238.31 L354.70,238.32 L354.83,238.34 L354.95,238.35 L355.08,238.37 L355.20,238.38 L355.33,238.39 L355.45,238.40 L355.58,238.41 L355.70,238.42 L355.83,238.42 L355.95,238.43 L356.08,238.43 L356.20,238.44 L356.33,238.44 L356.45,238.44 L356.58,238.45 L356.70,238.45 L356.82,238.45 L356.95,238.45 L357.07,238.45 L357.20,238.46 L357.32,238.46 L357.45,238.46 L357.57,238.46 L357.70,238.46 L357.82,238.47 L357.95,238.47 L358.07,238.47 L358.20,238.48 L358.32,238.49 L358.45,238.49 L358.57,238.50 L358.70,238.51 L358.82,238.52 L358.95,238.53 L359.07,238.54 L359.20,238.55 L359.32,238.56 L359.45,238.58 L359.57,238.59 L359.70,238.60 L359.82,238.62 L359.95,238.64 L360.07,238.65 L360.20,238.67 L360.32,238.69 L360.45,238.70 L360.57,238.72 L360.70,238.74 L360.82,238.76 L360.95,238.77 L361.07,238.79 L361.20,238.81 L361.32,238.82 L361.45,238.84 L361.57,238.85 L361.70,238.87 L361.82,238.88 L361.94,238.90 L362.07,238.91 L362.19,238.92 L362.32,238.93 L362.44,238.94 L362.57,238.95 L362.69,238.96 L362.82,238.97 L362.94,238.98 L363.07,238.98 L363.19,238.99 L363.32,239.00 L363.44,239.00 L363.57,239.01 L363.69,239.01 L363.82,239.01 L363.94,239.02 L364.07,239.02 L364.19,239.03 L364.32,239.03 L364.44,239.03 L364.57,239.04 L364.69,239.04 L364.82,239.05 L364.94,239.05 L365.07,239.06 L365.19,239.06 L365.32,239.07 L365.44,239.08 L365.57,239.09 L365.69,239.09 L365.82,239.10 L365.94,239.11 L366.07,239.12 L366.19,239.13 L366.32,239.14 L366.44,239.16 L366.57,239.17 L366.69,239.18 L366.82,239.19 L366.94,239.21 L367.06,239.22 L367.19,239.24 L367.31,239.25 L367.44,239.26 L367.56,239.28 L367.69,239.29 L367.81,239.31 L367.94,239.32 L368.06,239.34 L368.19,239.35 L368.31,239.37 L368.44,239.38 L368.56,239.40 L368.69,239.41 L368.81,239.42 L368.94,239.43 L369.06,239.45 L369.19,239.46 L369.31,239.47 L369.44,239.48 L369.56,239.49 L369.69,239.50 L369.81,239.51 L369.94,239.52 L370.06,239.52 L370.19,239.53 L370.31,239.54 L370.44,239.55 L370.56,239.55 L370.69,239.56 L370.81,239.56 L370.94,239.57 L371.06,239.58 L371.19,239.58 L371.31,239.59 L371.44,239.59 L371.56,239.60 L371.69,239.60 L371.81,239.61 L371.94,239.62 L372.06,239.62 L372.18,239.63 L372.31,239.64 L372.43,239.64 L372.56,239.65 L372.68,239.66 L372.81,239.67 L372.93,239.68 L373.06,239.69 L373.18,239.70 L373.31,239.71 L373.43,239.72 L373.56,239.73 L373.68,239.74 L373.81,239.75 L373.93,239.76 L374.06,239.78 L374.18,239.79 L374.31,239.80 L374.43,239.81 L374.56,239.83 L374.68,239.84 L374.81,239.85 L374.93,239.87 L375.06,239.88 L375.18,239.89 L375.31,239.91 L375.43,239.92 L375.56,239.93 L375.68,239.94 L375.81,239.95 L375.93,239.97 L376.06,239.98 L376.18,239.99 L376.31,240.00 L376.43,240.01 L376.56,240.02 L376.68,240.03 L376.81,240.04 L376.93,240.05 L377.06,240.06 L377.18,240.06 L377.31,240.07 L377.43,240.08 L377.55,240.09 L377.68,240.10 L377.80,240.10 L377.93,240.11 L378.05,240.12 L378.18,240.12 L378.30,240.13 L378.43,240.14 L378.55,240.14 L378.68,240.15 L378.80,240.16 L378.93,240.16 L379.05,240.17 L379.18,240.18 L379.30,240.19 L379.43,240.19 L379.55,240.20 L379.68,240.21 L379.80,240.22 L379.93,240.23 L380.05,240.24 L380.18,240.24 L380.30,240.25 L380.43,240.26 L380.55,240.27 L380.68,240.28 L380.80,240.30 L380.93,240.31 L381.05,240.32 L381.18,240.33 L381.30,240.34 L381.43,240.35 L381.55,240.36 L381.68,240.38 L381.80,240.39 L381.93,240.40 L382.05,240.41 L382.18,240.42 L382.30,240.43 L382.43,240.45 L382.55,240.46 L382.67,240.47 L382.80,240.48 L382.92,240.49 L383.05,240.50 L383.17,240.51 L383.30,240.52 L383.42,240.53 L383.55,240.54 L383.67,240.55 L383.80,240.56 L383.92,240.57 L384.05,240.58 L384.17,240.59 L384.30,240.60 L384.42,240.61 L384.55,240.61 L384.67,240.62 L384.80,240.63 L384.92,240.64 L385.05,240.64 L385.17,240.65 L385.30,240.66 L385.42,240.67 L385.55,240.67 L385.67,240.68 L385.80,240.69 L385.92,240.70 L386.05,240.70 L386.17,240.71 L386.30,240.72 L386.42,240.73 L386.55,240.73 L386.67,240.74 L386.80,240.75 L386.92,240.76 L387.05,240.77 L387.17,240.78 L387.30,240.79 L387.42,240.80 L387.55,240.81 L387.67,240.82 L387.79,240.83 L387.92,240.84 L388.04,240.85 L388.17,240.86 L388.29,240.87 L388.42,240.88 L388.54,240.89 L388.67,240.90 L388.79,240.91 L388.92,240.92 L389.04,240.93 L389.17,240.94 L389.29,240.95 L389.42,240.96 L389.54,240.98 L389.67,240.99 L389.79,241.00 L389.92,241.01 L390.04,241.02 L390.17,241.03 L390.29,241.04 L390.42,241.05 L390.54,241.06 L390.67,241.07 L390.79,241.08 L390.92,241.08 L391.04,241.09 L391.17,241.10 L391.29,241.11 L391.42,241.12 L391.54,241.13 L391.67,241.14 L391.79,241.14 L391.92,241.15 L392.04,241.16 L392.17,241.17 L392.29,241.18 L392.42,241.18 L392.54,241.19 L392.67,241.20 L392.79,241.21 L392.91,241.22 L393.04,241.22 L393.16,241.23 L393.29,241.24 L393.41,241.25 L393.54,241.26 L393.66,241.26 L393.79,241.27 L393.91,241.28 L394.04,241.29 L394.16,241.30 L394.29,241.31 L394.41,241.32 L394.54,241.33 L394.66,241.33 L394.79,241.34 L394.91,241.35 L395.04,241.36 L395.16,241.37 L395.29,241.38 L395.41,241.39 L395.54,241.40 L395.66,241.41 L395.79,241.42 L395.91,241.43 L396.04,241.44 L396.16,241.45 L396.29,241.46 L396.41,241.47 L396.54,241.48 L396.66,241.49 L396.79,241.50 L396.91,241.51 L397.04,241.52 L397.16,241.53 L397.29,241.54 L397.41,241.55 L397.54,241.56 L397.66,241.57 L397.79,241.58 L397.91,241.59 L398.04,241.60 L398.16,241.61 L398.28,241.62 L398.41,241.62 L398.53,241.63 L398.66,241.64 L398.78,241.65 L398.91,241.66 L399.03,241.67 L399.16,241.67 L399.28,241.68 L399.41,241.69 L399.53,241.70 L399.66,241.71 L399.78,241.71 L399.91,241.72 L400.03,241.73 L400.16,241.74 L400.28,241.75 L400.41,241.76 L400.53,241.76 L400.66,241.77 L400.78,241.78 L400.91,241.79 L401.03,241.80 L401.16,241.81 L401.28,241.81 L401.41,241.82 L401.53,241.83 L401.66,241.84 L401.78,241.85 L401.91,241.86 L402.03,241.87 L402.16,241.88 L402.28,241.89 L402.41,241.90 L402.53,241.91 L402.66,241.92 L402.78,241.93 L402.91,241.94 L403.03,241.94 L403.16,241.95 L403.28,241.96 L403.40,241.97 L403.53,241.98 L403.65,241.99 L403.78,242.00 L403.90,242.01 L404.03,242.02 L404.15,242.03 L404.28,242.04 L404.40,242.05 L404.53,242.06 L404.65,242.07 L404.78,242.08 L404.90,242.09 L405.03,242.09 L405.15,242.10 L405.28,242.11 L405.40,242.12 L405.53,242.13 L405.65,242.14 L405.78,242.15 L405.90,242.15 L406.03,242.16 L406.15,242.17 L406.28,242.18 L406.40,242.19 L406.53,242.20 L406.65,242.20 L406.78,242.21 L406.90,242.22 L407.03,242.23 L407.15,242.24 L407.28,242.24 L407.40,242.25 L407.53,242.26 L407.65,242.27 L407.78,242.28 L407.90,242.29 L408.03,242.29 L408.15,242.30 L408.28,242.31 L408.40,242.32" stroke="#ff007f" stroke-width="1.18"/>
<path d="M58.30,39.20 L58.74,39.72 L58.86,39.85 L58.99,39.98 L59.11,40.12 L59.24,40.26 L59.36,40.42 L59.49,40.58 L59.61,40.74 L59.74,40.91 L59.86,41.09 L59.99,41.27 L60.11,41.45 L60.24,41.64 L60.36,41.82 L60.49,42.01 L60.61,42.20 L60.74,42.39 L60.86,42.58 L60.99,42.77 L61.11,42.95 L61.24,43.13 L61.36,43.31 L61.48,43.49 L61.61,43.67 L61.73,43.84 L61.86,44.01 L61.98,44.17 L62.11,44.33 L62.23,44.49 L62.36,44.64 L62.48,44.79 L62.61,44.94 L62.73,45.09 L62.86,45.23 L62.98,45.37 L63.11,45.51 L63.23,45.64 L63.36,45.78 L63.48,45.91 L63.61,46.04 L63.73,46.17 L63.86,46.29 L63.98,46.42 L64.11,46.55 L64.23,46.67 L64.36,46.79 L64.48,46.92 L64.61,47.04 L64.73,47.16 L64.86,47.28 L64.98,47.40 L65.11,47.52 L65.23,47.64 L65.36,47.76 L65.48,47.88 L65.61,48.00 L65.73,48.12 L65.86,48.24 L65.98,48.35 L66.11,48.47 L66.23,48.59 L66.36,48.71 L66.48,48.82 L66.61,48.94 L66.73,49.05 L66.85,49.17 L66.98,49.29 L67.10,49.40 L67.23,49.52 L67.35,49.63 L67.48,49.75 L67.60,49.86 L67.73,49.98 L67.85,50.10 L67.98,50.21 L68.10,50.33 L68.23,50.44 L68.35,50.56 L68.48,50.68 L68.60,50.79 L68.73,50.91 L68.85,51.03 L68.98,51.14 L69.10,51.26 L69.23,51.38 L69.35,51.50 L69.48,51.61 L69.60,51.73 L69.73,51.85 L69.85,51.96 L69.98,52.08 L70.10,52.20 L70.23,52.31 L70.35,52.43 L70.48,52.55 L70.60,52.66 L70.73,52.78 L70.85,52.89 L70.98,53.01 L71.10,53.13 L71.23,53.24 L71.35,53.36 L71.48,53.47 L71.60,53.59 L71.73,53.71 L71.85,53.82 L71.97,53.94 L72.10,54.05 L72.22,54.17 L72.35,54.29 L72.47,54.40 L72.60,54.52 L72.72,54.64 L72.85,54.75 L72.97,54.87 L73.10,54.99 L73.22,55.10 L73.35,55.22 L73.47,55.34 L73.60,55.45 L73.72,55.57 L73.85,55.69 L73.97,55.80 L74.10,55.92 L74.22,56.04 L74.35,56.15 L74.47,56.27 L74.60,56.39 L74.72,56.50 L74.85,56.62 L74.97,56.74 L75.10,56.85 L75.22,56.97 L75.35,57.08 L75.47,57.20 L75.60,57.31 L75.72,57.43 L75.85,57.55 L75.97,57.66 L76.10,57.78 L76.22,57.89 L76.35,58.01 L76.47,58.13 L76.60,58.24 L76.72,58.36 L76.85,58.48 L76.97,58.59 L77.09,58.71 L77.22,58.83 L77.34,58.94 L77.47,59.06 L77.59,59.18 L77.72,59.29 L77.84,59.41 L77.97,59.53 L78.09,59.64 L78.22,59.76 L78.34,59.88 L78.47,59.99 L78.59,60.11 L78.72,60.23 L78.84,60.34 L78.97,60.46 L79.09,60.58 L79.22,60.69 L79.34,60.81 L79.47,60.92 L79.59,61.04 L79.72,61.16 L79.84,61.27 L79.97,61.39 L80.09,61.50 L80.22,61.62 L80.34,61.74 L80.47,61.85 L80.59,61.97 L80.72,62.08 L80.84,62.20 L80.97,62.32 L81.09,62.43 L81.22,62.55 L81.34,62.67 L81.47,62.78 L81.59,62.90 L81.72,63.02 L81.84,63.13 L81.97,63.25 L82.09,63.37 L82.21,63.49 L82.34,63.60 L82.46,63.72 L82.59,63.84 L82.71,63.95 L82.84,64.07 L82.96,64.18 L83.09,64.30 L83.21,64.42 L83.34,64.53 L83.46,64.65 L83.59,64.76 L83.71,64.88 L83.84,65.00 L83.96,65.11 L84.09,65.23 L84.21,65.34 L84.34,65.46 L84.46,65.58 L84.59,65.69 L84.71,65.81 L84.84,65.92 L84.96,66.04 L85.09,66.16 L85.21,66.27 L85.34,66.39 L85.46,66.51 L85.59,66.62 L85.71,66.74 L85.84,66.86 L85.96,66.98 L86.09,67.09 L86.21,67.21 L86.34,67.33 L86.46,67.44 L86.59,67.56 L86.71,67.68 L86.84,67.79 L86.96,67.91 L87.09,68.02 L87.21,68.14 L87.34,68.26 L87.46,68.37 L87.58,68.49 L87.71,68.60 L87.83,68.72 L87.96,68.84 L88.08,68.95 L88.21,69.07 L88.33,69.18 L88.46,69.30 L88.58,69.42 L88.71,69.53 L88.83,69.65 L88.96,69.77 L89.08,69.88 L89.21,70.00 L89.33,70.12 L89.46,70.23 L89.58,70.35 L89.71,70.47 L89.83,70.58 L89.96,70.70 L90.08,70.82 L90.21,70.93 L90.33,71.05 L90.46,71.17 L90.58,71.28 L90.71,71.40 L90.83,71.52 L90.96,71.63 L91.08,71.75 L91.21,71.87 L91.33,71.98 L91.46,72.10 L91.58,72.21 L91.71,72.33 L91.83,72.45 L91.96,72.56 L92.08,72.68 L92.21,72.79 L92.33,72.91 L92.46,73.03 L92.58,73.14 L92.70,73.26 L92.83,73.37 L92.95,73.49 L93.08,73.61 L93.20,73.72 L93.33,73.84 L93.45,73.96 L93.58,74.07 L93.70,74.19 L93.83,74.31 L93.95,74.42 L94.08,74.54 L94.20,74.66 L94.33,74.77 L94.45,74.89 L94.58,75.01 L94.70,75.12 L94.83,75.24 L94.95,75.36 L95.08,75.47 L95.20,75.59 L95.33,75.71 L95.45,75.82 L95.58,75.94 L95.70,76.05 L95.83,76.17 L95.95,76.29 L96.08,76.40 L96.20,76.52 L96.33,76.63 L96.45,76.75 L96.58,76.87 L96.70,76.98 L96.83,77.10 L96.95,77.21 L97.08,77.33 L97.20,77.45 L97.33,77.56 L97.45,77.68 L97.58,77.80 L97.70,77.91 L97.82,78.03 L97.95,78.15 L98.07,78.26 L98.20,78.38 L98.32,78.50 L98.45,78.61 L98.57,78.73 L98.70,78.85 L98.82,78.96 L98.95,79.08 L99.07,79.20 L99.20,79.31 L99.32,79.43 L99.45,79.55 L99.57,79.66 L99.70,79.78 L99.82,79.90 L99.95,80.01 L100.07,80.13 L100.20,80.24 L100.32,80.36 L100.45,80.47 L100.57,80.59 L100.70,80.71 L100.82,80.82 L100.95,80.94 L101.07,81.05 L101.20,81.17 L101.32,81.29 L101.45,81.40 L101.57,81.52 L101.70,81.64 L101.82,81.75 L101.95,81.87 L102.07,81.99 L102.20,82.10 L102.32,82.22 L102.45,82.34 L102.57,82.45 L102.70,82.57 L102.82,82.69 L102.94,82.81 L103.07,82.92 L103.19,83.04 L103.32,83.16 L103.44,83.27 L103.57,83.39 L103.69,83.50 L103.82,83.62 L103.94,83.74 L104.07,83.85 L104.19,83.97 L104.32,84.08 L104.44,84.20 L104.57,84.32 L104.69,84.43 L104.82,84.55 L104.94,84.66 L105.07,84.78 L105.19,84.89 L105.32,85.01 L105.44,85.13 L105.57,85.24 L105.69,85.36 L105.82,85.48 L105.94,85.59 L106.07,85.71 L106.19,85.83 L106.32,85.94 L106.44,86.06 L106.57,86.18 L106.69,86.30 L106.82,86.41 L106.94,86.53 L107.07,86.65 L107.19,86.76 L107.32,86.88 L107.44,87.00 L107.57,87.11 L107.69,87.23 L107.82,87.35 L107.94,87.46 L108.06,87.58 L108.19,87.69 L108.31,87.81 L108.44,87.92 L108.56,88.04 L108.69,88.16 L108.81,88.27 L108.94,88.39 L109.06,88.50 L109.19,88.62 L109.31,88.74 L109.44,88.85 L109.56,88.97 L109.69,89.08 L109.81,89.20 L109.94,89.32 L110.06,89.43 L110.19,89.55 L110.31,89.67 L110.44,89.78 L110.56,89.90 L110.69,90.02 L110.81,90.14 L110.94,90.25 L111.06,90.37 L111.19,90.49 L111.31,90.60 L111.44,90.72 L111.56,90.84 L111.69,90.95 L111.81,91.07 L111.94,91.19 L112.06,91.30 L112.19,91.42 L112.31,91.53 L112.44,91.65 L112.56,91.77 L112.69,91.88 L112.81,92.00 L112.94,92.11 L113.06,92.23 L113.19,92.34 L113.31,92.46 L113.43,92.58 L113.56,92.69 L113.68,92.81 L113.81,92.92 L113.93,93.04 L114.06,93.16 L114.18,93.27 L114.31,93.39 L114.43,93.51 L114.56,93.62 L114.68,93.74 L114.81,93.86 L114.93,93.98 L115.06,94.09 L115.18,94.21 L115.31,94.33 L115.43,94.45 L115.56,94.56 L115.68,94.68 L115.81,94.80 L115.93,94.91 L116.06,95.03 L116.18,95.14 L116.31,95.26 L116.43,95.38 L116.56,95.49 L116.68,95.61 L116.81,95.72 L116.93,95.84 L117.06,95.95 L117.18,96.07 L117.31,96.18 L117.43,96.30 L117.56,96.42 L117.68,96.53 L117.81,96.65 L117.93,96.76 L118.06,96.88 L118.18,97.00 L118.31,97.11 L118.43,97.23 L118.55,97.35 L118.68,97.47 L118.80,97.58 L118.93,97.70 L119.05,97.82 L119.18,97.93 L119.30,98.05 L119.43,98.17 L119.55,98.29 L119.68,98.40 L119.80,98.52 L119.93,98.64 L120.05,98.75 L120.18,98.87 L120.30,98.99 L120.43,99.10 L120.55,99.22 L120.68,99.33 L120.80,99.45 L120.93,99.56 L121.05,99.68 L121.18,99.79 L121.30,99.91 L121.43,100.02 L121.55,100.14 L121.68,100.26 L121.80,100.37 L121.93,100.49 L122.05,100.60 L122.18,100.72 L122.30,100.84 L122.43,100.95 L122.55,101.07 L122.68,101.19 L122.80,101.31 L122.93,101.42 L123.05,101.54 L123.18,101.66 L123.30,101.78 L123.43,101.89 L123.55,102.01 L123.67,102.13 L123.80,102.24 L123.92,102.36 L124.05,102.48 L124.17,102.59 L124.30,102.71 L124.42,102.83 L124.55,102.94 L124.67,103.06 L124.80,103.17 L124.92,103.29 L125.05,103.40 L125.17,103.52 L125.30,103.63 L125.42,103.75 L125.55,103.86 L125.67,103.98 L125.80,104.10 L125.92,104.21 L126.05,104.33 L126.17,104.44 L126.30,104.56 L126.42,104.68 L126.55,104.79 L126.67,104.91 L126.80,105.03 L126.92,105.15 L127.05,105.26 L127.17,105.38 L127.30,105.50 L127.42,105.62 L127.55,105.73 L127.67,105.85 L127.80,105.97 L127.92,106.09 L128.05,106.20 L128.17,106.32 L128.30,106.44 L128.42,106.55 L128.55,106.67 L128.67,106.78 L128.79,106.90 L128.92,107.01 L129.04,107.13 L129.17,107.25 L129.29,107.36 L129.42,107.48 L129.54,107.59 L129.67,107.71 L129.79,107.82 L129.92,107.94 L130.04,108.05 L130.17,108.17 L130.29,108.28 L130.42,108.40 L130.54,108.52 L130.67,108.63 L130.79,108.75 L130.92,108.87 L131.04,108.98 L131.17,109.10 L131.29,109.22 L131.42,109.34 L131.54,109.46 L131.67,109.57 L131.79,109.69 L131.92,109.81 L132.04,109.93 L132.17,110.04 L132.29,110.16 L132.42,110.28 L132.54,110.39 L132.67,110.51 L132.79,110.63 L132.92,110.74 L133.04,110.86 L133.17,110.97 L133.29,111.09 L133.42,111.20 L133.54,111.32 L133.67,111.43 L133.79,111.55 L133.92,111.66 L134.04,111.78 L134.16,111.89 L134.29,112.01 L134.41,112.12 L134.54,112.24 L134.66,112.36 L134.79,112.47 L134.91,112.59 L135.04,112.71 L135.16,112.82 L135.29,112.94 L135.41,113.06 L135.54,113.18 L135.66,113.30 L135.79,113.42 L135.91,113.53 L136.04,113.65 L136.16,113.77 L136.29,113.89 L136.41,114.00 L136.54,114.12 L136.66,114.24 L136.79,114.35 L136.91,114.47 L137.04,114.58 L137.16,114.70 L137.29,114.81 L137.41,114.93 L137.54,115.04 L137.66,115.16 L137.79,115.27 L137.91,115.39 L138.04,115.50 L138.16,115.62 L138.29,115.73 L138.41,115.85 L138.54,115.96 L138.66,116.08 L138.79,116.19 L138.91,116.31 L139.04,116.43 L139.16,116.55 L139.28,116.66 L139.41,116.78 L139.53,116.90 L139.66,117.02 L139.78,117.14 L139.91,117.26 L140.03,117.37 L140.16,117.49 L140.28,117.61 L140.41,117.73 L140.53,117.85 L140.66,117.96 L140.78,118.08 L140.91,118.19 L141.03,118.31 L141.16,118.43 L141.28,118.54 L141.41,118.66 L141.53,118.77 L141.66,118.88 L141.78,119.00 L141.91,119.11 L142.03,119.23 L142.16,119.34 L142.28,119.45 L142.41,119.57 L142.53,119.68 L142.66,119.80 L142.78,119.92 L142.91,120.03 L143.03,120.15 L143.16,120.27 L143.28,120.39 L143.41,120.50 L143.53,120.62 L143.66,120.74 L143.78,120.86 L143.91,120.98 L144.03,121.10 L144.16,121.22 L144.28,121.33 L144.40,121.45 L144.53,121.57 L144.65,121.69 L144.78,121.80 L144.90,121.92 L145.03,122.04 L145.15,122.15 L145.28,122.27 L145.40,122.38 L145.53,122.50 L145.65,122.61 L145.78,122.73 L145.90,122.84 L146.03,122.95 L146.15,123.07 L146.28,123.18 L146.40,123.29 L146.53,123.41 L146.65,123.52 L146.78,123.64 L146.90,123.75 L147.03,123.87 L147.15,123.99 L147.28,124.11 L147.40,124.22 L147.53,124.34 L147.65,124.46 L147.78,124.58 L147.90,124.70 L148.03,124.82 L148.15,124.94 L148.28,125.06 L148.40,125.18 L148.53,125.29 L148.65,125.41 L148.78,125.53 L148.90,125.65 L149.03,125.76 L149.15,125.88 L149.28,126.00 L149.40,126.11 L149.52,126.23 L149.65,126.34 L149.77,126.45 L149.90,126.57 L150.02,126.68 L150.15,126.79 L150.27,126.91 L150.40,127.02 L150.52,127.13 L150.65,127.25 L150.77,127.36 L150.90,127.48 L151.02,127.59 L151.15,127.71 L151.27,127.83 L151.40,127.94 L151.52,128.06 L151.65,128.18 L151.77,128.30 L151.90,128.42 L152.02,128.54 L152.15,128.66 L152.27,128.78 L152.40,128.90 L152.52,129.02 L152.65,129.14 L152.77,129.26 L152.90,129.37 L153.02,129.49 L153.15,129.61 L153.27,129.72 L153.40,129.84 L153.52,129.95 L153.65,130.07 L153.77,130.18 L153.90,130.30 L154.02,130.41 L154.15,130.52 L154.27,130.63 L154.40,130.75 L154.52,130.86 L154.65,130.97 L154.77,131.09 L154.89,131.20 L155.02,131.32 L155.14,131.43 L155.27,131.55 L155.39,131.66 L155.52,131.78 L155.64,131.90 L155.77,132.02 L155.89,132.14 L156.02,132.26 L156.14,132.38 L156.27,132.50 L156.39,132.62 L156.52,132.74 L156.64,132.86 L156.77,132.98 L156.89,133.10 L157.02,133.22 L157.14,133.33 L157.27,133.45 L157.39,133.57 L157.52,133.68 L157.64,133.80 L157.77,133.91 L157.89,134.03 L158.02,134.14 L158.14,134.25 L158.27,134.36 L158.39,134.48 L158.52,134.59 L158.64,134.70 L158.77,134.81 L158.89,134.92 L159.02,135.04 L159.14,135.15 L159.27,135.27 L159.39,135.38 L159.52,135.50 L159.64,135.62 L159.77,135.74 L159.89,135.86 L160.01,135.97 L160.14,136.10 L160.26,136.22 L160.39,136.34 L160.51,136.46 L160.64,136.58 L160.76,136.70 L160.89,136.82 L161.01,136.94 L161.14,137.06 L161.26,137.18 L161.39,137.30 L161.51,137.41 L161.64,137.53 L161.76,137.64 L161.89,137.76 L162.01,137.87 L162.14,137.98 L162.26,138.09 L162.39,138.21 L162.51,138.32 L162.64,138.43 L162.76,138.54 L162.89,138.65 L163.01,138.76 L163.14,138.88 L163.26,138.99 L163.39,139.10 L163.51,139.22 L163.64,139.34 L163.76,139.45 L163.89,139.57 L164.01,139.69 L164.14,139.81 L164.26,139.93 L164.39,140.05 L164.51,140.18 L164.64,140.30 L164.76,140.42 L164.89,140.54 L165.01,140.66 L165.13,140.79 L165.26,140.91 L165.38,141.02 L165.51,141.14 L165.63,141.26 L165.76,141.38 L165.88,141.49 L166.01,141.60 L166.13,141.72 L166.26,141.83 L166.38,141.94 L166.51,142.05 L166.63,142.16 L166.76,142.27 L166.88,142.38 L167.01,142.49 L167.13,142.60 L167.26,142.71 L167.38,142.83 L167.51,142.94 L167.63,143.05 L167.76,143.17 L167.88,143.29 L168.01,143.41 L168.13,143.53 L168.26,143.65 L168.38,143.77 L168.51,143.89 L168.63,144.02 L168.76,144.14 L168.88,144.26 L169.01,144.39 L169.13,144.51 L169.26,144.63 L169.38,144.75 L169.51,144.87 L169.63,144.99 L169.76,145.11 L169.88,145.22 L170.01,145.34 L170.13,145.45 L170.25,145.56 L170.38,145.67 L170.50,145.78 L170.63,145.89 L170.75,146.00 L170.88,146.11 L171.00,146.22 L171.13,146.33 L171.25,146.44 L171.38,146.55 L171.50,146.66 L171.63,146.77 L171.75,146.89 L171.88,147.00 L172.00,147.12 L172.13,147.24 L172.25,147.36 L172.38,147.48 L172.50,147.61 L172.63,147.73 L172.75,147.85 L172.88,147.98 L173.00,148.10 L173.13,148.23 L173.25,148.35 L173.38,148.47 L173.50,148.60 L173.63,148.72 L173.75,148.84 L173.88,148.95 L174.00,149.07 L174.13,149.19 L174.25,149.30 L174.38,149.41 L174.50,149.52 L174.63,149.63 L174.75,149.74 L174.88,149.84 L175.00,149.95 L175.13,150.06 L175.25,150.17 L175.38,150.27 L175.50,150.38 L175.62,150.49 L175.75,150.61 L175.87,150.72 L176.00,150.84 L176.12,150.95 L176.25,151.07 L176.37,151.19 L176.50,151.32 L176.62,151.44 L176.75,151.56 L176.87,151.69 L177.00,151.82 L177.12,151.94 L177.25,152.07 L177.37,152.19 L177.50,152.32 L177.62,152.44 L177.75,152.57 L177.87,152.69 L178.00,152.80 L178.12,152.92 L178.25,153.04 L178.37,153.15 L178.50,153.26 L178.62,153.37 L178.75,153.48 L178.87,153.58 L179.00,153.69 L179.12,153.79 L179.25,153.90 L179.37,154.00 L179.50,154.11 L179.62,154.22 L179.75,154.33 L179.87,154.44 L180.00,154.55 L180.12,154.67 L180.25,154.78 L180.37,154.90 L180.50,155.02 L180.62,155.15 L180.74,155.27 L180.87,155.40 L180.99,155.53 L181.12,155.65 L181.24,155.78 L181.37,155.91 L181.49,156.04 L181.62,156.17 L181.74,156.29 L181.87,156.41 L181.99,156.54 L182.12,156.66 L182.24,156.77 L182.37,156.89 L182.49,157.00 L182.62,157.11 L182.74,157.22 L182.87,157.32 L182.99,157.43 L183.12,157.53 L183.24,157.64 L183.37,157.74 L183.49,157.84 L183.62,157.95 L183.74,158.05 L183.87,158.16 L183.99,158.27 L184.12,158.38 L184.24,158.49 L184.37,158.61 L184.49,158.73 L184.62,158.85 L184.74,158.98 L184.87,159.10 L184.99,159.23 L185.12,159.36 L185.24,159.49 L185.37,159.62 L185.49,159.75 L185.62,159.88 L185.74,160.01 L185.86,160.14 L185.99,160.27 L186.11,160.39 L186.24,160.51 L186.36,160.63 L186.49,160.74 L186.61,160.85 L186.74,160.96 L186.86,161.07 L186.99,161.17 L187.11,161.28 L187.24,161.38 L187.36,161.48 L187.49,161.58 L187.61,161.68 L187.74,161.78 L187.86,161.88 L187.99,161.99 L188.11,162.10 L188.24,162.21 L188.36,162.32 L188.49,162.44 L188.61,162.55 L188.74,162.68 L188.86,162.80 L188.99,162.93 L189.11,163.06 L189.24,163.19 L189.36,163.33 L189.49,163.46 L189.61,163.59 L189.74,163.73 L189.86,163.86 L189.99,163.99 L190.11,164.12 L190.24,164.24 L190.36,164.37 L190.49,164.48 L190.61,164.60 L190.74,164.71 L190.86,164.82 L190.98,164.93 L191.11,165.03 L191.23,165.13 L191.36,165.23 L191.48,165.32 L191.61,165.42 L191.73,165.52 L191.86,165.62 L191.98,165.72 L192.11,165.82 L192.23,165.92 L192.36,166.03 L192.48,166.14 L192.61,166.26 L192.73,166.38 L192.86,166.50 L192.98,166.63 L193.11,166.75 L193.23,166.89 L193.36,167.02 L193.48,167.16 L193.61,167.30 L193.73,167.43 L193.86,167.57 L193.98,167.71 L194.11,167.84 L194.23,167.97 L194.36,168.10 L194.48,168.23 L194.61,168.35 L194.73,168.46 L194.86,168.57 L194.98,168.68 L195.11,168.78 L195.23,168.88 L195.36,168.98 L195.48,169.08 L195.61,169.17 L195.73,169.26 L195.86,169.36 L195.98,169.45 L196.10,169.55 L196.23,169.64 L196.35,169.75 L196.48,169.85 L196.60,169.96 L196.73,170.07 L196.85,170.19 L196.98,170.32 L197.10,170.44 L197.23,170.58 L197.35,170.71 L197.48,170.85 L197.60,170.99 L197.73,171.13 L197.85,171.27 L197.98,171.41 L198.10,171.56 L198.23,171.69 L198.35,171.83 L198.48,171.96 L198.60,172.09 L198.73,172.21 L198.85,172.33 L198.98,172.44 L199.10,172.55 L199.23,172.65 L199.35,172.75 L199.48,172.84 L199.60,172.93 L199.73,173.02 L199.85,173.11 L199.98,173.20 L200.10,173.28 L200.23,173.37 L200.35,173.47 L200.48,173.57 L200.60,173.67 L200.73,173.78 L200.85,173.89 L200.98,174.01 L201.10,174.13 L201.23,174.26 L201.35,174.39 L201.47,174.53 L201.60,174.67 L201.72,174.82 L201.85,174.96 L201.97,175.11 L202.10,175.26 L202.22,175.40 L202.35,175.55 L202.47,175.69 L202.60,175.82 L202.72,175.95 L202.85,176.08 L202.97,176.20 L203.10,176.31 L203.22,176.42 L203.35,176.52 L203.47,176.61 L203.60,176.70 L203.72,176.79 L203.85,176.87 L203.97,176.95 L204.10,177.03 L204.22,177.12 L204.35,177.20 L204.47,177.29 L204.60,177.38 L204.72,177.48 L204.85,177.58 L204.97,177.69 L205.10,177.81 L205.22,177.93 L205.35,178.06 L205.47,178.20 L205.60,178.34 L205.72,178.49 L205.85,178.64 L205.97,178.79 L206.10,178.95 L206.22,179.10 L206.35,179.25 L206.47,179.40 L206.59,179.55 L206.72,179.69 L206.84,179.83 L206.97,179.95 L207.09,180.08 L207.22,180.19 L207.34,180.29 L207.47,180.39 L207.59,180.48 L207.72,180.57 L207.84,180.65 L207.97,180.72 L208.09,180.80 L208.22,180.87 L208.34,180.95 L208.47,181.03 L208.59,181.11 L208.72,181.19 L208.84,181.29 L208.97,181.39 L209.09,181.49 L209.22,181.61 L209.34,181.73 L209.47,181.86 L209.59,182.00 L209.72,182.15 L209.84,182.30 L209.97,182.46 L210.09,182.62 L210.22,182.78 L210.34,182.94 L210.47,183.10 L210.59,183.26 L210.72,183.41 L210.84,183.56 L210.97,183.70 L211.09,183.84 L211.22,183.96 L211.34,184.07 L211.47,184.18 L211.59,184.27 L211.71,184.36 L211.84,184.44 L211.96,184.51 L212.09,184.58 L212.21,184.65 L212.34,184.72 L212.46,184.78 L212.59,184.85 L212.71,184.92 L212.84,185.00 L212.96,185.09 L213.09,185.18 L213.21,185.28 L213.34,185.40 L213.46,185.52 L213.59,185.65 L213.71,185.79 L213.84,185.94 L213.96,186.10 L214.09,186.26 L214.21,186.43 L214.34,186.60 L214.46,186.78 L214.59,186.95 L214.71,187.12 L214.84,187.28 L214.96,187.44 L215.09,187.59 L215.21,187.73 L215.34,187.85 L215.46,187.97 L215.59,188.07 L215.71,188.17 L215.84,188.25 L215.96,188.32 L216.09,188.39 L216.21,188.45 L216.34,188.50 L216.46,188.56 L216.59,188.61 L216.71,188.67 L216.83,188.73 L216.96,188.80 L217.08,188.88 L217.21,188.97 L217.33,189.06 L217.46,189.17 L217.58,189.29 L217.71,189.43 L217.83,189.57 L217.96,189.73 L218.08,189.89 L218.21,190.06 L218.33,190.24 L218.46,190.43 L218.58,190.61 L218.71,190.80 L218.83,190.98 L218.96,191.15 L219.08,191.32 L219.21,191.48 L219.33,191.63 L219.46,191.76 L219.58,191.88 L219.71,191.98 L219.83,192.07 L219.96,192.15 L220.08,192.22 L220.21,192.27 L220.33,192.32 L220.46,192.36 L220.58,192.40 L220.71,192.44 L220.83,192.49 L220.96,192.54 L221.08,192.59 L221.21,192.66 L221.33,192.74 L221.46,192.83 L221.58,192.93 L221.71,193.05 L221.83,193.19 L221.96,193.33 L222.08,193.49 L222.20,193.67 L222.33,193.85 L222.45,194.04 L222.58,194.24 L222.70,194.44 L222.83,194.64 L222.95,194.83 L223.08,195.03 L223.20,195.21 L223.33,195.38 L223.45,195.53 L223.58,195.67 L223.70,195.80 L223.83,195.90 L223.95,195.99 L224.08,196.06 L224.20,196.12 L224.33,196.16 L224.45,196.20 L224.58,196.23 L224.70,196.25 L224.83,196.27 L224.95,196.30 L225.08,196.33 L225.20,196.38 L225.33,196.43 L225.45,196.50 L225.58,196.58 L225.70,196.68 L225.83,196.79 L225.95,196.93 L226.08,197.08 L226.20,197.24 L226.33,197.43 L226.45,197.62 L226.58,197.83 L226.70,198.04 L226.83,198.26 L226.95,198.47 L227.08,198.69 L227.20,198.90 L227.32,199.10 L227.45,199.29 L227.57,199.45 L227.70,199.60 L227.82,199.73 L227.95,199.84 L228.07,199.93 L228.20,199.99 L228.32,200.04 L228.45,200.07 L228.57,200.09 L228.70,200.10 L228.82,200.10 L228.95,200.10 L229.07,200.11 L229.20,200.12 L229.32,200.15 L229.45,200.19 L229.57,200.24 L229.70,200.31 L229.82,200.40 L229.95,200.51 L230.07,200.65 L230.20,200.80 L230.32,200.97 L230.45,201.16 L230.57,201.37 L230.70,201.59 L230.82,201.82 L230.95,202.06 L231.07,202.30 L231.20,202.54 L231.32,202.77 L231.45,203.00 L231.57,203.20 L231.70,203.39 L231.82,203.55 L231.95,203.69 L232.07,203.80 L232.20,203.88 L232.32,203.94 L232.44,203.98 L232.57,203.99 L232.69,203.99 L232.82,203.98 L232.94,203.96 L233.07,203.93 L233.19,203.92 L233.32,203.90 L233.44,203.91 L233.57,203.92 L233.69,203.96 L233.82,204.02 L233.94,204.10 L234.07,204.20 L234.19,204.33 L234.32,204.49 L234.44,204.67 L234.57,204.87 L234.69,205.09 L234.82,205.33 L234.94,205.58 L235.07,205.85 L235.19,206.12 L235.32,206.38 L235.44,206.65 L235.57,206.89 L235.69,207.13 L235.82,207.33 L235.94,207.51 L236.07,207.66 L236.19,207.78 L236.32,207.86 L236.44,207.91 L236.57,207.93 L236.69,207.93 L236.82,207.90 L236.94,207.86 L237.07,207.81 L237.19,207.76 L237.32,207.71 L237.44,207.67 L237.56,207.65 L237.69,207.64 L237.81,207.65 L237.94,207.69 L238.06,207.76 L238.19,207.86 L238.31,207.98 L238.44,208.14 L238.56,208.32 L238.69,208.54 L238.81,208.78 L238.94,209.04 L239.06,209.32 L239.19,209.61 L239.31,209.91 L239.44,210.21 L239.56,210.51 L239.69,210.79 L239.81,211.06 L239.94,211.29 L240.06,211.50 L240.19,211.66 L240.31,211.79 L240.44,211.87 L240.56,211.91 L240.69,211.92 L240.81,211.89 L240.94,211.83 L241.06,211.76 L241.19,211.67 L241.31,211.58 L241.44,211.50 L241.56,211.42 L241.69,211.36 L241.81,211.32 L241.94,211.31 L242.06,211.33 L242.19,211.38 L242.31,211.47 L242.44,211.59 L242.56,211.74 L242.69,211.93 L242.81,212.16 L242.93,212.41 L243.06,212.70 L243.18,213.01 L243.31,213.33 L243.43,213.67 L243.56,214.02 L243.68,214.36 L243.81,214.68 L243.93,214.99 L244.06,215.26 L244.18,215.50 L244.31,215.68 L244.43,215.82 L244.56,215.91 L244.68,215.94 L244.81,215.92 L244.93,215.87 L245.06,215.78 L245.18,215.66 L245.31,215.53 L245.43,215.40 L245.56,215.27 L245.68,215.15 L245.81,215.05 L245.93,214.97 L246.06,214.93 L246.18,214.92 L246.31,214.95 L246.43,215.02 L246.56,215.13 L246.68,215.29 L246.81,215.48 L246.93,215.72 L247.06,215.99 L247.18,216.30 L247.31,216.64 L247.43,217.01 L247.56,217.39 L247.68,217.78 L247.81,218.18 L247.93,218.56 L248.05,218.91 L248.18,219.23 L248.30,219.51 L248.43,219.73 L248.55,219.88 L248.68,219.97 L248.80,219.99 L248.93,219.96 L249.05,219.87 L249.18,219.74 L249.30,219.57 L249.43,219.39 L249.55,219.20 L249.68,219.01 L249.80,218.84 L249.93,218.70 L250.05,218.58 L250.18,218.50 L250.30,218.46 L250.43,218.46 L250.55,218.51 L250.68,218.61 L250.80,218.76 L250.93,218.96 L251.05,219.21 L251.18,219.50 L251.30,219.83 L251.43,220.21 L251.55,220.62 L251.68,221.05 L251.80,221.50 L251.93,221.95 L252.05,222.39 L252.18,222.81 L252.30,223.20 L252.43,223.52 L252.55,223.78 L252.68,223.96 L252.80,224.06 L252.93,224.08 L253.05,224.02 L253.17,223.89 L253.30,223.70 L253.42,223.48 L253.55,223.23 L253.67,222.98 L253.80,222.73 L253.92,222.49 L254.05,222.29 L254.17,222.12 L254.30,221.99 L254.42,221.92 L254.55,221.89 L254.67,221.92 L254.80,222.00 L254.92,222.14 L255.05,222.34 L255.17,222.60 L255.30,222.91 L255.42,223.27 L255.55,223.68 L255.67,224.13 L255.80,224.62 L255.92,225.13 L256.05,225.65 L256.17,226.17 L256.30,226.67 L256.42,227.13 L256.55,227.52 L256.67,227.83 L256.80,228.05 L256.92,228.17 L257.05,228.18 L257.17,228.08 L257.30,227.91 L257.42,227.66 L257.55,227.37 L257.67,227.04 L257.80,226.71 L257.92,226.38 L258.05,226.08 L258.17,225.81 L258.29,225.58 L258.42,225.41 L258.54,225.28 L258.67,225.22 L258.79,225.22 L258.92,225.28 L259.04,225.41 L259.17,225.61 L259.29,225.87 L259.42,226.20 L259.54,226.58 L259.67,227.03 L259.79,227.53 L259.92,228.07 L260.04,228.65 L260.17,229.25 L260.29,229.86 L260.42,230.44 L260.54,230.99 L260.67,231.47 L260.79,231.85 L260.92,232.12 L261.04,232.26 L261.17,232.26 L261.29,232.14 L261.42,231.91 L261.54,231.59 L261.67,231.21 L261.79,230.80 L261.92,230.38 L262.04,229.96 L262.17,229.58 L262.29,229.24 L262.42,228.94 L262.54,228.71 L262.67,228.54 L262.79,228.43 L262.92,228.40 L263.04,228.44 L263.17,228.55 L263.29,228.74 L263.41,229.01 L263.54,229.34 L263.66,229.75 L263.79,230.23 L263.91,230.77 L264.04,231.37 L264.16,232.01 L264.29,232.69 L264.41,233.39 L264.54,234.08 L264.66,234.73 L264.79,235.30 L264.91,235.78 L265.04,236.11 L265.16,236.29 L265.29,236.29 L265.41,236.14 L265.54,235.85 L265.66,235.44 L265.79,234.97 L265.91,234.46 L266.04,233.93 L266.16,233.43 L266.29,232.96 L266.41,232.53 L266.54,232.17 L266.66,231.87 L266.79,231.65 L266.91,231.50 L267.04,231.43 L267.16,231.44 L267.29,231.54 L267.41,231.71 L267.54,231.97 L267.66,232.31 L267.79,232.74 L267.91,233.24 L268.04,233.81 L268.16,234.46 L268.29,235.17 L268.41,235.92 L268.54,236.71 L268.66,237.49 L268.78,238.25 L268.91,238.94 L269.03,239.52 L269.16,239.93 L269.28,240.16 L269.41,240.17 L269.53,239.99 L269.66,239.63 L269.78,239.15 L269.91,238.57 L270.03,237.95 L270.16,237.33 L270.28,236.72 L270.41,236.16 L270.53,235.66 L270.66,235.22 L270.78,234.87 L270.91,234.59 L271.03,234.40 L271.16,234.29 L271.28,234.27 L271.41,234.34 L271.53,234.50 L271.66,234.75 L271.78,235.08 L271.91,235.51 L272.03,236.03 L272.16,236.62 L272.28,237.30 L272.41,238.06 L272.53,238.87 L272.66,239.73 L272.78,240.61 L272.91,241.47 L273.03,242.26 L273.16,242.94 L273.28,243.44 L273.41,243.73 L273.53,243.77 L273.66,243.57 L273.78,243.16 L273.90,242.59 L274.03,241.92 L274.15,241.21 L274.28,240.49 L274.40,239.79 L274.53,239.15 L274.65,238.57 L274.78,238.07 L274.90,237.66 L275.03,237.33 L275.15,237.09 L275.28,236.95 L275.40,236.90 L275.53,236.94 L275.65,237.08 L275.78,237.31 L275.90,237.63 L276.03,238.05 L276.15,238.57 L276.28,239.17 L276.40,239.86 L276.53,240.64 L276.65,241.49 L276.78,242.39 L276.90,243.33 L277.03,244.25 L277.15,245.13 L277.28,245.89 L277.40,246.48 L277.53,246.82 L277.65,246.90 L277.78,246.70 L277.90,246.26 L278.03,245.64 L278.15,244.91 L278.28,244.12 L278.40,243.33 L278.53,242.56 L278.65,241.86 L278.78,241.22 L278.90,240.67 L279.02,240.21 L279.15,239.84 L279.27,239.56 L279.40,239.38 L279.52,239.30 L279.65,239.32 L279.77,239.43 L279.90,239.64 L280.02,239.94 L280.15,240.34 L280.27,240.84 L280.40,241.43 L280.52,242.11 L280.65,242.89 L280.77,243.73 L280.90,244.64 L281.02,245.59 L281.15,246.54 L281.27,247.45 L281.40,248.26 L281.52,248.89 L281.65,249.28 L281.77,249.39 L281.90,249.22 L282.02,248.79 L282.15,248.17 L282.27,247.42 L282.40,246.60 L282.52,245.78 L282.65,244.98 L282.77,244.24 L282.90,243.57 L283.02,242.99 L283.15,242.50 L283.27,242.10 L283.40,241.79 L283.52,241.59 L283.65,241.48 L283.77,241.46 L283.90,241.55 L284.02,241.73 L284.14,242.00 L284.27,242.37 L284.39,242.84 L284.52,243.40 L284.64,244.05 L284.77,244.79 L284.89,245.60 L285.02,246.48 L285.14,247.39 L285.27,248.31 L285.39,249.20 L285.52,249.99 L285.64,250.62 L285.77,251.04 L285.89,251.18 L286.02,251.06 L286.14,250.68 L286.27,250.10 L286.39,249.39 L286.52,248.60 L286.64,247.79 L286.77,247.01 L286.89,246.27 L287.02,245.60 L287.14,245.01 L287.27,244.51 L287.39,244.09 L287.52,243.77 L287.64,243.55 L287.77,243.41 L287.89,243.37 L288.02,243.43 L288.14,243.58 L288.27,243.82 L288.39,244.16 L288.52,244.58 L288.64,245.10 L288.77,245.70 L288.89,246.38 L289.02,247.13 L289.14,247.93 L289.27,248.77 L289.39,249.62 L289.51,250.44 L289.64,251.17 L289.76,251.76 L289.89,252.16 L290.01,252.33 L290.14,252.26 L290.26,251.96 L290.39,251.46 L290.51,250.83 L290.64,250.12 L290.76,249.38 L290.89,248.65 L291.01,247.95 L291.14,247.31 L291.26,246.74 L291.39,246.24 L291.51,245.83 L291.64,245.50 L291.76,245.27 L291.89,245.12 L292.01,245.06 L292.14,245.09 L292.26,245.21 L292.39,245.42 L292.51,245.71 L292.64,246.09 L292.76,246.54 L292.89,247.08 L293.01,247.69 L293.14,248.36 L293.26,249.07 L293.39,249.82 L293.51,250.57 L293.64,251.28 L293.76,251.93 L293.89,252.46 L294.01,252.82 L294.14,253.00 L294.26,252.98 L294.39,252.75 L294.51,252.36 L294.63,251.84 L294.76,251.24 L294.88,250.59 L295.01,249.94 L295.13,249.31 L295.26,248.71 L295.38,248.18 L295.51,247.71 L295.63,247.32 L295.76,247.00 L295.88,246.76 L296.01,246.61 L296.13,246.54 L296.26,246.54 L296.38,246.63 L296.51,246.80 L296.63,247.05 L296.76,247.38 L296.88,247.78 L297.01,248.24 L297.13,248.77 L297.26,249.35 L297.38,249.97 L297.51,250.62 L297.63,251.26 L297.76,251.87 L297.88,252.42 L298.01,252.87 L298.13,253.20 L298.26,253.37 L298.38,253.38 L298.51,253.23 L298.63,252.94 L298.76,252.53 L298.88,252.03 L299.01,251.49 L299.13,250.94 L299.26,250.38 L299.38,249.86 L299.51,249.38 L299.63,248.95 L299.75,248.59 L299.88,248.29 L300.00,248.06 L300.13,247.90 L300.25,247.82 L300.38,247.81 L300.50,247.88 L300.63,248.01 L300.75,248.22 L300.88,248.49 L301.00,248.83 L301.13,249.23 L301.25,249.68 L301.38,250.18 L301.50,250.70 L301.63,251.24 L301.75,251.78 L301.88,252.29 L302.00,252.76 L302.13,253.14 L302.25,253.42 L302.38,253.59 L302.50,253.62 L302.63,253.53 L302.75,253.31 L302.88,253.00 L303.00,252.61 L303.13,252.17 L303.25,251.71 L303.38,251.24 L303.50,250.79 L303.63,250.37 L303.75,250.00 L303.88,249.67 L304.00,249.39 L304.13,249.18 L304.25,249.03 L304.38,248.94 L304.50,248.92 L304.63,248.96 L304.75,249.07 L304.87,249.24 L305.00,249.46 L305.12,249.75 L305.25,250.08 L305.37,250.46 L305.50,250.87 L305.62,251.31 L305.75,251.76 L305.87,252.21 L306.00,252.64 L306.12,253.02 L306.25,253.34 L306.37,253.58 L306.50,253.73 L306.62,253.78 L306.75,253.73 L306.87,253.58 L307.00,253.34 L307.12,253.05 L307.25,252.70 L307.37,252.32 L307.50,251.94 L307.62,251.56 L307.75,251.20 L307.87,250.88 L308.00,250.59 L308.12,250.34 L308.25,250.15 L308.37,250.00 L308.50,249.92 L308.62,249.89 L308.75,249.91 L308.87,249.99 L309.00,250.13 L309.12,250.31 L309.25,250.55 L309.37,250.83 L309.50,251.14 L309.62,251.48 L309.75,251.85 L309.87,252.22 L310.00,252.59 L310.12,252.94 L310.24,253.25 L310.37,253.52 L310.49,253.73 L310.62,253.86 L310.74,253.92 L310.87,253.90 L310.99,253.79 L311.12,253.62 L311.24,253.40 L311.37,253.13 L311.49,252.83 L311.62,252.52 L311.74,252.21 L311.87,251.91 L311.99,251.63 L312.12,251.38 L312.24,251.16 L312.37,250.99 L312.49,250.86 L312.62,250.78 L312.74,250.74 L312.87,250.75 L312.99,250.81 L313.12,250.92 L313.24,251.07 L313.37,251.26 L313.49,251.49 L313.62,251.75 L313.74,252.03 L313.87,252.33 L313.99,252.63 L314.12,252.94 L314.24,253.22 L314.37,253.49 L314.49,253.71 L314.62,253.89 L314.74,254.01 L314.87,254.06 L314.99,254.06 L315.12,253.99 L315.24,253.87 L315.36,253.70 L315.49,253.49 L315.61,253.26 L315.74,253.01 L315.86,252.76 L315.99,252.51 L316.11,252.28 L316.24,252.06 L316.36,251.88 L316.49,251.73 L316.61,251.61 L316.74,251.54 L316.86,251.50 L316.99,251.50 L317.11,251.54 L317.24,251.63 L317.36,251.75 L317.49,251.90 L317.61,252.09 L317.74,252.30 L317.86,252.53 L317.99,252.77 L318.11,253.03 L318.24,253.27 L318.36,253.51 L318.49,253.73 L318.61,253.92 L318.74,254.06 L318.86,254.17 L318.99,254.23 L319.11,254.24 L319.24,254.20 L319.36,254.11 L319.49,253.99 L319.61,253.83 L319.74,253.65 L319.86,253.45 L319.99,253.24 L320.11,253.04 L320.24,252.85 L320.36,252.67 L320.48,252.52 L320.61,252.39 L320.73,252.28 L320.86,252.21 L320.98,252.18 L321.11,252.17 L321.23,252.20 L321.36,252.27 L321.48,252.36 L321.61,252.49 L321.73,252.64 L321.86,252.81 L321.98,253.00 L322.11,253.20 L322.23,253.40 L322.36,253.61 L322.48,253.80 L322.61,253.98 L322.73,254.14 L322.86,254.27 L322.98,254.36 L323.11,254.42 L323.23,254.43 L323.36,254.41 L323.48,254.35 L323.61,254.26 L323.73,254.14 L323.86,254.00 L323.98,253.85 L324.11,253.68 L324.23,253.52 L324.36,253.36 L324.48,253.22 L324.61,253.09 L324.73,252.98 L324.86,252.89 L324.98,252.83 L325.11,252.79 L325.23,252.78 L325.36,252.81 L325.48,252.85 L325.60,252.93 L325.73,253.03 L325.85,253.15 L325.98,253.29 L326.10,253.44 L326.23,253.61 L326.35,253.78 L326.48,253.94 L326.60,254.10 L326.73,254.25 L326.85,254.38 L326.98,254.49 L327.10,254.58 L327.23,254.63 L327.35,254.65 L327.48,254.64 L327.60,254.60 L327.73,254.54 L327.85,254.45 L327.98,254.34 L328.10,254.22 L328.23,254.09 L328.35,253.96 L328.48,253.83 L328.60,253.71 L328.73,253.61 L328.85,253.51 L328.98,253.44 L329.10,253.38 L329.23,253.35 L329.35,253.34 L329.48,253.36 L329.60,253.40 L329.73,253.45 L329.85,253.53 L329.98,253.63 L330.10,253.74 L330.23,253.87 L330.35,254.00 L330.48,254.14 L330.60,254.28 L330.73,254.41 L330.85,254.54 L330.97,254.65 L331.10,254.74 L331.22,254.81 L331.35,254.86 L331.47,254.89 L331.60,254.88 L331.72,254.86 L331.85,254.81 L331.97,254.75 L332.10,254.67 L332.22,254.58 L332.35,254.48 L332.47,254.37 L332.60,254.27 L332.72,254.17 L332.85,254.09 L332.97,254.01 L333.10,253.95 L333.22,253.90 L333.35,253.87 L333.47,253.86 L333.60,253.87 L333.72,253.90 L333.85,253.95 L333.97,254.01 L334.10,254.09 L334.22,254.18 L334.35,254.28 L334.47,254.39 L334.60,254.50 L334.72,254.62 L334.85,254.73 L334.97,254.83 L335.10,254.92 L335.22,255.00 L335.35,255.07 L335.47,255.11 L335.60,255.14 L335.72,255.14 L335.85,255.13 L335.97,255.10 L336.09,255.05 L336.22,254.99 L336.34,254.92 L336.47,254.84 L336.59,254.76 L336.72,254.68 L336.84,254.60 L336.97,254.53 L337.09,254.47 L337.22,254.42 L337.34,254.38 L337.47,254.35 L337.59,254.34 L337.72,254.35 L337.84,254.37 L337.97,254.41 L338.09,254.46 L338.22,254.52 L338.34,254.60 L338.47,254.68 L338.59,254.77 L338.72,254.86 L338.84,254.96 L338.97,255.05 L339.09,255.14 L339.22,255.21 L339.34,255.28 L339.47,255.34 L339.59,255.38 L339.72,255.40 L339.84,255.41 L339.97,255.41 L340.09,255.39 L340.22,255.36 L340.34,255.31 L340.47,255.26 L340.59,255.20 L340.72,255.14 L340.84,255.07 L340.97,255.01 L341.09,254.95 L341.21,254.90 L341.34,254.86 L341.46,254.83 L341.59,254.81 L341.71,254.80 L341.84,254.80 L341.96,254.82 L342.09,254.85 L342.21,254.89 L342.34,254.94 L342.46,255.00 L342.59,255.07 L342.71,255.14 L342.84,255.22 L342.96,255.30 L343.09,255.37 L343.21,255.45 L343.34,255.51 L343.46,255.57 L343.59,255.62 L343.71,255.66 L343.84,255.68 L343.96,255.69 L344.09,255.69 L344.21,255.68 L344.34,255.66 L344.46,255.63 L344.59,255.59 L344.71,255.54 L344.84,255.50 L344.96,255.45 L345.09,255.40 L345.21,255.35 L345.34,255.31 L345.46,255.28 L345.59,255.25 L345.71,255.23 L345.84,255.23 L345.96,255.23 L346.09,255.24 L346.21,255.27 L346.33,255.30 L346.46,255.34 L346.58,255.39 L346.71,255.45 L346.83,255.51 L346.96,255.57 L347.08,255.64 L347.21,255.70 L347.33,255.76 L347.46,255.82 L347.58,255.87 L347.71,255.91 L347.83,255.95 L347.96,255.97 L348.08,255.98 L348.21,255.99 L348.33,255.98 L348.46,255.97 L348.58,255.95 L348.71,255.92 L348.83,255.88 L348.96,255.85 L349.08,255.81 L349.21,255.77 L349.33,255.74 L349.46,255.70 L349.58,255.68 L349.71,255.66 L349.83,255.64 L349.96,255.64 L350.08,255.64 L350.21,255.65 L350.33,255.67 L350.46,255.70 L350.58,255.73 L350.71,255.77 L350.83,255.82 L350.96,255.87 L351.08,255.92 L351.21,255.98 L351.33,256.03 L351.45,256.08 L351.58,256.13 L351.70,256.17 L351.83,256.21 L351.95,256.24 L352.08,256.26 L352.20,256.28 L352.33,256.29 L352.45,256.28 L352.58,256.28 L352.70,256.26 L352.83,256.24 L352.95,256.22 L353.08,256.19 L353.20,256.16 L353.33,256.13 L353.45,256.11 L353.58,256.08 L353.70,256.06 L353.83,256.04 L353.95,256.03 L354.08,256.03 L354.20,256.03 L354.33,256.04 L354.45,256.06 L354.58,256.08 L354.70,256.11 L354.83,256.14 L354.95,256.18 L355.08,256.22 L355.20,256.27 L355.33,256.31 L355.45,256.36 L355.58,256.40 L355.70,256.44 L355.83,256.48 L355.95,256.51 L356.08,256.54 L356.20,256.56 L356.33,256.58 L356.45,256.59 L356.58,256.59 L356.70,256.59 L356.82,256.58 L356.95,256.56 L357.07,256.55 L357.20,256.53 L357.32,256.51 L357.45,256.48 L357.57,256.46 L357.70,256.45 L357.82,256.43 L357.95,256.42 L358.07,256.41 L358.20,256.41 L358.32,256.41 L358.45,256.42 L358.57,256.43 L358.70,256.45 L358.82,256.47 L358.95,256.50 L359.07,256.53 L359.20,256.57 L359.32,256.61 L359.45,256.65 L359.57,256.68 L359.70,256.72 L359.82,256.76 L359.95,256.79 L360.07,256.82 L360.20,256.84 L360.32,256.86 L360.45,256.88 L360.57,256.89 L360.70,256.89 L360.82,256.89 L360.95,256.89 L361.07,256.88 L361.20,256.87 L361.32,256.86 L361.45,256.84 L361.57,256.83 L361.70,256.81 L361.82,256.80 L361.94,256.79 L362.07,256.78 L362.19,256.77 L362.32,256.77 L362.44,256.78 L362.57,256.78 L362.69,256.79 L362.82,256.81 L362.94,256.83 L363.07,256.86 L363.19,256.88 L363.32,256.91 L363.44,256.94 L363.57,256.98 L363.69,257.01 L363.82,257.04 L363.94,257.07 L364.07,257.10 L364.19,257.13 L364.32,257.15 L364.44,257.17 L364.57,257.18 L364.69,257.19 L364.82,257.20 L364.94,257.20 L365.07,257.20 L365.19,257.20 L365.32,257.19 L365.44,257.18 L365.57,257.17 L365.69,257.16 L365.82,257.15 L365.94,257.14 L366.07,257.14 L366.19,257.13 L366.32,257.13 L366.44,257.13 L366.57,257.13 L366.69,257.14 L366.82,257.15 L366.94,257.16 L367.06,257.18 L367.19,257.20 L367.31,257.22 L367.44,257.25 L367.56,257.28 L367.69,257.30 L367.81,257.33 L367.94,257.36 L368.06,257.39 L368.19,257.41 L368.31,257.44 L368.44,257.46 L368.56,257.47 L368.69,257.49 L368.81,257.50 L368.94,257.51 L369.06,257.51 L369.19,257.51 L369.31,257.51 L369.44,257.51 L369.56,257.50 L369.69,257.50 L369.81,257.49 L369.94,257.49 L370.06,257.48 L370.19,257.47 L370.31,257.47 L370.44,257.47 L370.56,257.47 L370.69,257.48 L370.81,257.48 L370.94,257.49 L371.06,257.50 L371.19,257.52 L371.31,257.54 L371.44,257.56 L371.56,257.58 L371.69,257.60 L371.81,257.63 L371.94,257.65 L372.06,257.68 L372.18,257.70 L372.31,257.72 L372.43,257.74 L372.56,257.76 L372.68,257.78 L372.81,257.79 L372.93,257.80 L373.06,257.81 L373.18,257.82 L373.31,257.82 L373.43,257.82 L373.56,257.82 L373.68,257.82 L373.81,257.82 L373.93,257.82 L374.06,257.81 L374.18,257.81 L374.31,257.81 L374.43,257.81 L374.56,257.81 L374.68,257.81 L374.81,257.81 L374.93,257.82 L375.06,257.83 L375.18,257.84 L375.31,257.85 L375.43,257.87 L375.56,257.89 L375.68,257.91 L375.81,257.93 L375.93,257.95 L376.06,257.97 L376.18,257.99 L376.31,258.01 L376.43,258.03 L376.56,258.05 L376.68,258.07 L376.81,258.08 L376.93,258.10 L377.06,258.11 L377.18,258.12 L377.31,258.12 L377.43,258.13 L377.55,258.13 L377.68,258.13 L377.80,258.14 L377.93,258.13 L378.05,258.13 L378.18,258.13 L378.30,258.13 L378.43,258.13 L378.55,258.13 L378.68,258.13 L378.80,258.14 L378.93,258.14 L379.05,258.15 L379.18,258.16 L379.30,258.17 L379.43,258.18 L379.55,258.19 L379.68,258.21 L379.80,258.23 L379.93,258.25 L380.05,258.26 L380.18,258.28 L380.30,258.30 L380.43,258.32 L380.55,258.34 L380.68,258.36 L380.80,258.37 L380.93,258.39 L381.05,258.40 L381.18,258.41 L381.30,258.42 L381.43,258.43 L381.55,258.43 L381.68,258.44 L381.80,258.44 L381.93,258.44 L382.05,258.45 L382.18,258.45 L382.30,258.45 L382.43,258.45 L382.55,258.45 L382.67,258.45 L382.80,258.46 L382.92,258.46 L383.05,258.47 L383.17,258.47 L383.30,258.48 L383.42,258.49 L383.55,258.50 L383.67,258.51 L383.80,258.53 L383.92,258.54 L384.05,258.56 L384.17,258.58 L384.30,258.59 L384.42,258.61 L384.55,258.63 L384.67,258.64 L384.80,258.66 L384.92,258.67 L385.05,258.69 L385.17,258.70 L385.30,258.71 L385.42,258.72 L385.55,258.73 L385.67,258.74 L385.80,258.74 L385.92,258.75 L386.05,258.75 L386.17,258.75 L386.30,258.76 L386.42,258.76 L386.55,258.76 L386.67,258.76 L386.80,258.77 L386.92,258.77 L387.05,258.78 L387.17,258.78 L387.30,258.79 L387.42,258.80 L387.55,258.81 L387.67,258.82 L387.79,258.83 L387.92,258.84 L388.04,258.86 L388.17,258.87 L388.29,258.89 L388.42,258.90 L388.54,258.92 L388.67,258.93 L388.79,258.95 L388.92,258.96 L389.04,258.97 L389.17,258.99 L389.29,259.00 L389.42,259.01 L389.54,259.02 L389.67,259.03 L389.79,259.04 L389.92,259.04 L390.04,259.05 L390.17,259.05 L390.29,259.06 L390.42,259.06 L390.54,259.07 L390.67,259.07 L390.79,259.07 L390.92,259.08 L391.04,259.08 L391.17,259.09 L391.29,259.09 L391.42,259.10 L391.54,259.11 L391.67,259.12 L391.79,259.13 L391.92,259.14 L392.04,259.15 L392.17,259.16 L392.29,259.18 L392.42,259.19 L392.54,259.20 L392.67,259.22 L392.79,259.23 L392.91,259.25 L393.04,259.26 L393.16,259.27 L393.29,259.28 L393.41,259.30 L393.54,259.31 L393.66,259.32 L393.79,259.33 L393.91,259.33 L394.04,259.34 L394.16,259.35 L394.29,259.35 L394.41,259.36 L394.54,259.36 L394.66,259.37 L394.79,259.37 L394.91,259.38 L395.04,259.38 L395.16,259.39 L395.29,259.39 L395.41,259.40 L395.54,259.41 L395.66,259.42 L395.79,259.42 L395.91,259.43 L396.04,259.44 L396.16,259.46 L396.29,259.47 L396.41,259.48 L396.54,259.49 L396.66,259.50 L396.79,259.52 L396.91,259.53 L397.04,259.54 L397.16,259.56 L397.29,259.57 L397.41,259.58 L397.54,259.59 L397.66,259.60 L397.79,259.61 L397.91,259.62 L398.04,259.63 L398.16,259.64 L398.28,259.64 L398.41,259.65 L398.53,259.65 L398.66,259.66 L398.78,259.67 L398.91,259.67 L399.03,259.68 L399.16,259.68 L399.28,259.69 L399.41,259.69 L399.53,259.70 L399.66,259.71 L399.78,259.72 L399.91,259.73 L400.03,259.73 L400.16,259.74 L400.28,259.75 L400.41,259.77 L400.53,259.78 L400.66,259.79 L400.78,259.80 L400.91,259.81 L401.03,259.83 L401.16,259.84 L401.28,259.85 L401.41,259.86 L401.53,259.87 L401.66,259.88 L401.78,259.89 L401.91,259.90 L402.03,259.91 L402.16,259.92 L402.28,259.93 L402.41,259.93 L402.53,259.94 L402.66,259.95 L402.78,259.95 L402.91,259.96 L403.03,259.97 L403.16,259.97 L403.28,259.98 L403.40,259.98 L403.53,259.99 L403.65,260.00 L403.78,260.01 L403.90,260.01 L404.03,260.02 L404.15,260.03 L404.28,260.04 L404.40,260.05 L404.53,260.06 L404.65,260.07 L404.78,260.08 L404.90,260.09 L405.03,260.11 L405.15,260.12 L405.28,260.13 L405.40,260.14 L405.53,260.15 L405.65,260.16 L405.78,260.17 L405.90,260.18 L406.03,260.19 L406.15,260.20 L406.28,260.21 L406.40,260.22 L406.53,260.22 L406.65,260.23 L406.78,260.24 L406.90,260.24 L407.03,260.25 L407.15,260.26 L407.28,260.26 L407.40,260.27 L407.53,260.28 L407.65,260.28 L407.78,260.29 L407.90,260.30 L408.03,260.31 L408.15,260.32 L408.28,260.32 L408.40,260.33" stroke="#000000" stroke-width="1.18"/>
</g>
<rect x="58.3" y="39.2" width="350.10" height="244.71" fill="none" stroke="#000" stroke-width="1.05"/>
<path d="M58.30,283.91v8.0 M75.80,283.91v4.4 M93.31,283.91v4.4 M110.81,283.91v4.4 M128.32,283.91v4.4 M145.82,283.91v8.0 M163.33,283.91v4.4 M180.83,283.91v4.4 M198.34,283.91v4.4 M215.84,283.91v4.4 M233.35,283.91v8.0 M250.85,283.91v4.4 M268.36,283.91v4.4 M285.87,283.91v4.4 M303.37,283.91v4.4 M320.88,283.91v8.0 M338.38,283.91v4.4 M355.88,283.91v4.4 M373.39,283.91v4.4 M390.89,283.91v4.4 M408.40,283.91v8.0 M58.3,39.20h-8.2 M58.3,55.51h-4.6 M58.3,71.83h-4.6 M58.3,88.14h-4.6 M58.3,104.46h-4.6 M58.3,120.77h-8.2 M58.3,137.08h-4.6 M58.3,153.40h-4.6 M58.3,169.71h-4.6 M58.3,186.03h-4.6 M58.3,202.34h-8.2 M58.3,218.65h-4.6 M58.3,234.97h-4.6 M58.3,251.28h-4.6 M58.3,267.60h-4.6 M58.3,283.91h-8.2" stroke="#000" stroke-width="0.95" fill="none"/>
<path d="M236.7,316.3L233.1,327.0" stroke="#000" stroke-width="1.45" fill="none"/>
</svg>
<div id="txt">
<div class="t" style="right:380.7px;top:32.2px;letter-spacing:0.9px">0</div>
<div class="t" style="right:380.7px;top:113.8px;letter-spacing:0.9px">−10</div>
<div class="t" style="right:380.7px;top:195.3px;letter-spacing:0.9px">−20</div>
<div class="t" style="right:380.7px;top:276.9px;letter-spacing:0.9px">−30</div>
<div class="t" style="left:38.7px;width:40px;text-align:center;top:296.6px;letter-spacing:0.5px">0</div>
<div class="t" style="left:126.2px;width:40px;text-align:center;top:296.6px;letter-spacing:0.5px">10</div>
<div class="t" style="left:213.7px;width:40px;text-align:center;top:296.6px;letter-spacing:0.5px">20</div>
<div class="t" style="left:301.3px;width:40px;text-align:center;top:296.6px;letter-spacing:0.5px">30</div>
<div class="t" style="left:388.8px;width:40px;text-align:center;top:296.6px;letter-spacing:0.5px">40</div>
<div class="t b" style="left:226.6px;top:314.8px;font-size:12.6px">t</div>
<div class="t b" style="left:238.0px;top:314.8px;font-size:13.5px;transform:scaleX(1.2);transform-origin:0 0">τ</div>
<div class="t b" style="left:-21.0px;top:154.5px;width:60px;text-align:center;transform:rotate(-90deg);font-size:13px;letter-spacing:0.45px">ln[P(t)]</div>
<div class="l" style="left:331.6px;top:105.3px;letter-spacing:0.15px">R=0.30</div>
<div class="l" style="left:331.6px;top:125.1px;letter-spacing:0.15px">R=0.57</div>
<div class="l" style="left:331.6px;top:143.0px;letter-spacing:0.15px">R=0.96</div>
<div class="l" style="left:332.6px;top:176.0px;letter-spacing:0.15px">R=2.37</div>
<div class="l" style="left:332.6px;top:197.0px;letter-spacing:0.15px">R=4.14</div>
<div class="l" style="left:333.0px;top:220.9px;letter-spacing:0.15px">R=7.75</div>
<div class="l" style="left:334.3px;top:240.2px;letter-spacing:0.15px">R=13.26</div>
</div>
</body></html>
